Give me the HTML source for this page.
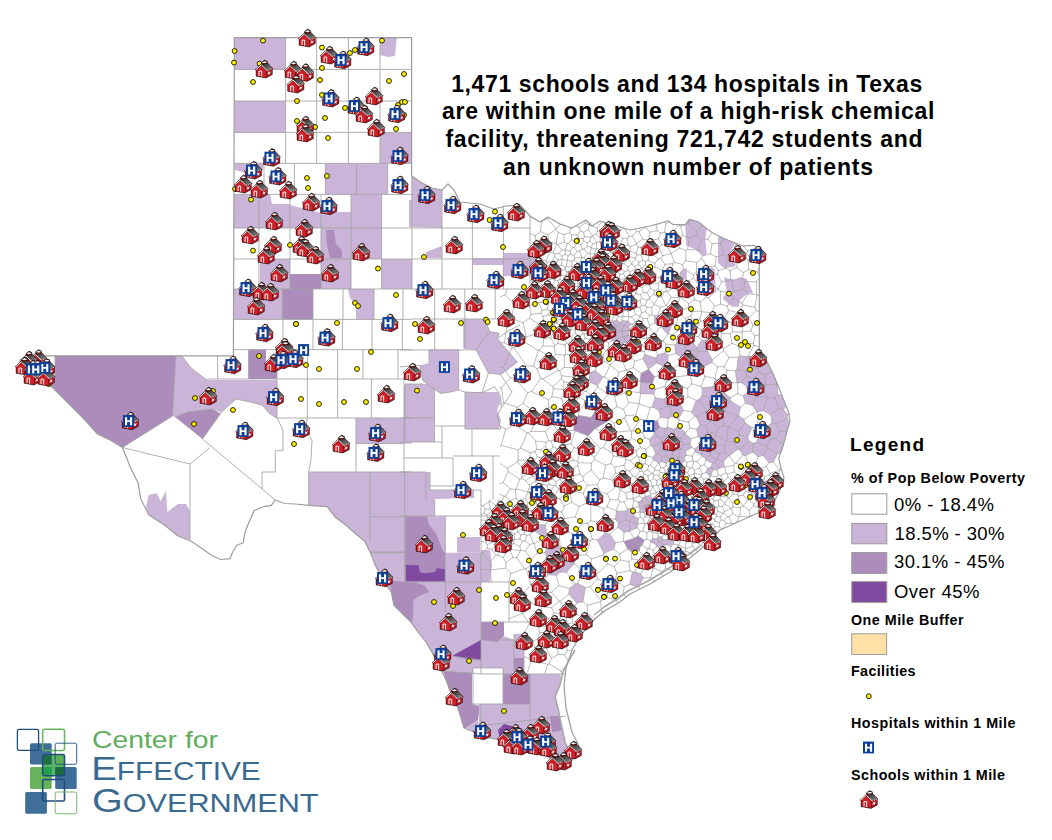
<!DOCTYPE html>
<html><head><meta charset="utf-8"><title>Texas map</title>
<style>html,body{margin:0;padding:0;background:#fff}svg{display:block}</style></head>
<body><svg width="1052" height="840" viewBox="0 0 1052 840">
<defs>
<clipPath id="txclip"><path d="M234.4,37.6 233.4,355.8 40.0,355.8 28.0,358.0 23.0,366.0 30.0,375.0 42.0,380.0 50.0,385.0 57.5,392.5 65.0,400.0 75.0,410.0 85.0,420.0 97.5,434.0 110.0,440.0 122.5,447.5 127.5,460.0 130.0,466.7 138.0,482.7 140.7,498.7 148.7,514.7 164.7,525.3 178.0,536.0 191.3,541.3 199.3,546.7 212.7,556.0 220.7,559.5 230.0,558.7 232.7,552.0 236.7,545.3 243.3,542.7 244.7,533.3 248.7,522.7 254.0,510.7 263.3,506.7 271.3,505.3 275.3,500.0 284.7,503.5 295.3,504.0 308.7,505.3 327.3,506.7 335.3,517.3 346.0,525.3 356.7,534.7 364.7,541.3 371.3,554.7 375.3,565.3 383.3,581.3 391.3,592.0 394.0,605.3 404.7,616.0 410.0,621.0 418.0,632.0 426.0,642.0 434.0,656.0 440.0,668.0 446.0,680.0 452.0,696.0 458.0,708.0 464.0,728.0 474.0,732.0 480.0,738.0 490.0,738.0 500.0,740.0 504.0,748.0 520.0,752.0 540.0,752.0 550.0,758.0 556.0,768.0 564.0,768.0 572.0,760.0 580.0,750.0 578.0,744.0 572.0,732.0 566.0,708.0 564.0,686.0 566.0,668.0 572.0,650.0 580.0,636.0 592.0,622.0 596.0,618.0 606.0,610.0 620.0,602.0 630.0,594.0 650.0,584.0 670.0,572.0 690.0,558.0 702.0,548.0 720.0,530.0 738.0,522.0 760.0,512.0 772.0,510.0 775.0,500.0 780.0,490.0 784.0,478.0 781.0,468.0 778.7,458.0 783.2,445.8 786.3,433.6 790.0,421.4 788.6,412.3 783.2,398.6 777.1,383.3 772.6,372.7 766.5,360.5 759.3,356.0 759.3,248.0 753.3,245.3 742.7,246.0 734.7,242.7 722.7,238.0 713.3,233.3 706.7,228.7 698.7,222.0 689.3,219.3 685.3,224.7 673.3,224.7 668.0,220.7 660.0,223.3 650.0,226.0 630.0,230.0 610.0,224.0 600.0,221.0 592.0,226.0 586.0,220.0 572.0,228.0 560.0,224.0 548.0,217.0 540.0,222.0 530.0,216.0 520.0,205.0 506.0,206.0 494.0,209.0 480.0,204.0 470.0,203.0 460.0,202.0 454.0,190.0 448.0,184.0 442.0,190.0 432.0,188.0 422.0,183.0 411.6,176.0 411.6,37.6Z"/></clipPath>
<linearGradient id="rg" x1="0" y1="0" x2="1" y2="1"><stop offset="0" stop-color="#2a2a2a"/><stop offset="1" stop-color="#8e8e8e"/></linearGradient>
<symbol id="s" width="18" height="18" viewBox="0 0 18 18" overflow="visible">
<path d="M0.1,9.8 L6.2,4.1 L7.2,2.2 L9.4,0.3 L12,1.2 L12.9,3.4 L17.9,8.5 L17.3,9.3 L17.3,14.6 L11,18 L1.1,16.2 L1.1,10.3 Z" fill="#2e0306" stroke="#2a0205" stroke-width="0.5" stroke-linejoin="round"/>
<path d="M6.6,4.7 L12.8,3.7 L17.6,8.6 L12.3,10.5 Z" fill="url(#rg)"/>
<path d="M11.6,10.7 L17,8.9 L17,14.2 L11.1,17.5 Z" fill="#ae1820"/>
<path d="M6.3,5.6 L11.7,10.7 L11.2,11 L10.9,17.5 L1.6,15.7 L1.6,10.1 L1,10.1 Z" fill="#cc2028"/>
<path d="M0.7,9.9 L6.3,4.9 L12.2,10.6" fill="none" stroke="#fff" stroke-width="0.95"/>
<path d="M12.2,10.6 L17.4,8.8" fill="none" stroke="#fff" stroke-width="0.7" stroke-dasharray="1.1 0.8"/>
<path d="M4.05,16.2 V11.1 H6.65 V16.7" fill="none" stroke="#fff" stroke-width="0.95"/>
<path d="M12.7,13.4 L15.4,12.3 M13.5,11.6 L14.6,14.4 M12.9,14.4 L15.2,11.8" stroke="#fff" stroke-width="0.8"/>
<path d="M7.9,3.9 Q9.3,4.6 10.8,3.5 L10.6,2.4 L8,2.6 Z" fill="#8a2a1c"/>
<ellipse cx="9.4" cy="2.1" rx="2.8" ry="1" fill="#fff"/>
<path d="M6.3,2.6 Q9.2,-0.7 12.5,1.8" fill="none" stroke="#111" stroke-width="0.8"/>
</symbol>
<symbol id="h" width="11" height="12" viewBox="0 0 11 12" overflow="visible">
<rect x="0" y="0" width="11" height="11.8" fill="#0c3f98"/>
<path d="M2,2.1 h2.1 v3.1 h2.9 v-3.1 h2.1 v8 h-2.1 v-3.1 h-2.9 v3.1 h-2.1 z" fill="#fff"/>
</symbol>
<symbol id="d" width="1" height="1" viewBox="0 0 1 1" overflow="visible">
<circle cx="0" cy="0" r="2.45" fill="#fff200" stroke="#1c1c00" stroke-width="0.95"/>
</symbol>
</defs>
<rect width="1052" height="840" fill="#fff"/>
<path d="M234.4,37.6 233.4,355.8 40.0,355.8 28.0,358.0 23.0,366.0 30.0,375.0 42.0,380.0 50.0,385.0 57.5,392.5 65.0,400.0 75.0,410.0 85.0,420.0 97.5,434.0 110.0,440.0 122.5,447.5 127.5,460.0 130.0,466.7 138.0,482.7 140.7,498.7 148.7,514.7 164.7,525.3 178.0,536.0 191.3,541.3 199.3,546.7 212.7,556.0 220.7,559.5 230.0,558.7 232.7,552.0 236.7,545.3 243.3,542.7 244.7,533.3 248.7,522.7 254.0,510.7 263.3,506.7 271.3,505.3 275.3,500.0 284.7,503.5 295.3,504.0 308.7,505.3 327.3,506.7 335.3,517.3 346.0,525.3 356.7,534.7 364.7,541.3 371.3,554.7 375.3,565.3 383.3,581.3 391.3,592.0 394.0,605.3 404.7,616.0 410.0,621.0 418.0,632.0 426.0,642.0 434.0,656.0 440.0,668.0 446.0,680.0 452.0,696.0 458.0,708.0 464.0,728.0 474.0,732.0 480.0,738.0 490.0,738.0 500.0,740.0 504.0,748.0 520.0,752.0 540.0,752.0 550.0,758.0 556.0,768.0 564.0,768.0 572.0,760.0 580.0,750.0 578.0,744.0 572.0,732.0 566.0,708.0 564.0,686.0 566.0,668.0 572.0,650.0 580.0,636.0 592.0,622.0 596.0,618.0 606.0,610.0 620.0,602.0 630.0,594.0 650.0,584.0 670.0,572.0 690.0,558.0 702.0,548.0 720.0,530.0 738.0,522.0 760.0,512.0 772.0,510.0 775.0,500.0 780.0,490.0 784.0,478.0 781.0,468.0 778.7,458.0 783.2,445.8 786.3,433.6 790.0,421.4 788.6,412.3 783.2,398.6 777.1,383.3 772.6,372.7 766.5,360.5 759.3,356.0 759.3,248.0 753.3,245.3 742.7,246.0 734.7,242.7 722.7,238.0 713.3,233.3 706.7,228.7 698.7,222.0 689.3,219.3 685.3,224.7 673.3,224.7 668.0,220.7 660.0,223.3 650.0,226.0 630.0,230.0 610.0,224.0 600.0,221.0 592.0,226.0 586.0,220.0 572.0,228.0 560.0,224.0 548.0,217.0 540.0,222.0 530.0,216.0 520.0,205.0 506.0,206.0 494.0,209.0 480.0,204.0 470.0,203.0 460.0,202.0 454.0,190.0 448.0,184.0 442.0,190.0 432.0,188.0 422.0,183.0 411.6,176.0 411.6,37.6Z" fill="#fff" stroke="none"/>
<path d="M234.4,69.4 285.6,69.4 285.6,37.6 234.4,37.6Z" fill="#cab5d9"/>
<path d="M234.4,132.4 285.6,132.4 285.6,101.0 234.4,101.0Z" fill="#cab5d9"/>
<path d="M380.0,163.4 411.6,163.4 411.6,132.4 380.0,132.4Z" fill="#cab5d9"/>
<path d="M380.0,55.0 388.0,57.0 395.0,56.0 396.0,45.0 397.0,37.6 380.0,37.6Z" fill="#cab5d9"/>
<path d="M325.4,194.4 387.6,194.4 387.6,163.4 325.4,163.4Z" fill="#cab5d9"/>
<path d="M234.4,170.0 248.0,173.0 262.0,172.0 264.0,163.4 234.4,163.4Z" fill="#cab5d9"/>
<path d="M259.0,228.0 259.0,194.4 233.9,194.4 233.8,228.0Z" fill="#cab5d9"/>
<path d="M259.0,228.0 290.0,228.0 290.0,204.0 272.0,204.0 270.0,194.4 259.0,194.4Z" fill="#cab5d9"/>
<path d="M290.0,228.0 321.0,228.0 321.0,213.0 290.0,205.0Z" fill="#cab5d9"/>
<path d="M321.0,228.0 351.0,228.0 351.0,212.0 321.0,212.0Z" fill="#cab5d9"/>
<path d="M351.0,228.0 381.6,228.0 381.6,194.4 351.0,194.4Z" fill="#cab5d9"/>
<path d="M321.0,259.0 381.6,259.0 381.6,228.0 321.0,228.0Z" fill="#cab5d9"/>
<path d="M327.0,245.0 330.0,258.0 342.0,258.0 342.0,250.0 336.0,244.0 334.0,230.0 326.0,230.0Z" fill="#ab8cbb"/>
<path d="M260.0,289.0 290.0,289.0 290.0,259.0 260.0,259.0Z" fill="#cab5d9"/>
<path d="M290.0,289.0 321.0,289.0 321.0,274.0 290.0,274.0Z" fill="#ab8cbb"/>
<path d="M321.0,289.0 351.0,289.0 351.0,259.0 321.0,259.0Z" fill="#cab5d9"/>
<path d="M381.6,289.0 412.0,289.0 412.0,259.0 381.6,259.0Z" fill="#cab5d9"/>
<path d="M233.6,319.4 282.4,319.4 282.4,289.0 233.6,289.0 233.6,292.2Z" fill="#cab5d9"/>
<path d="M282.4,319.4 313.0,319.4 313.0,289.0 282.4,289.0Z" fill="#ab8cbb"/>
<path d="M350.0,298.0 356.0,305.0 356.0,319.4 374.0,319.4 374.0,289.0 348.0,289.0Z" fill="#cab5d9"/>
<path d="M686.0,245.3 694.7,249.3 704.0,256.0 706.7,253.3 705.3,240.0 706.7,228.7 698.7,222.0 689.3,219.3 685.3,224.7Z" fill="#cab5d9"/>
<path d="M718.0,262.7 724.0,268.0 734.7,266.7 736.0,264.0 729.3,260.0 729.3,253.3 732.7,248.0 734.7,242.7 722.7,238.0 718.0,235.7Z" fill="#cab5d9"/>
<path d="M726.7,290.7 722.7,298.7 732.0,306.7 738.7,306.7 740.0,300.0 748.0,293.3 753.3,293.3 746.7,278.7 740.0,277.3 734.7,280.0 724.0,277.3Z" fill="#cab5d9"/>
<path d="M681.3,278.7 686.7,280.0 686.7,268.0 680.0,272.0Z" fill="#cab5d9"/>
<path d="M710.7,290.7 716.0,292.0 714.7,269.3 710.7,266.7Z" fill="#cab5d9"/>
<path d="M411.6,200.0 409.0,200.0 409.0,227.0 442.0,228.0 442.0,190.0 432.0,188.0 422.0,183.0 411.6,176.0Z" fill="#cab5d9"/>
<path d="M472.4,265.0 503.4,265.0 503.4,258.0 472.4,258.0Z" fill="#cab5d9"/>
<path d="M503.4,276.0 530.0,276.0 530.0,253.0 503.4,253.0Z" fill="#cab5d9"/>
<path d="M426.0,258.0 442.0,258.0 442.0,246.0 426.0,252.0Z" fill="#cab5d9"/>
<path d="M55.0,377.0 50.0,385.0 57.5,392.5 65.0,400.0 75.0,410.0 85.0,420.0 97.5,434.0 110.0,440.0 122.5,447.5 172.5,416.0 176.0,355.8 55.0,355.8Z" fill="#ab8cbb"/>
<path d="M172.5,416.0 175.0,417.0 187.5,412.0 212.5,409.0 221.0,412.5 236.0,399.0 250.0,402.0 262.0,405.0 270.0,414.0 277.0,418.0 277.0,380.0 207.0,380.0 200.0,375.0 190.0,367.0 182.0,356.0 176.0,355.8Z" fill="#cab5d9"/>
<path d="M202.5,439.0 220.5,414.0 212.5,409.0 187.5,412.0 175.0,417.0Z" fill="#ab8cbb"/>
<path d="M248.6,379.0 266.0,379.0 266.0,349.6 248.6,349.6Z" fill="#ab8cbb"/>
<path d="M266.0,379.0 277.0,379.0 277.0,372.0 266.0,365.0Z" fill="#ab8cbb"/>
<path d="M356.0,443.6 404.0,443.6 404.0,418.0 356.0,418.0Z" fill="#cab5d9"/>
<path d="M404.0,443.6 412.0,443.6 412.0,386.0 404.0,386.0Z" fill="#cab5d9"/>
<path d="M146.0,506.7 148.7,514.7 164.7,525.3 178.0,536.0 190.0,540.0 190.0,510.7 186.0,504.0 178.0,504.0 167.3,512.0 166.0,490.7 160.7,501.3 156.7,493.3 148.7,494.7Z" fill="#cab5d9"/>
<path d="M308.7,505.3 327.3,506.7 335.3,517.3 346.0,525.3 356.7,534.7 364.7,541.3 371.3,554.7 375.3,565.3 383.3,581.3 391.3,592.0 394.0,605.3 404.7,616.0 412.0,621.0 412.0,472.0 308.7,472.0Z" fill="#cab5d9"/>
<path d="M429.0,363.0 419.8,365.3 422.9,380.6 430.5,386.7 441.1,393.5 450.3,392.0 458.7,389.7 458.7,349.3 429.0,349.3Z" fill="#cab5d9"/>
<path d="M405.0,442.0 434.0,442.0 434.0,384.0 405.0,384.0Z" fill="#cab5d9"/>
<path d="M400.0,442.0 405.0,442.0 405.0,418.0 400.0,418.0Z" fill="#cab5d9"/>
<path d="M465.0,429.0 499.0,429.0 501.0,420.0 497.0,410.0 501.0,400.0 498.0,392.0 465.0,392.0Z" fill="#cab5d9"/>
<path d="M463.2,348.6 476.2,350.1 488.4,373.0 500.6,374.5 517.3,362.3 497.5,338.7 499.0,333.3 489.9,331.8 484.6,318.9 463.2,318.9Z" fill="#cab5d9"/>
<path d="M400.0,516.3 434.7,516.3 434.7,499.0 474.0,498.0 474.0,490.0 430.0,490.0 430.0,472.0 400.0,472.0Z" fill="#cab5d9"/>
<path d="M400.0,611.3 404.7,616.0 410.0,621.0 418.0,632.0 426.0,642.0 434.0,656.0 440.0,668.0 443.0,671.0 481.0,674.0 481.0,622.0 481.0,582.0 405.0,582.0 405.0,516.0 400.0,516.0Z" fill="#cab5d9"/>
<path d="M405.3,582.0 445.3,582.0 445.3,516.3 405.3,516.3Z" fill="#cab5d9"/>
<path d="M405.3,564.7 418.7,565.3 420.0,572.0 424.0,573.3 434.7,572.0 437.3,568.0 445.3,569.3 445.3,553.3 442.7,550.7 436.0,533.3 429.3,525.3 426.7,516.3 405.3,516.3Z" fill="#ab8cbb"/>
<path d="M405.3,581.6 445.3,581.6 445.3,569.3 437.3,568.0 434.7,572.0 424.0,573.3 420.0,572.0 418.7,565.3 405.3,564.7Z" fill="#7f4a9f"/>
<path d="M445.3,582.0 481.3,582.0 481.3,552.7 445.3,552.7Z" fill="#cab5d9"/>
<path d="M457.0,552.7 480.0,552.7 480.0,537.0 457.0,537.0Z" fill="#cab5d9"/>
<path d="M391.3,592.0 394.0,605.3 404.7,616.0 410.0,621.0 410.2,621.3 412.0,623.0 413.3,612.0 413.3,600.0 418.7,596.0 429.3,592.0 424.0,585.3 413.3,582.0 405.3,582.0 389.3,580.0Z" fill="#ab8cbb"/>
<path d="M481.0,582.0 490.0,582.0 492.0,566.0 490.0,550.0 481.0,550.0Z" fill="#cab5d9"/>
<path d="M481.0,642.0 498.0,642.0 504.0,636.0 504.0,622.0 481.0,622.0Z" fill="#ab8cbb"/>
<path d="M468.0,659.0 481.0,660.0 481.0,640.0 452.0,656.0Z" fill="#7f4a9f"/>
<path d="M481.0,674.0 514.0,674.0 514.0,640.0 504.0,636.0 498.0,642.0 481.0,640.0Z" fill="#cab5d9"/>
<path d="M514.0,658.0 524.0,658.0 524.0,634.0 514.0,634.0Z" fill="#cab5d9"/>
<path d="M514.0,672.0 524.0,672.0 524.0,658.0 514.0,658.0Z" fill="#ab8cbb"/>
<path d="M446.0,680.0 452.0,696.0 458.0,708.0 464.0,728.0 466.0,728.0 478.0,720.0 480.0,706.0 472.0,704.0 472.0,673.0 443.0,671.0Z" fill="#ab8cbb"/>
<path d="M503.0,704.0 530.0,704.0 530.0,674.0 503.0,674.0Z" fill="#ab8cbb"/>
<path d="M530.0,724.0 568.0,722.0 566.0,708.0 564.0,686.0 560.0,674.0 530.0,674.0Z" fill="#cab5d9"/>
<path d="M479.0,726.0 530.0,726.0 530.0,704.0 479.0,704.0Z" fill="#cab5d9"/>
<path d="M474.0,732.0 480.0,738.0 490.0,738.0 500.0,740.0 504.0,748.0 520.0,752.0 540.0,752.0 550.0,758.0 556.0,768.0 564.0,768.0 572.0,760.0 580.0,750.0 578.0,744.0 572.0,732.0 566.0,716.0 479.0,726.0 478.0,720.0 466.0,728.0Z" fill="#cab5d9"/>
<path d="M473.0,704.0 503.0,704.0 503.0,668.0 473.0,668.0Z" fill="#ffffff"/>
<path d="M500.0,740.0 512.0,740.0 512.0,726.0 504.0,724.0 498.0,730.0Z" fill="#7f4a9f"/>
<path d="M552.0,732.0 566.0,730.0 562.0,716.0 550.0,716.0Z" fill="#ab8cbb"/>
<path d="M575.0,650.0 568.0,662.0 563.0,672.0 560.0,685.0 555.0,697.0 558.0,708.0 561.0,723.0 565.0,742.0 570.0,752.0 580.0,750.0 578.0,744.0 572.0,732.0 566.0,708.0 564.0,686.0 566.0,668.0 572.0,650.0Z" fill="#fff"/>
<path d="M698.5,399.9 696.2,400.4 691.7,411.9 694.4,415.9 696.3,416.5 706.7,411.7 706.7,410.9ZM629.1,520.8 626.2,520.0 618.4,523.2 617.7,527.4 624.0,532.2 629.5,531.2 629.8,530.7 629.4,521.2ZM660.6,326.0 660.6,326.3 667.6,334.0 668.2,333.7 671.8,324.8 666.2,319.3 665.5,319.5ZM644.7,505.3 641.6,500.5 638.1,502.1 639.3,506.9 639.8,507.2 644.4,505.7ZM726.8,441.2 728.2,427.1 723.8,425.4 718.7,427.8 715.7,433.5 716.0,435.1ZM576.9,603.1 582.8,601.7 585.4,587.7 577.9,583.6 574.7,583.9 569.5,588.6 568.8,594.1ZM724.9,451.7 728.8,455.7 729.1,455.8 738.3,449.1 733.6,442.1 726.9,441.4 724.6,445.1ZM775.6,423.8 787.0,418.6 787.5,414.6 783.4,409.5 778.8,408.4 770.7,414.6 772.1,422.5ZM669.5,446.1 669.4,448.7 672.5,451.7 679.7,448.8 674.9,443.4 671.5,443.7ZM661.3,541.9 658.8,541.9 656.5,544.9 656.8,546.6 662.0,549.4 663.8,545.7ZM669.3,458.2 665.4,455.8 662.0,457.2 661.4,461.4 666.2,463.4 669.6,460.8ZM615.6,333.0 622.1,331.2 622.1,331.1 621.9,330.0 617.5,326.4 615.7,326.7 614.3,328.7 614.9,332.5ZM745.3,455.7 752.9,452.1 753.4,443.3 749.2,441.3 739.4,449.4 742.9,454.8ZM710.3,416.0 710.0,421.4 718.7,427.8 723.8,425.4 722.0,414.5ZM574.2,562.6 561.7,555.1 557.6,559.6 560.3,572.1 566.5,572.3 574.2,563.6ZM692.2,341.6 684.4,344.1 684.2,344.4 685.9,350.9 696.7,349.7 696.6,347.7ZM724.2,392.7 718.5,393.5 714.7,398.7 714.9,402.3 724.2,410.5 730.4,400.7 730.2,397.7ZM775.4,438.5 780.1,431.1 775.6,423.8 772.1,422.5 764.7,428.9 771.1,439.1ZM544.9,552.7 548.8,559.8 557.6,559.6 561.7,555.1 562.0,548.5 560.1,546.2 547.5,547.2ZM656.5,362.8 664.3,366.4 667.4,365.8 668.1,355.3 665.3,352.7 657.7,355.0 655.8,358.2ZM533.7,267.5 537.8,259.1 537.1,255.8 530.8,249.9 530.0,250.0 530.0,268.4ZM676.9,343.2 674.8,345.1 675.9,353.6 682.1,357.5 685.9,350.9 684.2,344.4ZM671.2,416.6 678.5,418.9 683.3,410.2 679.5,402.2 670.0,407.1ZM680.8,438.1 685.4,434.2 685.4,432.6 678.1,426.1 673.8,429.4 673.8,434.0 679.4,438.1ZM702.4,437.8 700.6,438.1 699.8,444.4 705.1,448.6 707.7,448.4 709.9,441.7ZM767.2,447.7 777.7,453.5 780.7,452.6 783.2,445.8 783.4,445.0 775.4,438.5 771.1,439.1 766.8,446.2ZM615.5,542.7 609.7,534.0 605.1,533.6 597.4,539.9 603.9,553.3 613.7,548.9ZM753.9,378.7 758.8,372.5 757.4,368.5 749.1,366.8 745.9,371.2 746.9,375.9ZM752.1,405.0 756.1,396.9 752.0,389.1 750.8,389.2 743.4,396.1 745.4,403.5ZM738.5,415.6 737.8,415.8 729.0,426.9 738.3,431.8 745.0,422.9 743.9,419.4ZM769.0,462.6 773.1,462.1 777.7,453.5 767.2,447.7 763.1,455.4ZM771.1,439.1 764.7,428.9 761.7,428.9 756.5,442.4 766.8,446.2ZM730.4,400.7 724.2,410.5 724.2,410.7 737.8,415.8 738.5,415.6 740.4,407.3ZM707.6,468.3 706.1,472.6 710.2,476.2 710.7,475.9 713.1,469.6 710.9,467.6ZM748.2,355.8 746.3,356.8 749.1,366.8 757.4,368.5 762.4,360.0 762.3,359.9ZM632.4,337.8 628.9,335.3 624.0,336.9 625.9,342.0 628.2,342.7ZM746.3,356.8 740.2,355.8 738.3,357.2 736.9,369.5 745.9,371.2 749.1,366.8ZM654.5,434.2 649.2,439.3 650.7,445.4 652.3,446.0 659.7,443.9 661.1,441.8 661.3,438.6ZM667.2,406.0 664.2,399.3 655.2,397.7 652.2,406.8 658.9,410.5ZM778.8,408.4 775.0,397.7 767.3,397.9 763.2,410.5 770.7,414.6ZM640.6,393.7 653.7,394.0 655.4,389.2 652.3,383.4 640.8,382.5 639.8,392.4ZM690.6,374.6 701.5,369.8 702.4,367.2 696.4,359.7 684.8,361.7ZM719.0,453.8 724.9,451.7 724.6,445.1 716.7,445.6 714.7,450.3ZM623.0,336.4 622.1,331.2 615.6,333.0 617.5,339.3ZM702.4,367.2 712.1,362.3 712.2,359.8 707.5,351.3 698.1,351.5 696.4,359.7ZM752.9,452.1 758.1,456.8 763.1,455.4 767.2,447.7 766.8,446.2 756.5,442.4 753.4,443.3ZM728.0,383.5 725.5,380.2 715.2,379.2 713.8,386.6 718.5,393.5 724.2,392.7ZM714.7,398.7 718.5,393.5 713.8,386.6 702.2,388.0 702.1,395.7ZM642.4,498.2 641.6,500.5 644.7,505.3 648.1,504.0 649.0,502.7 644.7,497.3ZM615.4,519.2 618.4,523.2 626.2,520.0 625.7,511.2 616.5,511.3ZM696.3,416.5 700.1,425.0 705.5,425.6 710.0,421.4 710.3,416.0 706.7,411.7ZM716.0,435.1 715.7,433.5 707.6,431.6 702.4,437.8 709.9,441.7 712.9,440.7ZM724.2,410.5 714.9,402.3 706.7,410.9 706.7,411.7 710.3,416.0 722.0,414.5 724.2,410.7ZM658.4,536.6 657.1,538.5 658.8,541.9 661.3,541.9 662.9,539.5 662.0,537.1ZM741.1,382.4 746.9,375.9 745.9,371.2 736.9,369.5 735.4,370.8 737.0,382.5 737.7,382.9ZM659.7,443.9 652.3,446.0 655.8,453.8 658.1,453.6 661.4,449.7ZM626.2,520.0 629.1,520.8 633.9,516.1 634.3,513.1 630.9,508.7 627.6,508.8 625.7,511.2ZM707.6,431.6 705.5,425.6 700.1,425.0 696.7,429.3 698.3,436.6 700.6,438.1 702.4,437.8ZM673.8,544.0 673.3,541.9 668.6,538.2 667.1,539.8 667.0,544.5 670.8,546.3ZM597.4,385.5 603.0,377.0 595.2,370.7 590.2,372.6 589.3,379.4 590.6,382.6ZM787.0,418.6 775.6,423.8 780.1,431.1 786.9,431.7 789.6,422.8ZM716.0,459.7 715.1,461.8 719.1,468.1 724.0,466.8 723.6,461.5 717.3,459.0ZM758.8,372.5 753.9,378.7 755.4,385.3 764.3,385.6 765.2,384.8 765.2,375.0ZM628.0,320.9 627.1,321.4 625.3,325.4 628.6,327.7 631.6,324.2ZM712.4,463.3 715.1,461.8 716.0,459.7 710.1,455.1 705.8,458.4 706.1,460.0ZM678.6,463.6 681.6,464.0 684.8,460.8 683.8,458.0 679.2,457.1 678.1,457.6 677.8,458.4ZM765.2,375.0 765.2,384.8 776.6,384.4 776.7,382.3 772.6,372.7 771.9,371.2ZM707.7,448.4 705.1,448.6 701.2,454.7 702.0,456.2 705.8,458.4 710.1,455.1 710.9,451.4ZM612.2,340.3 616.0,341.0 617.0,340.3 617.5,339.3 615.6,333.0 614.9,332.5 609.4,334.8ZM659.7,443.9 661.4,449.7 666.2,450.7 669.4,448.7 669.5,446.1 661.1,441.8ZM681.1,448.8 685.3,451.3 691.9,447.6 689.9,444.1 683.5,444.5ZM635.0,571.9 632.3,572.2 629.8,584.5 638.8,586.9 643.2,577.9 640.4,573.7ZM780.1,431.1 775.4,438.5 783.4,445.0 786.3,433.6 786.9,431.7ZM682.1,357.5 682.8,360.6 684.8,361.7 696.4,359.7 698.1,351.5 696.7,349.7 685.9,350.9ZM750.8,389.2 752.0,389.1 755.4,385.3 753.9,378.7 746.9,375.9 741.1,382.4ZM757.6,411.6 763.2,410.5 767.3,397.9 766.2,396.9 756.1,396.9 752.1,405.0 756.5,411.1ZM724.6,445.1 726.9,441.4 726.8,441.2 716.0,435.1 712.9,440.7 716.7,445.6ZM747.5,438.0 752.0,427.5 745.0,422.9 738.3,431.8 739.2,434.8ZM678.1,457.6 672.8,454.2 669.3,458.2 669.6,460.8 671.6,461.9 677.8,458.4ZM699.8,444.4 694.4,449.2 695.0,451.8 701.2,454.7 705.1,448.6ZM658.9,463.0 661.4,461.4 662.0,457.2 658.1,453.6 655.8,453.8 652.6,457.4 653.3,459.7 658.7,463.0ZM661.1,441.8 669.5,446.1 671.5,443.7 669.6,437.2 664.7,436.2 661.3,438.6ZM672.5,451.7 669.4,448.7 666.2,450.7 665.4,455.8 669.3,458.2 672.8,454.2ZM738.3,431.8 729.0,426.9 728.2,427.1 726.8,441.2 726.9,441.4 733.6,442.1 739.2,434.8ZM629.8,530.7 637.2,527.8 637.2,524.4 629.4,521.2ZM765.2,384.8 764.3,385.6 766.2,396.9 767.3,397.9 775.0,397.7 777.8,394.7 777.1,385.0 776.6,384.4ZM621.9,330.0 623.8,325.9 620.5,322.6 617.5,326.4ZM639.8,507.2 639.8,512.0 640.2,512.3 643.9,512.6 645.7,511.1 644.4,505.7ZM719.0,453.8 714.7,450.3 710.9,451.4 710.1,455.1 716.0,459.7 717.3,459.0ZM543.3,537.2 546.4,534.2 545.3,525.1 537.4,524.6 534.9,531.2ZM710.9,467.6 713.1,469.6 717.5,470.1 719.1,468.1 715.1,461.8 712.4,463.3ZM777.8,394.7 775.0,397.7 778.8,408.4 783.4,409.5 786.1,405.8 783.2,398.6 781.8,395.1ZM716.7,445.6 712.9,440.7 709.9,441.7 707.7,448.4 710.9,451.4 714.7,450.3ZM686.3,455.4 685.3,451.3 681.1,448.8 680.4,449.0 679.2,457.1 683.8,458.0ZM747.5,438.0 739.2,434.8 733.6,442.1 738.3,449.1 739.4,449.4 749.2,441.3ZM664.7,436.2 664.9,428.6 659.7,427.1 654.4,432.9 654.5,434.2 661.3,438.6ZM620.5,322.6 620.5,322.5 616.6,320.2 613.0,321.3 615.7,326.7 617.5,326.4ZM644.7,497.3 649.0,502.7 649.5,502.4 651.8,498.2 650.4,495.5 645.2,496.4ZM669.6,437.2 673.8,434.0 673.8,429.4 667.5,427.1 664.9,428.6 664.7,436.2ZM657.1,538.5 652.6,538.8 650.5,540.7 650.8,541.7 656.5,544.9 658.8,541.9ZM674.9,443.4 679.7,448.8 680.4,449.0 681.1,448.8 683.5,444.5 680.8,438.1 679.4,438.1ZM668.1,418.5 671.2,416.6 670.0,407.1 667.2,406.0 658.9,410.5 660.6,417.2ZM696.6,347.7 696.7,349.7 698.1,351.5 707.5,351.3 710.5,345.0 708.2,339.9 701.9,340.2ZM622.1,331.1 628.6,330.6 628.9,330.3 628.6,327.7 625.3,325.4 623.8,325.9 621.9,330.0ZM660.6,326.0 665.5,319.5 658.0,315.0 654.5,315.9 654.5,323.1ZM683.5,444.5 689.9,444.1 691.0,438.6 685.4,434.2 680.8,438.1ZM543.9,567.6 547.8,574.7 556.4,575.2 560.3,572.1 557.6,559.6 548.8,559.8ZM722.0,414.5 723.8,425.4 728.2,427.1 729.0,426.9 737.8,415.8 724.2,410.7ZM637.2,524.4 637.8,523.9 638.3,518.6 633.9,516.1 629.1,520.8 629.4,521.2ZM614.3,328.7 615.7,326.7 613.0,321.3 612.3,321.0 611.1,321.2 608.9,327.8ZM656.5,362.8 655.8,358.2 645.0,354.4 642.9,358.7 648.6,369.2ZM715.7,433.5 718.7,427.8 710.0,421.4 705.5,425.6 707.6,431.6ZM714.7,398.7 702.1,395.7 698.5,399.9 706.7,410.9 714.9,402.3ZM628.9,335.3 628.6,330.6 622.1,331.1 622.1,331.2 623.0,336.4 624.0,336.9ZM679.5,402.2 679.6,401.9 673.1,392.7 670.0,392.1 664.2,399.3 667.2,406.0 670.0,407.1ZM679.2,457.1 680.4,449.0 679.7,448.8 672.5,451.7 672.8,454.2 678.1,457.6ZM764.3,385.6 755.4,385.3 752.0,389.1 756.1,396.9 766.2,396.9ZM765.4,360.4 762.4,360.0 757.4,368.5 758.8,372.5 765.2,375.0 771.9,371.2 768.4,364.2ZM667.1,539.8 662.9,539.5 661.3,541.9 663.8,545.7 667.0,544.5ZM723.6,461.5 728.8,455.7 724.9,451.7 719.0,453.8 717.3,459.0ZM658.1,453.6 662.0,457.2 665.4,455.8 666.2,450.7 661.4,449.7ZM574.2,562.6 579.7,555.3 573.8,545.9 562.0,548.5 561.7,555.1ZM625.9,342.0 624.0,336.9 623.0,336.4 617.5,339.3 617.0,340.3 622.4,344.0ZM623.8,325.9 625.3,325.4 627.1,321.4 622.3,320.3 620.5,322.5 620.5,322.6ZM671.5,443.7 674.9,443.4 679.4,438.1 673.8,434.0 669.6,437.2ZM644.7,505.3 644.4,505.7 645.7,511.1 648.3,511.4 650.7,509.2 648.1,504.0Z" fill="#cab5d9"/>
<path d="M641.2,373.3 640.0,381.1 640.8,382.5 652.3,383.4 654.5,376.6 648.5,369.3ZM574.0,429.8 574.9,430.8 587.7,435.6 588.5,435.4 595.2,428.2 591.1,417.5 578.5,415.5 573.7,418.9ZM644.3,540.2 638.1,536.0 634.2,538.1 634.1,538.3 635.2,542.8 640.5,545.8 641.9,545.2ZM595.7,428.2 609.6,419.9 608.0,412.9 598.3,406.5 591.1,417.5 595.2,428.2ZM623.9,541.5 627.7,549.1 629.7,549.8 635.2,542.8 634.1,538.3ZM635.2,542.8 629.7,549.8 631.2,551.7 639.1,550.6 640.5,545.8ZM659.7,427.1 657.4,420.9 647.4,420.9 647.8,426.6 654.4,432.9Z" fill="#ab8cbb"/>
<path d="M530.0,217.1 535.4,219.2M540.9,221.4 541.5,221.7M535.1,235.8 530.0,233.5M535.1,235.8 540.5,231.7M541.5,221.7 540.5,231.7M541.5,221.7 547.6,218.8M548.3,217.2 547.6,218.8M527.5,672.2 531.4,659.8M524.0,656.5 530.9,658.9M531.4,659.8 530.9,658.9M570.6,228.6 571.6,227.9M570.6,228.6 568.6,226.9M556.0,228.6 547.6,218.8M556.0,228.6 561.0,224.3M500.0,342.8 504.4,342.7M504.4,342.7 511.9,347.7M511.9,347.7 503.3,367.6M503.3,367.6 500.0,367.4M732.1,343.3 738.2,345.8M738.2,345.8 742.4,341.5M742.4,341.5 741.9,332.2M741.9,332.2 732.7,331.7M732.1,343.3 730.2,333.8M730.2,333.8 732.7,331.7M531.4,659.8 547.8,664.4M545.1,673.0 547.8,664.4M546.4,648.4 535.1,648.8M546.4,648.4 551.3,658.3M551.3,658.3 549.0,663.8M535.1,648.8 530.9,658.9M547.8,664.4 549.0,663.8M522.2,613.4 509.0,618.8M522.2,613.4 529.4,623.6M529.4,623.6 523.7,634.0M535.1,648.8 533.0,641.8M533.0,641.8 524.0,637.0M501.2,445.4 500.0,446.3M501.2,445.4 505.7,429.2M505.7,429.2 500.0,425.9M584.6,220.8 585.3,222.7M575.7,225.9 578.9,227.2M578.9,227.2 585.3,222.7M602.0,221.6 597.0,227.9M589.9,223.9 589.2,224.8M597.0,227.9 589.3,225.2M589.2,224.8 589.3,225.2M585.3,222.7 589.2,224.8M757.1,295.1 756.6,294.6M754.8,307.4 757.1,295.1M754.8,307.4 742.7,304.8M742.0,303.2 742.7,304.8M742.0,303.2 747.8,293.9M747.8,293.9 756.6,294.6M756.2,281.7 756.6,294.6M759.3,295.1 757.1,295.1M756.2,281.7 759.3,278.1M666.0,223.3 664.5,232.3M666.0,223.3 664.2,222.0M664.5,232.3 660.8,233.1M660.8,233.1 657.3,230.6M656.1,224.3 657.3,230.6M658.5,238.6 651.0,240.8M648.4,239.5 651.0,240.8M648.4,239.5 649.9,232.1M660.8,233.1 658.5,238.6M649.9,232.1 657.3,230.6M723.3,348.6 723.5,350.6M723.5,350.6 729.1,357.4M732.1,343.3 723.3,348.6M738.2,345.8 740.2,355.8M740.2,355.8 738.3,357.2M729.1,357.4 738.3,357.2M738.3,357.2 736.9,369.5M745.9,371.2 736.9,369.5M740.2,355.8 746.3,356.8M745.9,371.2 749.1,366.8M746.3,356.8 749.1,366.8M754.8,307.4 756.3,310.5M756.3,310.5 759.3,311.7M746.3,356.8 748.2,355.8M757.4,368.5 749.1,366.8M762.4,360.0 762.3,359.9M762.4,360.0 757.4,368.5M748.2,355.8 762.3,359.9M756.3,310.5 748.7,317.9M759.3,323.8 753.0,325.2M753.0,325.2 748.7,317.9M730.2,333.8 721.5,333.3M723.3,348.6 720.3,345.4M720.3,345.4 721.5,333.3M710.5,345.0 707.5,351.3M720.3,345.4 710.5,345.0M723.5,350.6 712.2,359.8M712.2,359.8 707.5,351.3M729.1,357.4 724.0,366.8M717.7,366.8 724.0,366.8M717.7,366.8 712.1,362.3M712.2,359.8 712.1,362.3M717.7,366.8 714.8,378.5M714.8,378.5 704.9,376.2M712.1,362.3 702.4,367.2M702.4,367.2 701.5,369.8M701.5,369.8 704.9,376.2M582.0,523.2 575.4,534.7M582.0,523.2 575.2,516.9M575.2,516.9 564.5,518.6M575.4,534.7 562.4,530.1M564.5,518.6 562.0,523.4M562.4,530.1 562.0,523.4M613.9,422.9 624.8,417.8M624.8,417.8 630.4,430.7M613.9,422.9 615.6,432.4M615.6,432.4 630.4,430.7M599.7,479.9 603.1,478.1M591.1,470.2 599.7,479.9M594.6,459.6 605.6,465.2M591.4,463.2 594.6,459.6M591.4,463.2 591.1,470.2M605.6,465.2 603.1,478.1M561.1,671.0 549.0,663.8M561.1,671.0 561.7,673.8M540.7,605.5 541.2,606.2M540.7,605.5 525.4,602.7M529.4,623.6 535.3,623.5M535.3,623.5 541.5,615.6M525.4,602.7 522.2,613.4M541.2,606.2 541.5,615.6M535.3,623.5 537.9,626.1M537.9,626.1 539.7,632.5M533.0,641.8 538.6,637.5M538.6,637.5 539.7,632.5M546.4,648.4 548.0,644.9M548.0,644.9 545.0,639.8M538.6,637.5 545.0,639.8M551.6,607.8 541.2,606.2M540.7,605.5 547.0,592.2M547.0,592.2 551.5,592.4M551.6,607.8 559.4,601.2M551.5,592.4 559.4,601.2M535.6,441.1 546.2,442.2M535.6,441.1 536.6,449.2M536.6,449.2 540.9,449.9M540.9,449.9 545.5,446.2M545.5,446.2 546.2,442.2M538.1,350.5 533.7,366.2M524.2,341.7 538.1,350.5M514.0,347.8 524.2,341.7M514.0,347.8 526.2,365.9M526.2,365.9 533.7,366.2M552.2,424.6 545.3,431.5M545.3,431.5 530.8,431.4M544.1,414.0 552.2,424.6M544.1,414.0 539.0,414.9M539.0,414.9 530.8,431.4M545.3,431.5 548.6,440.6M546.2,442.2 548.6,440.6M535.6,441.1 528.6,433.0M530.8,431.4 528.6,433.0M530.2,452.7 520.5,448.0M530.2,452.7 529.9,460.1M529.9,460.1 518.2,460.1M518.2,460.1 518.1,449.8M520.5,448.0 518.1,449.8M527.3,433.1 528.6,433.0M534.9,451.6 536.6,449.2M534.9,451.6 530.2,452.7M527.3,433.1 520.5,448.0M507.5,468.3 517.4,462.1M517.4,462.1 518.2,460.1M501.2,445.4 518.1,449.8M507.5,468.3 500.0,463.5M505.7,429.2 515.2,424.9M515.2,424.9 527.3,433.1M541.1,585.0 530.9,584.6M547.0,592.2 541.1,585.0M525.4,602.7 521.9,595.7M530.9,584.6 521.9,595.7M521.9,595.7 509.0,592.2M481.0,569.5 490.0,569.7M491.4,582.0 490.1,569.9M490.1,569.9 490.0,569.7M569.7,232.7 571.5,234.6M569.7,232.7 570.6,228.6M571.5,234.6 577.2,235.0M578.9,227.2 580.5,231.1M577.2,235.0 580.5,231.1M588.3,229.8 589.3,225.2M588.3,229.8 583.6,232.3M580.5,231.1 583.6,232.3M639.2,403.8 635.7,415.0M639.2,403.8 650.2,407.7M650.2,407.7 646.6,420.1M635.7,415.0 640.1,419.5M640.1,419.5 646.6,420.1M623.5,409.3 625.9,415.5M625.9,415.5 635.7,415.0M628.7,402.7 639.1,403.5M639.1,403.5 639.2,403.8M623.5,409.3 628.7,402.7M653.7,394.0 640.6,393.7M655.2,397.7 653.7,394.0M655.2,397.7 652.2,406.8M639.1,403.5 640.6,393.7M652.2,406.8 650.2,407.7M632.9,430.8 640.1,419.5M631.6,431.4 632.9,430.8M624.8,417.8 625.9,415.5M630.4,430.7 631.6,431.4M640.0,381.1 629.5,381.3M640.0,381.1 640.8,382.5M640.8,382.5 639.8,392.4M639.8,392.4 626.1,391.5M629.5,381.3 625.5,385.7M625.5,385.7 626.1,391.5M652.3,383.4 655.4,389.2M653.7,394.0 655.4,389.2M640.6,393.7 639.8,392.4M652.3,383.4 640.8,382.5M628.7,402.7 625.2,392.9M625.2,392.9 626.1,391.5M608.0,412.9 617.0,406.7M608.0,412.9 598.3,406.5M598.3,406.5 598.3,406.4M598.3,406.4 607.9,394.3M617.0,406.7 614.6,396.4M614.6,396.4 609.7,393.9M609.7,393.9 607.9,394.3M613.9,422.9 609.6,419.9M609.6,419.9 608.0,412.9M623.5,409.3 617.0,406.7M625.2,392.9 614.6,396.4M616.3,380.4 612.8,381.9M616.3,380.4 625.5,385.7M612.8,381.9 609.7,393.9M607.9,394.3 597.8,386.9M591.5,401.2 598.3,406.4M591.5,401.2 591.2,395.9M591.2,395.9 597.8,386.9M538.1,350.5 539.1,350.2M524.2,341.7 526.3,336.9M543.0,345.9 539.1,350.2M526.3,336.9 539.6,332.7M543.0,345.9 543.8,338.6M543.8,338.6 539.6,332.7M554.8,345.2 550.6,337.6M554.1,346.3 554.8,345.2M554.1,346.3 543.0,345.9M543.8,338.6 550.6,337.6M539.1,350.2 551.8,358.1M554.1,346.3 555.4,354.4M555.4,354.4 551.8,358.1M536.9,368.8 533.7,366.2M536.9,368.8 551.3,361.0M551.3,361.0 551.8,358.1M741.9,332.2 742.6,331.6M742.6,331.6 741.4,317.7M732.7,331.7 731.7,322.9M731.7,322.9 741.4,317.7M742.7,304.8 739.6,313.2M748.7,317.9 741.4,317.7M739.6,313.2 741.4,317.7M742.6,331.6 750.8,331.0M750.8,331.0 753.0,325.2M741.4,317.7 741.4,317.7M756.2,281.7 744.9,281.8M747.8,293.9 743.6,289.2M744.9,281.8 743.6,289.2M757.6,272.1 759.3,267.5M757.6,272.1 748.7,269.2M748.1,259.8 758.8,259.1M748.1,259.8 748.7,269.2M758.8,259.1 759.3,259.9M759.3,275.3 757.6,272.1M743.5,272.7 742.4,278.3M743.5,272.7 748.7,269.2M744.9,281.8 742.4,278.3M674.9,284.3 681.6,280.6M680.3,273.8 681.6,280.6M680.3,273.8 671.9,274.5M674.9,284.3 670.9,280.4M670.9,280.4 671.9,274.5M733.3,298.8 742.0,303.2M733.3,298.8 727.1,306.1M739.6,313.2 728.5,310.3M727.1,306.1 728.5,310.3M694.7,299.7 700.1,301.9M700.1,301.9 701.3,311.0M694.7,299.7 688.6,303.7M701.3,311.0 692.2,311.7M692.2,311.7 688.1,307.6M688.6,303.7 688.1,307.6M692.2,311.7 690.7,316.1M685.3,318.5 690.7,316.1M681.1,314.6 681.9,310.8M685.3,318.5 681.1,314.6M688.1,307.6 681.9,310.8M686.0,283.0 686.3,290.5M686.3,290.5 681.0,294.4M681.6,280.6 686.0,283.0M674.9,284.3 674.7,287.5M681.0,294.4 674.7,287.5M686.3,290.5 693.0,292.5M693.0,292.5 694.7,299.7M688.6,303.7 680.2,297.1M681.0,294.4 680.2,297.1M681.9,310.8 676.9,306.0M676.9,306.0 679.9,297.3M679.9,297.3 680.2,297.1M679.9,297.3 671.3,297.5M674.7,287.5 667.1,291.5M671.3,297.5 667.1,291.5M722.8,240.3 720.8,243.0M722.8,240.3 720.8,237.0M712.1,243.8 720.8,243.0M712.1,243.8 707.8,239.4M711.9,232.3 707.8,239.4M722.8,240.3 726.3,239.4M731.4,241.4 736.0,244.3M736.0,244.3 737.3,243.8M743.5,272.7 736.8,267.5M746.2,257.9 737.5,259.3M748.1,259.8 746.2,257.9M736.8,267.5 737.5,259.3M737.5,259.3 731.5,254.8M731.5,254.8 727.0,255.9M736.8,267.5 729.9,270.6M729.9,270.6 725.9,268.2M725.9,268.2 727.0,255.9M736.0,244.3 731.5,254.8M720.8,243.0 723.5,254.6M723.5,254.6 727.0,255.9M712.1,243.8 710.5,253.8M723.5,254.6 716.3,256.9M710.5,253.8 716.3,256.9M759.3,256.8 758.8,259.1M724.0,366.8 727.2,370.2M736.9,369.5 735.4,370.8M735.4,370.8 727.2,370.2M759.3,334.7 754.9,335.8M759.3,346.9 753.9,345.3M754.9,335.8 753.3,343.9M753.3,343.9 753.9,345.3M750.8,331.0 754.9,335.8M762.3,359.9 762.1,357.8M748.2,355.8 753.9,345.3M742.4,341.5 753.3,343.9M765.4,360.4 762.4,360.0M765.4,360.4 765.9,360.1M765.4,360.4 768.4,364.2M664.2,399.3 670.0,392.1M655.2,397.7 664.2,399.3M655.4,389.2 665.2,386.2M670.0,392.1 665.2,386.2M654.5,376.6 652.3,383.4M654.5,376.6 660.3,375.8M660.3,375.8 666.3,381.7M665.2,386.2 666.3,381.7M673.6,368.5 675.3,376.1M667.4,365.8 673.6,368.5M664.3,366.4 667.4,365.8M664.3,366.4 660.3,375.8M666.3,381.7 675.3,376.1M693.8,320.2 690.7,316.1M685.3,318.5 685.3,323.1M685.3,323.1 687.7,324.6M693.8,320.2 693.1,322.3M693.1,322.3 687.7,324.6M702.4,367.2 696.4,359.7M707.5,351.3 698.1,351.5M698.1,351.5 696.4,359.7M701.5,369.8 690.6,374.6M690.6,374.6 684.8,361.7M696.4,359.7 684.8,361.7M668.1,355.3 667.4,365.8M668.1,355.3 675.9,353.6M675.9,353.6 682.1,357.5M673.6,368.5 682.8,360.6M682.1,357.5 682.8,360.6M535.0,495.6 538.7,490.3M535.0,495.6 536.4,498.1M542.3,490.6 542.9,496.0M542.3,490.6 541.4,490.0M536.4,498.1 542.9,496.0M541.4,490.0 538.7,490.3M579.1,506.6 575.2,516.9M586.9,503.0 590.8,504.2M590.8,504.2 590.8,520.9M579.1,506.6 586.9,503.0M582.0,523.2 587.7,523.2M587.7,523.2 590.8,520.9M559.8,498.8 564.2,506.1M559.8,498.8 565.3,494.0M564.2,506.1 571.7,502.2M571.7,502.2 570.5,494.7M565.3,494.0 568.1,493.6M570.5,494.7 568.1,493.6M561.9,512.2 564.2,506.1M561.9,512.2 551.0,508.1M551.0,508.1 555.8,498.1M555.8,498.1 559.8,498.8M561.9,512.2 564.5,518.6M579.1,506.6 571.7,502.2M590.8,504.2 592.1,503.8M592.1,503.8 603.7,508.6M601.1,522.1 590.8,520.9M601.1,522.1 604.2,518.2M603.7,508.6 604.2,518.2M582.5,448.7 587.7,435.6M582.5,448.7 594.6,457.2M594.6,457.2 600.3,448.6M587.7,435.6 588.5,435.4M600.3,448.6 588.5,435.4M591.1,417.5 598.3,406.5M591.1,417.5 595.2,428.2M609.6,419.9 595.7,428.2M595.7,428.2 595.2,428.2M597.5,484.8 599.9,491.5M599.9,491.5 607.3,493.8M603.1,478.1 610.6,479.4M607.3,493.8 616.0,486.4M599.7,479.9 597.5,484.8M610.6,479.4 616.0,486.4M554.0,624.5 548.3,626.6M554.0,624.5 553.8,619.5M548.2,618.6 551.7,617.7M548.2,618.6 548.1,626.3M548.1,626.3 548.3,626.6M551.7,617.7 553.8,619.5M541.5,615.6 548.2,618.6M553.8,612.7 551.6,607.8M553.8,612.7 551.7,617.7M537.9,626.1 548.1,626.3M558.3,654.5 551.3,658.3M558.3,654.5 557.0,645.3M548.0,644.9 551.0,643.6M557.0,645.3 551.0,643.6M562.1,443.0 557.4,449.0M557.4,449.0 557.3,449.0M562.1,443.0 558.5,437.4M558.5,437.4 551.1,441.0M551.1,441.0 553.0,446.8M553.0,446.8 557.3,449.0M545.5,446.2 547.7,449.8M548.6,440.6 551.1,441.0M547.7,449.8 550.6,450.0M553.0,446.8 550.6,450.0M559.9,432.8 553.6,424.9M559.9,432.8 574.0,429.8M553.6,424.9 565.8,414.9M574.0,429.8 573.7,418.9M565.8,414.9 573.7,418.9M552.2,424.6 553.6,424.9M558.5,437.4 559.9,432.8M562.1,443.0 565.8,444.7M570.9,443.9 565.8,444.7M574.9,430.8 574.0,429.8M574.9,430.8 570.9,443.9M548.7,407.5 544.1,414.0M563.6,410.5 548.7,407.5M563.6,410.5 565.8,414.9M574.9,430.8 587.7,435.6M588.5,435.4 595.2,428.2M578.5,415.5 591.1,417.5M578.5,415.5 573.7,418.9M510.4,378.0 501.3,387.6M510.4,378.0 514.6,378.4M514.6,378.4 527.6,392.9M501.3,387.6 503.6,402.6M503.6,402.6 516.9,407.3M527.6,392.9 523.0,403.5M516.9,407.3 523.0,403.5M503.3,367.6 510.4,378.0M500.0,387.3 501.3,387.6M511.9,347.7 514.0,347.8M526.2,365.9 514.6,378.4M531.5,391.4 540.9,378.5M536.9,368.8 540.9,378.5M531.5,391.4 527.6,392.9M500.0,404.4 503.6,402.6M515.2,424.9 516.9,407.3M548.4,399.9 531.5,391.4M548.7,407.5 548.4,399.9M539.0,414.9 523.0,403.5M522.6,467.3 528.9,468.0M517.4,462.1 522.6,467.3M529.9,460.1 531.2,461.4M528.9,468.0 531.2,461.4M534.9,451.6 537.4,456.8M537.4,456.8 533.5,461.4M531.2,461.4 533.5,461.4M481.0,532.2 483.6,532.5M483.6,532.5 483.7,526.8M483.7,526.8 481.0,525.6M525.0,568.8 510.9,573.2M525.0,568.8 516.8,557.9M516.8,557.9 513.0,557.4M513.0,557.4 506.1,562.6M510.9,573.2 505.6,568.2M505.6,568.2 506.1,562.6M530.9,584.6 526.2,568.9M526.2,568.9 525.0,568.8M509.0,582.3 510.9,573.2M510.2,550.5 510.8,549.6M520.4,550.6 510.8,549.6M520.4,550.6 516.8,557.9M510.2,550.5 513.0,557.4M490.1,569.9 505.6,568.2M490.3,561.4 490.0,569.7M490.3,561.4 496.0,555.6M496.0,555.6 498.0,555.1M506.1,562.6 503.0,557.5M498.0,555.1 503.0,557.5M510.2,550.5 507.5,551.0M503.0,557.5 507.5,551.0M583.9,241.1 583.3,238.8M583.9,241.1 580.8,244.9M583.3,238.8 578.9,238.2M578.9,238.2 576.7,242.1M580.8,244.9 577.0,243.3M577.0,243.3 576.7,242.1M584.5,236.9 583.3,238.8M583.6,232.3 584.5,236.9M577.2,235.0 578.9,238.2M571.6,239.7 576.7,242.1M571.5,234.6 571.6,239.7M604.1,236.6 605.7,232.3M604.1,236.6 600.3,238.3M605.7,232.3 597.7,231.5M600.3,238.3 596.2,234.0M596.2,234.0 597.7,231.5M606.0,232.1 605.7,232.3M604.4,222.3 606.0,232.1M597.0,227.9 597.7,231.5M613.2,225.0 613.8,227.1M606.0,232.1 609.7,232.7M613.8,227.1 609.7,232.7M601.3,249.9 596.7,248.7M601.3,249.9 598.7,254.5M596.0,249.0 596.7,248.7M596.0,249.0 594.4,254.0M598.7,254.5 595.2,254.9M594.4,254.0 595.2,254.9M574.0,255.8 577.4,251.3M574.0,255.8 574.6,258.0M574.6,258.0 581.9,257.4M577.4,251.3 579.7,251.2M579.7,251.2 581.9,257.4M573.9,247.6 577.0,243.3M573.9,247.6 577.4,251.3M580.8,244.9 582.4,249.0M579.7,251.2 582.4,249.0M587.0,242.8 587.3,246.4M587.3,246.4 584.1,249.1M587.0,242.8 583.9,241.1M582.4,249.0 584.1,249.1M540.5,231.7 548.1,234.5M556.0,228.6 555.9,229.5M548.1,234.5 555.9,229.5M563.8,234.5 569.7,232.7M563.8,234.5 558.2,232.3M555.9,229.5 558.2,232.3M558.2,232.3 556.1,243.5M548.1,234.5 548.7,241.8M556.1,243.5 548.7,241.8M536.0,241.5 545.3,244.9M535.1,235.8 536.0,241.5M545.3,244.9 548.7,241.8M597.4,385.5 597.8,386.9M612.8,381.9 604.3,376.8M597.4,385.5 603.0,377.0M603.0,377.0 604.3,376.8M619.1,372.3 610.3,365.1M616.3,380.4 619.1,372.3M604.3,376.8 610.3,365.1M675.9,353.6 674.8,345.1M674.8,345.1 665.6,344.1M668.1,355.3 665.3,352.7M665.3,352.7 665.6,344.1M582.5,448.7 580.9,449.3M570.9,443.9 574.1,447.6M580.9,449.3 574.1,447.6M587.2,402.0 579.4,409.8M587.2,402.0 578.9,396.9M578.9,396.9 578.6,396.9M578.6,396.9 575.3,403.1M575.3,403.1 579.4,409.8M578.5,415.5 579.4,409.8M591.5,401.2 587.2,402.0M591.2,395.9 586.6,391.6M584.2,391.5 586.6,391.6M584.2,391.5 578.9,396.9M563.6,410.5 564.6,407.1M564.6,407.1 570.6,402.6M570.6,402.6 575.3,403.1M540.9,378.5 542.8,378.8M551.3,361.0 558.4,370.5M542.8,378.8 558.4,370.5M526.3,336.9 523.1,322.8M523.1,322.8 529.4,318.3M529.4,318.3 538.7,323.9M539.6,332.7 540.2,331.3M538.7,323.9 540.2,331.3M572.5,291.1 573.5,294.4M573.5,294.4 567.6,294.9M568.1,289.0 572.5,291.1M568.1,289.0 566.0,292.3M567.6,294.9 566.0,292.3M588.3,308.5 592.3,306.6M588.3,308.5 589.2,314.4M592.3,306.6 594.8,310.7M594.8,310.7 590.5,314.6M589.2,314.4 590.5,314.6M582.2,320.9 586.4,319.4M582.2,320.9 580.3,315.5M580.3,315.5 584.6,314.4M586.4,319.4 586.8,315.4M584.6,314.4 586.8,315.4M588.4,321.8 592.2,321.0M593.3,318.2 592.2,321.0M590.5,314.6 593.3,318.2M589.2,314.4 586.8,315.4M588.4,321.8 586.4,319.4M580.3,315.5 579.8,315.3M581.6,322.1 574.9,320.9M574.9,320.9 577.9,315.9M581.6,322.1 582.2,320.9M577.9,315.9 579.8,315.3M524.9,291.2 522.0,302.5M524.9,291.2 534.6,292.4M534.6,292.4 535.5,293.7M535.5,293.7 535.9,301.8M535.9,301.8 529.6,306.5M529.6,306.5 522.0,302.5M523.5,289.0 524.9,291.2M537.6,282.9 530.0,280.7M537.6,282.9 534.6,292.4M514.5,304.7 505.2,294.8M514.5,304.7 511.2,318.4M508.0,319.9 511.2,318.4M508.0,319.9 500.0,317.4M500.0,297.0 505.2,294.8M507.2,289.0 505.2,294.8M522.0,302.5 514.5,304.7M530.9,314.4 529.6,306.5M529.4,318.3 530.9,314.4M523.1,322.8 511.2,318.4M504.4,342.7 508.0,319.9M731.0,279.8 731.8,280.3M731.0,279.8 721.5,281.9M731.8,280.3 733.7,291.8M721.5,281.9 718.3,288.9M732.5,293.5 720.4,291.3M732.5,293.5 733.7,291.8M720.4,291.3 718.4,289.2M718.4,289.2 718.3,288.9M729.9,270.6 731.0,279.8M742.4,278.3 731.8,280.3M743.6,289.2 733.7,291.8M733.3,298.8 732.5,293.5M727.1,306.1 720.5,304.0M720.5,304.0 720.4,291.3M720.5,304.0 714.8,306.3M708.3,297.7 714.8,306.3M708.3,297.7 718.4,289.2M669.0,234.5 679.3,225.6M664.5,232.3 669.0,234.5M666.0,223.3 669.7,222.0M679.3,225.6 678.6,224.7M613.8,276.5 614.2,277.4M614.8,273.3 613.8,276.5M617.2,272.1 614.8,273.3M617.2,272.1 620.3,274.2M620.3,274.2 619.0,278.3M614.2,277.4 619.0,278.3M645.4,227.0 649.9,232.1M646.8,240.1 642.8,238.9M648.4,239.5 646.8,240.1M645.4,227.0 638.9,231.8M638.9,231.8 642.8,238.9M638.9,231.8 636.4,231.5M634.8,229.0 636.4,231.5M645.4,227.0 645.4,226.9M658.5,238.6 661.6,244.8M651.0,240.8 653.8,248.7M661.6,244.8 659.1,248.2M659.1,248.2 653.8,248.7M652.9,275.9 660.2,278.2M662.8,271.9 660.2,278.2M662.2,270.4 654.8,266.9M662.8,271.9 662.2,270.4M652.9,275.9 652.0,269.7M652.0,269.7 654.8,266.9M721.5,333.3 718.6,330.7M709.7,335.5 708.2,339.9M710.5,345.0 708.2,339.9M709.7,335.5 718.2,330.7M718.2,330.7 718.6,330.7M731.7,322.9 725.4,319.4M718.6,330.7 725.4,319.4M728.5,310.3 725.0,318.1M725.4,319.4 725.0,318.1M685.3,323.1 679.1,326.4M679.1,326.4 676.6,324.6M681.1,314.6 677.8,316.3M677.8,316.3 676.6,324.6M652.9,275.9 651.0,277.5M651.0,277.5 646.6,277.0M652.0,269.7 650.1,269.5M650.1,269.5 644.8,272.7M646.6,277.0 644.8,272.7M641.8,267.9 643.9,272.4M641.8,267.9 645.3,265.2M645.3,265.2 650.1,269.5M643.9,272.4 644.8,272.7M633.1,276.4 636.5,279.0M633.1,276.4 637.0,272.7M636.5,279.0 640.0,276.5M637.0,272.7 639.9,274.8M639.9,274.8 640.0,276.5M631.4,280.9 631.4,276.5M631.4,276.5 633.1,276.4M633.9,282.5 636.6,281.5M633.9,282.5 631.4,280.9M636.6,281.5 636.5,279.0M629.6,271.4 635.2,269.6M629.6,271.4 631.0,276.3M631.0,276.3 631.4,276.5M635.2,269.6 636.6,270.7M636.6,270.7 637.0,272.7M643.9,272.4 639.9,274.8M636.6,270.7 641.7,267.9M641.7,267.9 641.8,267.9M670.9,280.4 665.1,282.0M667.1,291.5 666.1,291.3M666.1,291.3 665.1,282.0M662.8,271.9 670.5,272.7M670.5,272.7 671.9,274.5M660.2,278.2 660.8,279.9M665.1,282.0 660.8,279.9M708.3,297.7 706.1,297.3M718.3,288.9 706.5,283.1M706.1,297.3 701.5,286.2M706.5,283.1 701.5,286.2M683.4,268.7 680.3,273.8M683.4,268.7 693.7,274.8M686.0,283.0 693.4,278.4M693.7,274.8 693.4,278.4M693.0,292.5 700.4,286.1M693.4,278.4 700.4,286.1M706.1,297.3 700.1,301.9M701.5,286.2 700.4,286.1M661.6,244.8 666.4,244.7M669.0,234.5 670.8,238.7M666.4,244.7 670.8,238.7M703.0,225.6 696.6,231.4M696.6,231.4 688.5,223.6M690.2,219.6 688.5,223.6M679.3,225.6 680.8,226.2M680.8,226.2 685.3,224.7M685.3,224.7 688.5,223.6M747.4,251.2 743.2,246.0M747.4,251.2 757.2,247.6M757.2,247.6 757.0,247.0M746.2,257.9 747.4,251.2M759.3,248.9 757.2,247.6M715.0,266.2 707.4,266.7M715.0,266.2 718.4,270.6M717.5,274.1 707.9,277.6M717.5,274.1 718.4,270.6M707.4,266.7 704.6,272.6M704.6,272.6 707.9,277.6M716.3,256.9 715.0,266.2M725.9,268.2 718.4,270.6M706.5,283.1 707.9,277.6M721.5,281.9 717.5,274.1M696.6,272.0 693.7,274.8M696.6,272.0 704.6,272.6M691.7,411.9 683.3,410.2M691.7,411.9 696.2,400.4M683.3,410.2 679.5,402.2M679.5,402.2 679.6,401.9M696.2,400.4 688.0,396.7M679.6,401.9 688.0,396.7M680.7,330.7 681.1,336.0M680.7,330.7 679.6,329.6M679.6,329.6 673.2,334.9M681.1,336.0 676.6,339.4M676.6,339.4 673.2,334.9M676.6,324.6 671.8,324.8M668.2,333.7 671.8,324.8M679.1,326.4 679.6,329.6M668.2,333.7 673.2,334.9M676.9,343.2 674.8,345.1M676.9,343.2 676.6,339.4M667.6,334.0 663.0,340.9M665.6,344.1 663.0,340.9M668.2,333.7 667.6,334.0M684.8,337.9 686.6,336.4M684.8,337.9 681.1,336.0M680.7,330.7 686.5,331.8M686.5,331.8 686.6,336.4M687.7,324.6 689.4,329.7M686.5,331.8 689.4,329.7M689.4,329.7 692.9,330.8M693.1,322.3 696.7,327.5M696.7,327.5 692.9,330.8M698.1,351.5 696.7,349.7M684.8,361.7 682.8,360.6M682.1,357.5 685.9,350.9M696.7,349.7 685.9,350.9M676.9,343.2 684.2,344.4M685.9,350.9 684.2,344.4M684.8,337.9 684.4,344.1M684.2,344.4 684.4,344.1M547.7,449.8 545.2,454.3M550.6,450.0 552.5,454.9M552.5,454.9 548.7,456.2M548.7,456.2 545.2,454.3M540.3,463.9 537.1,464.5M540.3,463.9 541.6,459.5M537.4,456.8 541.2,458.0M537.1,464.5 533.5,461.4M541.6,459.5 541.2,458.0M540.9,449.9 544.3,454.3M541.2,458.0 544.3,454.3M544.3,454.3 545.2,454.3M557.3,449.0 553.8,455.2M552.5,454.9 553.8,455.3M553.8,455.2 553.8,455.3M587.4,485.3 583.1,493.4M587.4,485.3 583.4,480.6M583.4,480.6 574.9,484.3M583.1,493.4 575.7,491.5M575.7,491.5 574.9,484.3M586.9,503.0 583.1,493.4M592.1,503.8 599.9,491.5M597.5,484.8 587.4,485.3M591.1,470.2 583.0,476.3M583.0,476.3 583.4,480.6M573.7,475.7 572.7,482.7M573.7,475.7 580.0,474.2M580.0,474.2 583.0,476.3M572.7,482.7 574.9,484.3M570.5,494.7 575.7,491.5M564.2,484.5 566.8,484.7M564.2,484.5 560.0,479.1M568.9,482.9 566.0,476.1M568.9,482.9 566.8,484.7M566.0,476.1 565.0,475.6M565.0,475.6 560.1,478.6M560.0,479.1 560.1,478.6M559.3,488.5 564.2,484.5M559.3,488.5 565.3,494.0M568.1,493.6 566.8,484.7M571.8,474.3 573.7,475.7M572.7,482.7 568.9,482.9M571.8,474.3 566.0,476.1M556.2,481.7 555.4,485.4M556.2,481.7 560.0,479.1M559.3,488.5 558.8,488.5M558.8,488.5 555.4,485.4M541.5,472.5 541.3,472.5M547.2,477.1 541.5,472.5M540.7,472.8 541.3,472.5M547.2,477.1 547.2,478.4M540.7,478.2 540.7,472.8M540.7,478.2 543.3,480.5M547.2,478.4 543.3,480.5M605.1,533.6 597.4,539.9M605.1,533.6 601.1,522.1M587.7,523.2 592.4,539.5M597.4,539.9 592.4,539.5M577.3,538.8 590.4,540.6M575.4,534.7 577.3,538.8M590.4,540.6 592.4,539.5M699.1,533.4 695.7,535.8M697.2,538.9 695.7,535.8M697.2,538.9 702.7,538.9M699.1,533.4 701.2,534.1M701.2,534.1 702.7,538.9M708.1,536.0 708.3,534.1M708.1,536.0 703.9,539.9M701.2,534.1 704.7,531.6M702.7,538.9 703.9,539.9M708.3,534.1 704.7,531.6M590.4,540.6 586.3,554.7M573.8,545.9 579.7,555.3M573.8,545.9 577.3,538.8M579.7,555.3 586.3,554.7M541.1,585.0 547.8,574.7M530.3,565.3 543.9,567.6M530.3,565.3 526.2,568.9M543.9,567.6 547.8,574.7M551.5,592.4 558.7,585.5M558.7,585.5 556.4,575.2M547.8,574.7 556.4,575.2M563.8,631.7 563.6,631.1M563.9,630.3 563.6,631.1M563.8,631.7 569.2,635.7M567.2,628.1 563.9,630.3M567.2,628.1 573.2,630.8M573.2,630.8 569.2,635.7M561.1,639.7 563.8,631.7M561.1,639.7 569.7,638.9M569.2,635.7 569.7,638.9M558.3,654.5 564.5,654.8M561.1,671.0 567.0,665.1M564.5,654.8 568.3,661.0M704.7,531.6 704.4,530.1M698.2,528.8 699.1,533.4M698.2,528.8 700.8,527.7M700.8,527.7 704.4,530.1M600.3,448.6 603.4,447.6M595.7,428.2 608.7,437.5M603.4,447.6 608.7,437.5M615.6,432.4 614.0,435.6M614.0,435.6 608.7,437.5M619.9,443.3 614.0,435.6M631.6,431.4 631.4,437.7M619.9,443.3 629.7,440.2M631.4,437.7 629.7,440.2M553.0,638.0 556.9,637.2M553.0,638.0 549.3,633.3M556.9,637.2 557.0,631.7M549.8,631.7 555.7,630.7M549.8,631.7 549.2,632.8M555.7,630.7 557.0,631.7M549.2,632.8 549.3,633.3M560.7,642.2 561.0,639.8M560.7,642.2 557.0,645.3M561.0,639.8 556.9,637.2M551.0,643.6 553.0,638.0M545.0,639.8 549.3,633.3M563.6,631.1 557.0,631.7M561.1,639.7 561.0,639.8M548.3,626.6 549.8,631.7M556.3,626.0 554.0,624.5M556.3,626.0 555.7,630.7M539.7,632.5 549.2,632.8M556.3,626.0 560.3,624.4M560.3,624.4 563.9,630.3M507.5,468.3 508.1,471.5M521.4,478.5 519.8,479.1M521.7,477.8 521.4,478.5M521.7,477.8 522.6,467.3M519.8,479.1 508.1,471.5M500.0,483.6 503.2,482.7M508.1,471.5 503.2,482.7M510.2,488.8 503.2,482.7M510.2,488.8 515.4,489.4M519.8,479.1 516.2,488.9M515.4,489.4 516.2,488.9M537.7,472.4 533.5,476.6M537.7,472.4 535.3,469.2M535.3,469.2 529.4,468.6M532.5,476.3 533.5,476.6M532.5,476.3 529.3,472.3M529.3,472.3 529.4,468.6M542.1,465.8 541.3,472.5M542.1,465.8 540.3,463.9M540.7,472.8 537.7,472.4M537.1,464.5 535.3,469.2M528.9,468.0 529.4,468.6M525.7,480.5 532.5,476.3M521.4,478.5 525.7,480.5M521.7,477.8 529.3,472.3M490.3,561.4 482.7,552.9M482.7,552.9 481.0,552.9M483.6,532.5 484.8,533.8M484.8,533.8 481.0,537.9M493.6,533.2 490.0,531.3M484.9,533.8 490.0,531.3M484.9,533.8 487.2,537.9M493.6,533.2 492.1,537.6M492.1,537.6 487.2,537.9M484.8,533.8 484.9,533.8M481.0,541.4 485.9,542.6M487.2,537.9 485.9,542.6M574.2,562.6 579.7,555.3M574.2,562.6 561.7,555.1M573.8,545.9 562.0,548.5M562.0,548.5 561.7,555.1M562.4,530.1 559.4,534.1M559.4,534.1 560.1,546.2M562.0,548.5 560.1,546.2M543.9,567.6 548.8,559.8M556.4,575.2 560.3,572.1M560.3,572.1 557.6,559.6M557.6,559.6 548.8,559.8M503.1,547.9 500.2,548.3M503.1,547.9 505.8,542.9M505.8,542.9 505.4,540.4M498.1,545.7 502.6,540.1M498.1,545.7 500.2,548.3M502.6,540.1 505.4,540.4M498.0,555.1 500.2,548.3M507.5,551.0 503.1,547.9M510.8,549.6 511.1,546.8M511.1,546.8 505.8,542.9M499.4,536.8 503.7,531.8M499.5,537.5 499.4,536.8M499.5,537.5 502.6,540.1M503.7,531.8 507.2,535.1M507.2,535.1 507.4,538.4M507.4,538.4 505.4,540.4M499.4,536.8 494.9,532.8M503.7,531.8 503.6,531.2M494.9,532.8 497.1,529.3M497.1,529.3 503.6,531.2M691.9,447.6 689.9,444.1M691.9,447.6 685.3,451.3M689.9,444.1 683.5,444.5M685.3,451.3 681.1,448.8M681.1,448.8 683.5,444.5M691.0,438.6 685.4,434.2M685.4,434.2 680.8,438.1M689.9,444.1 691.0,438.6M683.5,444.5 680.8,438.1M678.5,418.9 683.3,410.2M679.1,420.2 688.6,422.1M679.1,420.2 678.5,418.9M691.7,411.9 694.4,415.9M694.4,415.9 688.6,422.1M678.1,426.1 679.1,420.2M678.1,426.1 685.4,432.6M685.4,432.6 689.8,428.0M688.6,422.1 689.8,428.0M727.2,370.2 725.5,380.2M714.8,378.5 715.2,379.2M725.5,380.2 715.2,379.2M704.9,376.2 701.2,386.5M701.2,386.5 702.2,388.0M702.2,388.0 713.8,386.6M715.2,379.2 713.8,386.6M745.9,371.2 746.9,375.9M757.4,368.5 758.8,372.5M758.8,372.5 753.9,378.7M753.9,378.7 746.9,375.9M755.4,385.3 753.9,378.7M755.4,385.3 752.0,389.1M752.0,389.1 750.8,389.2M746.9,375.9 741.1,382.4M750.8,389.2 741.1,382.4M752.0,389.1 756.1,396.9M764.3,385.6 755.4,385.3M764.3,385.6 766.2,396.9M756.1,396.9 766.2,396.9M589.9,241.0 592.6,243.8M589.9,241.0 591.0,237.0M591.0,237.0 592.5,235.7M592.6,243.8 596.6,242.8M592.7,235.7 596.7,242.7M592.7,235.7 592.5,235.7M596.7,242.7 596.6,242.8M587.0,242.8 589.9,241.0M587.3,246.4 591.2,247.3M591.2,247.3 592.6,243.8M584.5,236.9 591.0,237.0M588.3,229.8 592.5,235.7M596.7,248.7 596.6,242.8M596.0,249.0 591.5,247.9M591.5,247.9 591.2,247.3M596.2,234.0 592.7,235.7M599.7,241.9 600.3,238.3M599.7,241.9 596.7,242.7M609.7,232.7 612.9,236.9M604.1,236.6 606.8,241.5M606.8,241.5 612.9,236.9M613.8,227.1 620.5,230.2M623.8,228.1 620.5,230.2M598.7,254.5 600.4,256.9M595.5,259.8 595.2,254.9M595.5,259.8 597.9,260.7M600.4,256.9 597.9,260.7M596.5,266.3 598.9,263.8M598.9,263.8 599.0,262.4M596.5,266.3 591.4,264.7M595.5,259.8 592.1,261.0M591.4,264.7 592.1,261.0M599.0,262.4 597.9,260.7M587.5,253.3 583.9,257.8M587.5,253.3 589.8,253.4M589.8,253.4 590.4,253.9M590.4,253.9 590.5,259.7M590.5,259.7 585.5,259.8M585.5,259.8 583.9,257.8M584.1,249.1 587.5,253.3M582.1,257.6 581.9,257.4M582.1,257.6 583.9,257.8M591.5,247.9 589.8,253.4M594.4,254.0 590.4,253.9M592.1,261.0 590.5,259.7M591.4,264.7 590.8,265.3M585.2,264.0 590.8,265.3M585.2,264.0 585.5,259.8M592.1,278.0 591.4,274.3M592.1,278.0 595.4,279.4M597.9,277.7 595.4,279.4M597.9,277.7 598.1,274.1M591.4,274.3 598.1,274.1M596.5,266.3 596.7,269.6M602.9,267.8 598.4,271.3M598.9,263.8 602.9,267.8M596.7,269.6 598.4,271.3M538.8,302.7 535.9,301.8M540.9,302.2 538.8,302.7M540.9,302.2 544.8,297.6M535.5,293.7 542.8,293.1M542.8,293.1 544.8,297.6M560.4,299.1 557.4,301.5M552.6,300.4 557.4,301.5M552.6,300.4 554.7,295.1M560.4,299.1 555.8,294.5M555.8,294.5 554.7,295.1M548.0,298.1 549.6,293.1M550.8,301.6 548.0,298.1M550.8,301.6 552.6,300.4M554.7,295.1 549.6,293.1M571.6,239.7 568.3,243.5M573.9,247.6 572.7,247.6M572.7,247.6 568.3,243.5M574.0,255.8 570.9,254.3M570.9,254.3 570.2,251.0M572.7,247.6 570.2,251.0M553.1,252.7 556.9,244.4M553.1,252.7 549.5,252.5M556.9,244.4 556.1,243.5M545.3,244.9 545.7,249.6M549.5,252.5 545.7,249.6M554.5,256.6 551.4,262.0M551.4,262.0 551.0,262.2M554.2,253.9 554.5,256.6M554.2,253.9 553.1,252.7M549.5,252.5 546.1,261.0M546.1,261.0 547.0,261.9M551.0,262.2 547.0,261.9M530.0,268.4 533.7,267.5M533.7,267.5 537.8,259.1M530.0,250.0 530.8,249.9M530.8,249.9 537.1,255.8M537.1,255.8 537.8,259.1M546.3,266.6 547.0,261.9M541.5,269.8 546.3,266.6M546.1,261.0 537.8,259.1M541.5,269.8 534.9,268.5M534.9,268.5 533.7,267.5M536.0,241.5 530.8,249.9M545.7,249.6 537.1,255.8M622.9,316.3 623.3,310.2M622.9,316.3 622.0,317.0M622.0,317.0 618.3,316.0M619.8,310.3 622.9,309.9M619.8,310.3 617.7,315.2M617.7,315.2 618.3,316.0M623.3,310.2 622.9,309.9M629.0,316.8 628.2,311.0M628.2,311.0 623.3,310.2M629.0,316.8 622.9,316.3M616.6,320.2 618.3,316.0M620.5,322.5 616.6,320.2M620.5,322.5 622.3,320.3M622.3,320.3 622.0,317.0M622.3,320.3 627.1,321.4M627.1,321.4 628.0,320.9M629.0,316.8 629.1,316.9M628.0,320.9 629.1,316.9M630.9,308.6 634.2,309.7M635.6,314.3 634.2,309.7M635.6,314.3 631.7,316.9M628.2,311.0 630.9,308.6M629.1,316.9 631.7,316.9M628.9,330.3 633.6,330.4M628.9,330.3 628.6,327.7M628.6,327.7 631.6,324.2M635.1,328.3 633.6,330.4M635.1,328.3 632.4,324.2M632.4,324.2 631.6,324.2M628.0,320.9 631.6,324.2M627.1,321.4 625.3,325.4M625.3,325.4 628.6,327.7M631.7,316.9 635.1,321.6M635.1,321.6 632.4,324.2M647.4,420.9 646.6,420.1M632.9,430.8 642.5,432.8M647.4,420.9 647.8,426.6M647.8,426.6 642.5,432.8M631.4,437.7 639.5,442.4M639.5,442.4 644.8,437.7M642.5,432.8 644.8,437.7M645.7,449.2 650.7,445.4M645.7,449.2 640.3,447.6M650.7,445.4 649.2,439.3M639.5,442.4 640.3,447.6M644.8,437.7 649.2,439.3M578.6,396.9 576.8,395.0M570.6,402.6 569.7,396.6M576.8,395.0 570.1,396.1M569.7,396.6 570.1,396.1M576.0,389.8 576.8,395.0M576.0,389.8 569.3,390.2M570.1,396.1 569.3,390.2M530.9,314.4 540.8,313.3M538.8,302.7 542.2,310.5M540.8,313.3 542.2,310.5M595.2,370.7 590.2,372.6M590.2,372.6 589.3,379.4M597.4,385.5 590.6,382.6M603.0,377.0 595.2,370.7M589.3,379.4 590.6,382.6M586.6,391.6 588.2,384.9M590.6,382.6 588.2,384.9M550.7,301.9 547.9,304.3M550.7,301.9 554.6,306.9M547.9,304.3 547.4,308.9M554.6,306.9 553.0,310.2M553.0,310.2 549.2,310.5M549.2,310.5 547.4,308.9M550.8,301.6 550.7,301.9M544.8,297.6 548.0,298.1M540.9,302.2 547.9,304.3M557.4,301.5 558.3,306.3M558.3,306.3 554.6,306.9M542.2,310.5 547.4,308.9M588.4,331.8 590.9,333.8M588.4,331.8 588.4,328.1M590.9,333.8 597.2,330.5M597.2,330.5 591.9,327.0M588.4,328.1 591.9,327.0M592.2,321.0 593.6,323.3M586.8,326.3 588.4,321.8M586.8,326.3 588.4,328.1M593.6,323.3 591.9,327.0M564.6,355.1 555.4,354.4M564.6,355.1 565.7,354.5M554.8,345.2 557.7,343.6M565.7,354.5 565.0,344.8M565.0,344.8 557.7,343.6M550.6,337.6 553.6,332.7M546.7,329.1 553.4,331.9M540.2,331.3 546.7,329.1M553.6,332.7 553.4,331.9M557.7,343.6 559.3,336.3M553.6,332.7 559.3,336.3M589.1,281.8 593.5,284.7M589.1,281.8 586.5,285.8M586.5,285.8 588.9,288.3M588.9,288.3 591.7,287.8M593.5,284.7 591.7,287.8M592.1,278.0 589.0,281.2M589.0,281.2 589.1,281.8M595.0,284.4 595.4,279.4M595.0,284.4 593.5,284.7M585.8,279.1 589.0,281.2M585.8,279.1 583.2,280.3M583.2,280.3 582.8,286.1M582.8,286.1 586.5,285.8M584.0,292.6 582.3,286.6M584.0,292.6 587.7,291.3M582.8,286.1 582.3,286.6M587.7,291.3 588.9,288.3M587.7,291.3 591.3,293.9M591.3,293.9 594.0,292.2M594.0,292.2 591.7,287.8M595.6,292.3 598.1,287.7M595.6,292.3 597.1,294.0M597.1,294.0 602.3,292.9M602.3,292.9 601.7,289.5M601.7,289.5 598.1,287.7M595.6,292.3 594.0,292.2M595.0,284.4 597.5,285.5M598.1,287.7 597.5,285.5M559.4,311.3 558.3,313.0M559.4,311.3 564.1,310.8M558.3,313.0 562.1,316.1M564.1,310.8 565.3,315.0M562.1,316.1 565.3,315.0M556.1,313.9 553.0,310.2M558.3,306.3 558.6,306.4M558.6,306.4 559.4,311.3M556.1,313.9 558.3,313.0M582.3,286.6 578.2,286.5M584.0,292.6 583.8,292.9M578.2,286.5 578.1,286.5M578.1,286.5 577.6,293.8M583.8,292.9 577.6,293.8M579.8,315.3 579.4,310.0M574.2,310.1 572.6,312.3M574.2,310.1 578.5,309.2M572.6,312.3 577.9,315.9M578.5,309.2 579.4,310.0M584.6,314.4 583.9,308.9M579.4,310.0 583.9,308.9M588.3,308.5 585.1,307.4M583.9,308.9 585.1,307.4M565.9,315.4 565.3,315.0M565.9,315.4 571.6,312.8M571.6,312.8 571.7,312.6M571.7,312.6 568.5,309.2M564.1,310.8 565.1,309.0M565.1,309.0 568.5,309.2M571.7,312.6 572.6,312.3M573.1,304.8 574.2,310.1M573.1,304.8 570.2,305.3M568.5,309.2 570.2,305.3M606.3,265.8 605.0,267.9M606.3,265.8 610.1,264.9M605.0,267.9 606.1,270.6M610.1,264.9 612.3,267.6M608.2,271.9 606.1,270.6M608.2,271.9 611.6,270.5M611.6,270.5 612.3,267.6M604.3,261.2 599.0,262.4M602.9,267.8 605.0,267.9M604.3,261.2 606.3,265.8M598.4,271.3 598.6,273.4M602.8,274.2 598.6,273.4M602.8,274.2 606.1,270.6M613.8,276.5 608.8,275.8M608.8,275.8 608.2,271.9M614.8,273.3 611.6,270.5M640.0,276.5 643.0,280.0M636.6,281.5 638.2,282.7M638.2,282.7 643.0,280.0M646.6,277.0 643.6,280.1M643.6,280.1 643.0,280.0M615.9,290.6 618.7,289.5M612.5,289.2 615.9,290.6M611.7,286.1 615.5,283.7M615.5,283.7 617.2,284.2M612.5,289.2 611.7,286.1M617.2,284.2 618.7,289.5M629.6,271.4 628.0,270.3M625.5,278.3 623.5,273.5M623.5,273.5 624.4,271.9M631.0,276.3 625.5,278.3M624.4,271.9 628.0,270.3M646.8,240.1 644.4,248.6M644.4,248.6 638.1,246.9M638.1,246.9 636.2,244.3M642.8,238.9 636.5,243.3M636.2,244.3 636.5,243.3M636.4,231.5 632.3,236.1M636.5,243.3 632.3,236.1M624.3,228.3 629.2,236.5M632.3,236.1 629.2,236.5M662.2,270.4 664.9,264.4M654.8,266.9 654.7,263.6M658.3,259.1 654.7,263.6M658.3,259.1 660.8,258.4M664.9,264.4 660.8,258.4M670.5,272.7 672.8,263.7M664.9,264.4 672.8,263.7M650.8,252.2 658.3,259.1M653.8,248.7 650.8,252.2M659.1,248.2 662.7,255.7M662.7,255.7 660.8,258.4M648.1,260.3 645.6,261.7M648.1,260.3 649.4,252.6M641.1,255.0 642.9,260.5M641.1,255.0 645.8,251.3M642.9,260.5 645.6,261.7M645.8,251.3 649.4,252.6M645.3,265.2 645.6,261.7M654.7,263.6 648.1,260.3M650.8,252.2 649.4,252.6M644.4,248.6 645.8,251.3M637.1,254.7 636.3,253.3M638.1,246.9 636.3,253.3M637.1,254.7 641.1,255.0M706.4,324.5 700.6,320.6M706.4,324.5 711.4,322.0M711.4,322.0 712.5,314.6M702.1,311.7 699.9,318.7M702.1,311.7 711.6,312.9M711.6,312.9 712.5,314.6M700.6,320.6 699.9,318.7M702.3,330.0 697.4,327.4M697.4,327.4 700.6,320.6M704.1,329.8 702.3,330.0M704.1,329.8 706.4,324.5M709.7,335.5 704.1,329.8M718.2,330.7 711.4,322.0M725.0,318.1 712.5,314.6M693.8,320.2 699.9,318.7M701.3,311.0 702.1,311.7M714.8,306.3 711.6,312.9M697.4,327.4 696.7,327.5M677.8,316.3 669.6,314.0M671.8,324.8 666.2,319.3M669.6,314.0 666.2,319.3M676.9,306.0 669.2,308.3M669.6,314.0 669.2,308.3M671.3,297.5 666.4,305.5M669.2,308.3 666.4,305.5M660.6,326.3 667.6,334.0M660.6,326.3 654.9,333.5M663.0,340.9 659.8,340.8M654.9,333.5 655.1,335.7M659.8,340.8 655.1,335.7M657.7,355.0 654.4,346.4M665.3,352.7 657.7,355.0M659.8,340.8 654.4,346.4M660.8,279.9 658.4,283.2M666.1,291.3 663.9,292.2M663.9,292.2 658.4,288.8M658.4,288.8 658.4,283.2M651.0,277.5 650.6,284.1M658.4,283.2 650.6,284.1M645.8,284.6 643.6,280.1M645.8,284.6 649.7,285.2M650.6,284.1 649.7,285.2M680.8,226.2 682.6,235.2M670.8,238.7 677.1,241.3M682.6,235.2 677.1,241.3M765.2,384.8 765.2,375.0M765.2,384.8 776.6,384.4M776.6,384.4 776.7,382.3M765.2,375.0 771.9,371.2M764.3,385.6 765.2,384.8M758.8,372.5 765.2,375.0M766.2,396.9 767.3,397.9M767.3,397.9 775.0,397.7M777.8,394.7 775.0,397.7M777.1,385.0 776.6,384.4M777.1,385.0 777.8,394.7M777.8,384.9 777.1,385.0M691.9,383.9 687.6,388.4M691.9,383.9 690.3,375.2M687.6,388.4 679.4,386.0M690.3,375.2 676.4,376.8M676.4,376.8 679.4,386.0M690.6,374.6 690.3,375.2M701.2,386.5 691.9,383.9M679.6,401.9 673.1,392.7M673.1,392.7 679.4,386.0M688.0,396.7 687.6,388.4M675.3,376.1 676.4,376.8M670.0,392.1 673.1,392.7M692.2,341.6 696.6,347.7M692.2,341.6 692.7,338.1M696.6,347.7 701.9,340.2M692.7,338.1 694.3,336.2M694.3,336.2 698.4,336.6M701.9,340.2 698.4,336.6M684.4,344.1 692.2,341.6M696.7,349.7 696.6,347.7M686.6,336.4 692.7,338.1M708.2,339.9 701.9,340.2M692.9,330.8 694.3,336.2M702.3,330.0 698.4,336.6M554.8,460.0 553.8,455.3M548.7,456.2 548.0,460.9M554.8,460.0 552.8,462.4M552.8,462.4 548.0,460.9M541.6,459.5 547.4,461.4M542.1,465.8 546.3,465.4M546.3,465.4 547.4,461.4M547.4,461.4 548.0,460.9M535.5,481.1 535.5,481.1M535.5,481.1 537.5,483.6M535.5,481.1 529.3,485.1M537.5,483.6 536.5,487.7M536.5,487.7 529.3,488.4M529.3,488.4 529.3,485.1M533.5,476.6 535.5,481.1M540.7,478.2 535.5,481.1M543.3,480.5 542.7,484.4M542.7,484.4 537.5,483.6M525.7,480.5 529.3,485.1M542.8,484.5 542.7,484.4M538.7,490.3 536.5,487.7M541.4,490.0 542.8,484.5M527.8,492.0 527.8,492.0M527.8,492.0 529.3,488.4M535.0,495.6 527.8,492.0M527.8,492.0 516.2,488.9M556.2,481.7 553.1,479.1M553.1,479.1 548.9,480.0M548.9,480.0 549.0,484.3M555.4,485.4 553.9,485.8M553.9,485.8 549.0,484.3M547.2,478.4 548.9,480.0M542.8,484.5 547.3,485.4M547.3,485.4 549.0,484.3M542.3,490.6 547.6,490.6M547.3,485.4 547.6,490.6M546.6,497.3 555.4,497.4M546.6,497.3 548.2,491.1M548.2,491.1 550.9,491.1M550.9,491.1 555.1,495.5M555.4,497.4 555.1,495.5M550.7,508.2 545.4,504.2M550.7,508.2 551.0,508.1M545.4,504.2 546.2,497.6M546.2,497.6 546.6,497.3M555.8,498.1 555.4,497.4M542.9,496.0 546.2,497.6M547.6,490.6 548.2,491.1M553.9,485.8 550.9,491.1M558.8,488.5 555.1,495.5M607.3,493.8 610.0,499.6M616.5,486.5 616.0,486.4M616.5,486.5 619.9,489.3M619.9,489.3 620.2,489.8M620.2,489.8 618.1,499.9M618.1,499.9 610.0,499.6M603.7,508.6 607.1,506.7M610.0,499.6 607.1,506.7M703.9,540.0 707.5,542.5M703.9,539.9 703.9,540.0M708.1,536.0 711.4,538.6M696.7,511.8 698.7,512.8M696.7,511.8 691.9,514.5M698.7,512.8 696.5,519.5M691.9,514.5 694.0,518.6M694.0,518.6 696.5,519.5M704.4,530.1 706.9,527.1M706.9,527.1 708.9,527.2M708.3,534.1 711.4,531.7M708.9,527.2 711.4,531.7M716.1,533.9 712.3,531.6M712.3,531.6 711.4,531.7M708.9,521.7 710.3,517.6M708.9,521.7 711.3,524.2M711.3,524.2 712.5,524.2M712.5,524.2 715.0,521.1M710.3,517.6 714.5,519.3M714.5,519.3 715.0,521.1M714.5,526.8 712.5,524.2M714.5,526.8 712.3,531.6M708.9,527.2 711.3,524.2M705.8,509.1 708.0,508.8M705.8,509.1 705.0,513.1M711.4,513.4 711.1,511.1M708.0,508.8 711.1,511.1M709.7,516.1 707.9,516.0M709.7,516.1 711.4,513.4M705.0,513.1 707.9,516.0M704.6,508.4 702.0,508.6M704.6,508.4 705.8,509.1M702.0,508.6 699.2,512.7M699.2,512.7 701.9,514.5M705.0,513.1 701.9,514.5M697.0,521.2 701.9,524.4M697.0,521.2 696.8,519.9M696.8,519.9 702.4,518.2M701.9,524.4 704.5,523.0M702.4,518.2 703.7,519.0M703.7,519.0 704.9,522.3M704.9,522.3 704.5,523.0M695.2,525.2 696.1,528.1M698.2,528.8 696.1,528.1M695.2,525.2 697.0,521.2M700.8,527.7 701.9,524.4M688.6,522.1 694.0,518.6M688.6,522.1 689.7,524.2M695.2,525.2 689.7,524.2M696.5,519.5 696.8,519.9M701.9,514.5 702.4,518.2M699.2,512.7 698.7,512.8M706.9,527.1 704.5,523.0M707.9,516.0 703.7,519.0M709.7,516.1 710.3,517.6M708.9,521.7 704.9,522.3M561.7,555.1 557.6,559.6M560.3,572.1 566.5,572.3M574.2,562.6 574.2,563.6M566.5,572.3 574.2,563.6M559.5,619.7 560.7,622.9M559.5,619.7 560.9,616.4M560.7,622.9 566.3,622.1M560.9,616.4 566.6,616.3M566.6,616.3 566.3,622.1M553.8,619.5 559.5,619.7M560.3,624.4 560.7,622.9M559.4,613.5 553.8,612.7M559.4,613.5 560.9,616.4M568.3,624.0 566.3,622.1M567.2,628.1 568.3,624.0M571.9,650.2 567.3,650.4M566.8,647.4 571.2,640.4M566.8,647.4 567.3,650.4M575.9,643.2 573.0,640.6M571.2,640.4 573.0,640.6M560.7,642.2 566.8,647.4M569.7,638.9 571.2,640.4M564.5,654.8 567.3,650.4M574.0,630.7 576.6,635.8M576.6,635.8 573.0,640.6M573.2,630.8 574.0,630.7M609.7,534.0 615.5,542.7M609.7,534.0 617.7,527.4M615.5,542.7 623.5,541.3M623.5,541.3 624.0,532.2M624.0,532.2 617.7,527.4M604.2,518.2 615.4,519.2M615.4,519.2 618.4,523.2M609.7,534.0 605.1,533.6M617.7,527.4 618.4,523.2M691.1,536.3 693.0,535.0M691.1,536.3 686.8,534.9M693.0,535.0 692.7,530.8M686.8,534.9 686.6,534.5M686.6,534.5 687.2,529.6M692.7,530.8 688.8,528.9M687.2,529.6 688.8,528.9M696.1,528.1 692.7,530.8M695.7,535.8 693.0,535.0M684.3,540.2 681.1,539.9M680.5,538.9 681.1,539.9M682.2,534.0 686.6,534.5M682.2,534.0 680.5,538.9M684.3,540.2 686.8,534.9M681.1,532.2 682.2,534.0M684.0,528.5 681.1,532.2M684.0,528.5 687.2,529.6M689.7,524.2 688.8,528.9M603.4,447.6 612.5,453.3M619.9,443.3 619.7,445.5M619.7,445.5 612.5,453.3M594.6,459.6 594.6,457.2M605.6,465.2 610.7,463.7M610.7,463.7 613.3,455.9M612.5,453.3 613.3,455.9M610.6,479.4 615.6,473.1M610.7,463.7 614.7,467.1M615.6,473.1 614.7,467.1M665.4,455.8 666.2,450.7M665.4,455.8 662.0,457.2M662.0,457.2 658.1,453.6M658.1,453.6 661.4,449.7M666.2,450.7 661.4,449.7M655.8,453.8 658.1,453.6M655.8,453.8 652.3,446.0M659.7,443.9 652.3,446.0M659.7,443.9 661.4,449.7M483.0,505.7 481.0,505.2M483.0,505.7 485.1,509.1M485.1,509.1 484.1,513.5M481.0,514.3 484.1,513.5M494.5,541.6 496.7,545.2M494.5,541.6 493.8,541.3M493.8,541.3 487.3,544.7M496.7,545.2 491.7,549.3M491.7,549.3 487.3,548.1M487.3,548.1 487.3,544.7M499.5,537.5 494.5,541.6M498.1,545.7 496.7,545.2M493.6,533.2 494.9,532.8M492.1,537.6 493.8,541.3M485.9,542.6 487.3,544.7M496.0,555.6 491.7,549.3M482.7,552.9 487.3,548.1M562.0,523.4 548.0,520.7M559.4,534.1 546.4,534.2M546.4,534.2 545.3,525.1M548.0,520.7 545.3,525.1M550.7,508.2 546.2,516.0M548.0,520.7 546.2,516.0M545.3,525.1 537.4,524.6M546.2,516.0 538.9,514.5M538.9,514.5 536.2,522.8M536.2,522.8 537.4,524.6M560.1,546.2 547.5,547.2M548.8,559.8 544.9,552.7M544.9,552.7 547.5,547.2M503.6,531.2 504.9,528.5M497.1,529.3 497.0,527.9M498.3,525.4 497.0,527.9M498.3,525.4 504.3,525.1M504.3,525.1 504.9,528.5M511.0,532.3 510.7,528.7M511.0,532.3 507.2,535.1M504.9,528.5 510.7,528.7M490.0,531.3 489.6,528.1M497.0,527.9 492.9,526.0M492.9,526.0 489.6,528.1M483.7,526.8 486.6,525.4M486.6,525.4 489.6,528.1M582.2,570.6 574.2,563.6M586.3,554.7 591.4,559.0M582.2,570.6 590.8,568.6M590.8,568.6 591.4,559.0M681.1,448.8 680.4,449.0M679.7,448.8 674.9,443.4M679.7,448.8 680.4,449.0M680.8,438.1 679.4,438.1M674.9,443.4 679.4,438.1M685.4,434.2 685.4,432.6M673.8,429.4 673.8,434.0M678.1,426.1 673.8,429.4M673.8,434.0 679.4,438.1M689.8,428.0 696.7,429.3M696.3,416.5 700.1,425.0M694.4,415.9 696.3,416.5M696.7,429.3 700.1,425.0M691.0,438.6 698.3,436.6M696.7,429.3 698.3,436.6M718.5,393.5 713.8,386.6M718.5,393.5 714.7,398.7M702.2,388.0 702.1,395.7M714.7,398.7 702.1,395.7M696.2,400.4 698.5,399.9M698.5,399.9 702.1,395.7M718.5,393.5 724.2,392.7M725.5,380.2 728.0,383.5M728.0,383.5 724.2,392.7M735.4,370.8 737.0,382.5M728.0,383.5 737.0,382.5M741.1,382.4 737.7,382.9M737.0,382.5 737.7,382.9M778.8,408.4 770.7,414.6M775.0,397.7 778.8,408.4M767.3,397.9 763.2,410.5M763.2,410.5 770.7,414.6M775.6,423.8 772.1,422.5M775.6,423.8 787.0,418.6M787.0,418.6 787.5,414.6M783.4,409.5 787.5,414.6M778.8,408.4 783.4,409.5M770.7,414.6 772.1,422.5M608.6,245.3 606.5,242.7M608.6,245.3 608.0,247.9M608.0,247.9 602.5,250.4M606.5,242.7 602.5,243.7M602.5,243.7 601.4,249.8M601.4,249.8 602.5,250.4M610.5,252.1 612.8,252.5M610.5,252.1 608.0,247.9M612.8,252.5 614.8,249.5M612.5,245.0 614.8,249.5M612.5,245.0 608.6,245.3M599.7,241.9 602.5,243.7M606.8,241.5 606.5,242.7M601.3,249.9 601.4,249.8M622.8,238.4 619.1,234.7M622.8,238.4 620.7,243.4M619.1,234.7 614.0,237.3M620.7,243.4 619.1,243.7M619.1,243.7 615.1,241.6M614.0,237.3 615.1,241.6M620.5,230.2 619.1,234.7M627.6,238.2 629.2,236.5M627.6,238.2 622.8,238.4M612.9,236.9 614.0,237.3M617.3,248.9 619.1,243.7M614.8,249.5 617.3,248.9M612.5,245.0 615.1,241.6M603.0,256.8 604.7,260.2M603.0,256.8 604.7,253.6M604.7,253.6 607.3,254.1M607.3,254.1 608.4,258.8M608.4,258.8 604.7,260.2M600.4,256.9 603.0,256.8M604.3,261.2 604.7,260.2M602.5,250.4 604.7,253.6M610.5,252.1 607.3,254.1M582.1,257.6 579.0,263.6M585.2,264.0 584.3,264.7M584.3,264.7 579.0,263.6M574.6,258.0 574.1,259.9M574.1,259.9 578.5,263.8M579.0,263.6 578.5,263.8M591.4,274.3 591.1,274.0M585.8,279.1 586.2,274.7M586.2,274.7 591.1,274.0M596.7,269.6 591.5,270.3M598.1,274.1 598.6,273.4M591.1,274.0 591.5,270.3M590.8,265.3 590.4,268.4M590.4,268.4 591.5,270.3M565.2,250.1 567.0,243.7M565.2,250.1 565.2,250.1M565.2,250.1 561.6,249.8M561.6,249.8 557.5,244.5M557.5,244.5 564.4,242.2M564.4,242.2 567.0,243.7M570.2,251.0 565.2,250.1M568.3,243.5 567.0,243.7M559.5,253.6 561.6,249.8M554.2,253.9 559.5,253.6M556.9,244.4 557.5,244.5M563.8,234.5 564.4,242.2M554.5,256.6 558.3,259.8M551.4,262.0 556.5,263.1M556.5,263.1 558.3,259.8M553.5,271.5 552.6,268.3M553.5,271.5 557.6,272.8M557.5,266.8 552.9,267.7M557.5,266.8 559.0,272.2M552.9,267.7 552.6,268.3M557.6,272.8 559.0,272.3M559.0,272.2 559.0,272.3M551.0,262.2 552.9,267.7M557.9,266.0 556.5,263.1M557.9,266.0 557.5,266.8M546.3,266.6 548.7,269.2M548.7,269.2 552.6,268.3M576.0,363.6 584.5,366.0M584.5,366.0 587.7,360.8M575.7,360.5 576.0,363.6M575.7,360.5 583.1,353.8M587.7,360.8 583.1,353.8M575.7,360.5 569.7,354.7M569.7,354.7 575.6,348.2M576.5,348.1 575.6,348.2M576.5,348.1 583.2,353.3M583.2,353.3 583.1,353.8M645.9,347.8 644.5,351.7M644.5,351.7 645.0,354.4M654.4,346.4 646.9,346.9M646.9,346.9 645.9,347.8M657.7,355.0 655.8,358.2M645.0,354.4 655.8,358.2M664.3,366.4 656.5,362.8M656.5,362.8 655.8,358.2M616.6,320.2 613.0,321.3M613.7,314.3 612.3,321.0M613.7,314.3 617.7,315.2M613.0,321.3 612.3,321.0M615.9,290.6 614.6,294.0M619.7,295.5 620.2,290.1M619.7,295.5 616.3,296.9M618.7,289.5 620.2,290.1M614.6,294.0 616.3,296.9M613.7,314.3 613.0,313.4M619.8,310.3 616.5,308.2M616.5,308.2 613.0,313.4M643.0,318.6 640.1,316.5M643.0,318.6 642.4,324.7M640.1,316.5 636.5,321.4M636.5,321.4 639.8,325.6M639.8,325.6 642.4,324.7M635.1,321.6 636.5,321.4M639.9,316.0 635.6,314.3M639.9,316.0 640.1,316.5M638.4,327.8 635.1,328.3M638.4,327.8 639.8,325.6M634.2,309.7 638.0,307.3M638.0,307.3 639.8,307.4M639.9,316.0 641.6,312.7M641.6,312.7 639.8,307.4M640.1,300.3 641.6,305.7M641.4,298.3 640.1,300.3M641.4,298.3 647.0,300.1M647.0,300.1 645.1,305.6M641.6,305.7 645.1,305.6M623.8,325.9 620.5,322.6M623.8,325.9 621.9,330.0M621.9,330.0 617.5,326.4M620.5,322.6 617.5,326.4M625.3,325.4 623.8,325.9M620.5,322.5 620.5,322.6M628.6,330.6 622.1,331.1M622.1,331.1 621.9,330.0M628.6,330.6 628.9,330.3M613.0,321.3 615.7,326.7M615.7,326.7 617.5,326.4M635.9,337.5 633.6,330.4M635.9,337.5 632.4,337.8M628.6,330.6 628.9,335.3M632.4,337.8 628.9,335.3M622.1,331.1 622.1,331.2M622.1,331.2 623.0,336.4M623.0,336.4 624.0,336.9M628.9,335.3 624.0,336.9M636.8,337.6 640.4,331.9M636.8,337.6 646.5,338.6M640.4,331.9 645.2,331.6M645.2,331.6 646.8,338.2M646.5,338.6 646.8,338.2M638.4,327.8 640.4,331.9M636.5,337.7 635.9,337.5M636.5,337.7 636.8,337.6M645.9,347.8 637.2,342.6M636.5,337.7 637.2,342.6M646.9,346.9 646.5,338.6M648.0,327.5 642.4,324.7M648.0,327.5 645.2,331.6M648.7,327.3 654.9,333.5M655.1,335.7 646.8,338.2M648.7,327.3 648.0,327.5M647.4,420.9 657.4,420.9M657.4,420.9 659.7,427.1M647.8,426.6 654.4,432.9M659.7,427.1 654.4,432.9M649.2,439.3 654.5,434.2M654.4,432.9 654.5,434.2M671.2,416.6 670.0,407.1M671.2,416.6 668.1,418.5M668.1,418.5 660.6,417.2M667.2,406.0 670.0,407.1M667.2,406.0 658.9,410.5M658.9,410.5 660.6,417.2M678.5,418.9 671.2,416.6M679.5,402.2 670.0,407.1M673.8,429.4 667.5,427.1M667.5,427.1 668.1,418.5M659.7,427.1 664.9,428.6M667.5,427.1 664.9,428.6M657.4,420.9 660.6,417.2M664.2,399.3 667.2,406.0M652.2,406.8 658.9,410.5M564.6,407.1 561.4,398.3M569.7,396.6 563.2,396.4M561.4,398.3 563.2,396.4M548.4,399.9 551.9,396.6M561.4,398.3 551.9,396.6M542.8,378.8 552.8,386.7M552.8,386.7 553.4,388.7M551.9,396.6 553.4,388.7M568.4,389.5 563.7,389.6M568.4,389.5 570.5,383.4M570.5,383.4 563.7,381.6M563.7,381.6 563.7,389.5M563.7,389.5 563.7,389.6M569.3,390.2 568.4,389.5M563.2,396.4 563.7,389.6M553.4,388.7 563.7,389.5M552.8,386.7 561.4,378.7M561.4,378.7 563.7,381.6M546.7,329.1 548.5,322.6M538.7,323.9 543.2,320.2M548.5,322.6 543.2,320.2M549.2,310.5 548.7,315.0M540.8,313.3 543.2,316.5M548.7,315.0 543.2,316.5M543.2,320.2 543.2,316.5M586.3,370.3 580.0,374.3M590.2,372.6 586.3,370.3M589.3,379.4 581.7,379.5M581.7,379.5 580.0,374.3M573.0,367.5 575.0,373.3M573.0,367.5 564.1,367.5M564.1,367.5 559.7,370.8M572.9,377.1 575.0,373.3M572.9,377.1 561.6,375.8M559.7,370.8 561.6,375.8M576.0,363.6 573.0,367.5M580.0,374.3 575.0,373.3M584.5,366.0 586.3,370.3M565.7,354.5 569.7,354.7M564.6,355.1 564.1,367.5M558.4,370.5 559.7,370.8M561.4,378.7 561.6,375.8M576.9,327.2 582.1,324.5M576.9,327.2 576.3,329.5M576.3,329.5 581.4,330.9M581.4,330.9 584.0,326.0M584.0,326.0 582.1,324.5M583.1,333.7 581.4,330.9M584.2,334.0 583.1,333.7M584.2,334.0 588.4,331.8M586.8,326.3 584.0,326.0M581.6,322.1 582.1,324.5M589.6,339.5 589.7,342.7M589.6,339.5 585.2,338.1M589.7,342.7 585.7,345.0M585.2,338.1 581.7,342.1M585.7,345.0 581.7,342.1M597.2,339.4 596.4,338.4M591.6,337.0 596.4,338.4M591.6,337.0 589.6,339.5M594.4,345.8 589.7,342.7M594.4,345.8 597.2,339.4M584.2,334.0 585.2,338.1M591.6,337.0 590.9,333.8M585.7,351.3 583.2,353.3M580.0,342.1 576.5,348.1M580.0,342.1 581.7,342.1M585.7,351.3 585.7,345.0M605.7,328.1 603.1,323.3M605.7,328.1 601.2,331.9M601.2,331.9 598.3,331.3M598.6,324.3 597.4,330.5M598.6,324.3 600.3,322.9M598.3,331.3 597.4,330.5M603.1,323.3 601.3,322.7M600.3,322.9 601.3,322.7M597.2,330.5 597.4,330.5M593.6,323.3 598.6,324.3M596.0,317.6 593.3,318.2M596.0,317.6 600.3,322.9M596.4,338.4 598.3,331.3M606.1,286.0 608.3,284.8M606.1,286.0 605.9,286.0M605.9,286.0 601.8,282.6M608.3,284.8 609.1,281.5M609.1,281.5 607.0,278.0M604.8,278.0 607.0,278.0M604.8,278.0 601.8,280.7M601.8,280.7 601.8,282.6M601.7,289.5 605.9,286.0M597.5,285.5 601.8,282.6M611.7,286.1 608.3,284.8M613.4,280.2 615.5,283.7M613.4,280.2 609.1,281.5M614.2,277.4 613.4,280.2M608.8,275.8 607.0,278.0M602.8,274.2 604.8,278.0M597.9,277.7 601.8,280.7M584.7,295.8 583.3,298.9M584.7,295.8 590.1,297.2M583.3,298.9 587.2,302.1M590.1,297.2 588.6,301.8M588.6,301.8 587.2,302.1M590.3,297.1 590.1,297.2M591.3,293.9 590.3,297.1M583.8,292.9 584.7,295.8M592.8,304.8 592.3,306.6M592.8,304.8 588.6,301.8M585.1,307.4 584.7,306.1M584.7,306.1 587.2,302.1M584.7,306.1 581.0,303.9M583.3,298.9 580.9,300.0M580.9,300.0 581.0,303.9M578.5,309.2 578.6,305.4M578.6,305.4 581.0,303.9M573.1,304.8 574.1,303.5M578.6,305.4 574.1,303.5M566.8,302.9 563.5,305.2M566.8,302.9 567.4,300.0M563.4,305.1 560.6,299.1M563.4,305.1 563.5,305.2M560.6,299.1 562.1,298.0M562.1,298.0 566.4,298.3M566.4,298.3 567.4,300.0M565.1,309.0 563.5,305.2M570.2,305.3 566.8,302.9M558.6,306.4 563.4,305.1M560.4,299.1 560.6,299.1M562.1,292.0 566.0,292.3M562.1,292.0 562.1,298.0M567.6,294.9 566.4,298.3M624.5,301.4 626.4,304.3M624.5,301.4 620.8,301.5M620.8,301.5 619.6,302.3M619.6,302.3 623.2,307.3M623.2,307.3 626.4,304.3M624.1,296.3 621.6,297.0M621.6,297.0 620.8,301.5M626.4,298.7 624.5,301.4M624.1,296.3 626.4,298.7M622.9,309.9 623.2,307.3M630.9,308.6 630.2,304.9M630.2,304.9 626.4,304.3M630.8,303.8 629.1,298.4M630.8,303.8 635.0,302.2M635.6,301.2 635.0,302.2M635.6,301.2 633.6,296.1M629.1,298.4 630.6,296.5M630.6,296.5 633.6,296.1M626.4,298.7 629.1,298.4M630.2,304.9 630.8,303.8M638.0,307.3 635.0,302.2M640.1,300.3 635.6,301.2M639.8,307.4 641.6,305.7M643.3,292.4 640.7,295.0M643.3,292.4 642.4,287.5M642.4,287.5 639.0,286.6M640.7,295.0 636.0,293.7M637.2,287.7 635.9,293.3M637.2,287.7 639.0,286.6M636.0,293.7 635.9,293.3M638.2,282.7 639.0,286.6M645.8,284.6 642.4,287.5M633.6,296.1 636.0,293.7M641.4,298.3 640.7,295.0M632.9,286.3 637.2,287.7M633.9,282.5 632.9,286.3M646.8,292.9 649.7,297.1M646.8,292.9 650.7,288.2M649.7,297.1 654.1,294.4M654.1,294.4 654.3,290.8M654.3,290.8 650.7,288.2M649.2,299.0 649.7,297.1M647.0,300.1 649.2,299.0M643.3,292.4 646.8,292.9M649.7,285.2 650.7,288.2M658.4,288.8 654.3,290.8M619.8,279.5 619.3,282.4M619.8,279.5 625.4,278.6M619.3,282.4 623.5,284.0M623.5,284.0 625.7,280.1M625.4,278.6 625.7,280.1M619.0,278.3 619.8,279.5M617.2,284.2 619.3,282.4M625.5,278.3 625.4,278.6M620.3,274.2 623.5,273.5M631.4,280.9 628.9,282.6M628.9,282.6 625.7,280.1M620.6,267.7 622.1,264.1M620.6,267.7 617.9,268.9M622.1,264.1 616.3,262.9M616.3,262.9 615.6,267.2M617.9,268.9 615.6,267.2M617.2,272.1 617.9,268.9M624.4,271.9 620.6,267.7M612.3,267.6 615.6,267.2M666.4,244.7 671.3,253.6M677.1,241.3 679.5,248.1M671.3,253.6 679.5,248.1M662.7,255.7 671.2,253.7M671.3,253.6 671.2,253.7M672.8,263.7 674.3,262.4M671.2,253.7 674.3,262.4M683.4,268.7 682.7,264.5M674.3,262.4 682.7,264.5M663.9,292.2 661.5,296.9M666.4,305.5 666.0,305.4M666.0,305.4 661.5,296.9M654.1,294.4 658.2,297.4M661.5,296.9 658.2,297.4M649.2,299.0 654.3,304.0M658.2,297.4 654.3,304.0M660.6,326.3 660.6,326.0M666.2,319.3 665.5,319.5M660.6,326.0 665.5,319.5M641.6,312.7 645.5,311.7M645.1,305.6 646.7,307.1M646.7,307.1 645.5,311.7M682.6,235.2 689.5,238.2M696.6,231.4 696.7,234.7M689.5,238.2 696.7,234.7M707.8,239.4 701.6,239.9M701.6,239.9 696.7,234.7M547.2,477.1 550.7,472.9M553.1,479.1 553.2,474.8M550.7,472.9 553.2,474.8M560.1,478.6 557.2,474.3M553.2,474.8 557.2,474.3M564.0,471.2 558.5,470.4M564.0,471.2 565.0,475.6M557.2,474.3 558.5,470.4M623.9,502.2 619.8,501.6M623.9,502.2 627.6,508.8M619.8,501.6 616.2,510.8M627.6,508.8 625.7,511.2M625.7,511.2 616.5,511.3M616.5,511.3 616.2,510.8M627.2,498.9 625.7,493.2M620.2,489.8 625.7,493.2M618.1,499.9 619.8,501.6M627.2,498.9 623.9,502.2M607.1,506.7 616.2,510.8M633.9,516.1 629.1,520.8M626.2,520.0 629.1,520.8M626.2,520.0 625.7,511.2M630.9,508.7 634.3,513.1M634.3,513.1 633.9,516.1M630.9,508.7 627.6,508.8M626.2,520.0 618.4,523.2M615.4,519.2 616.5,511.3M702.9,547.1 701.1,545.4M701.0,545.4 701.1,545.4M701.0,545.4 695.7,549.7M695.7,549.7 697.5,551.8M703.9,540.0 701.1,545.4M696.0,542.0 697.2,538.9M696.0,542.0 701.0,545.4M678.9,553.6 685.6,550.8M685.6,550.8 686.1,551.4M678.9,553.6 679.7,560.2M679.7,560.2 686.0,560.8M686.1,551.4 686.3,560.6M685.7,549.0 685.4,548.4M685.7,549.0 692.6,546.0M685.4,548.4 686.3,541.9M686.3,541.9 690.5,541.1M690.5,541.1 692.9,543.3M692.9,543.3 692.6,546.0M685.6,550.8 685.7,549.0M677.1,552.4 678.1,545.1M678.1,545.1 678.5,544.9M678.9,553.6 677.1,552.4M678.5,544.9 685.4,548.4M691.8,553.0 686.1,551.4M695.4,549.7 691.8,553.0M695.4,549.7 692.6,546.0M678.5,544.9 681.1,539.9M684.3,540.2 686.3,541.9M691.1,536.3 690.5,541.1M696.0,542.0 692.9,543.3M695.4,549.7 695.7,549.7M627.7,549.1 623.9,541.5M623.9,541.5 634.1,538.3M629.7,549.8 635.2,542.8M627.7,549.1 629.7,549.8M635.2,542.8 634.1,538.3M623.5,541.3 623.9,541.5M629.5,531.2 624.0,532.2M629.5,531.2 634.2,538.1M634.1,538.3 634.2,538.1M642.5,531.1 646.7,532.6M640.1,531.5 642.5,531.1M640.1,531.5 638.1,536.0M646.7,532.6 646.9,539.2M638.1,536.0 644.3,540.2M646.9,539.2 644.3,540.2M626.6,596.7 622.9,594.8M629.8,584.5 624.2,586.7M629.8,584.5 638.8,586.9M640.1,589.0 638.8,586.9M622.9,594.8 624.2,586.7M632.3,572.2 630.0,570.6M616.8,573.2 630.0,570.6M632.3,572.2 629.8,584.5M615.7,579.2 616.8,573.2M615.7,579.2 624.2,586.7M652.3,531.8 648.8,531.4M646.7,532.6 648.8,531.4M650.5,540.7 646.9,539.2M652.3,531.8 653.1,532.7M650.5,540.7 652.6,538.8M653.1,532.7 652.6,538.8M715.0,521.1 719.3,522.5M714.5,526.8 719.7,526.9M719.7,526.9 719.3,522.5M719.7,526.9 721.4,528.8M721.0,529.6 721.4,528.8M709.6,504.9 708.6,503.1M708.0,508.8 709.6,504.9M704.6,508.4 704.2,503.0M704.2,503.0 708.6,503.1M701.6,487.7 700.1,493.2M701.6,487.7 706.4,489.0M706.4,489.0 706.9,493.1M706.9,493.1 703.3,495.1M703.3,495.1 700.4,493.8M700.4,493.8 700.1,493.2M709.7,483.9 703.6,482.3M700.6,486.1 703.6,482.3M700.6,486.1 701.6,487.7M708.8,487.4 706.4,489.0M708.8,487.4 709.7,483.9M702.5,501.4 704.1,498.9M704.1,498.9 703.3,495.1M698.7,497.2 700.6,501.6M700.6,501.6 702.5,501.4M698.7,497.2 700.4,493.8M703.6,482.3 703.6,479.4M709.7,483.9 710.7,482.9M703.6,479.4 709.5,477.9M710.7,482.9 709.5,477.9M706.9,493.1 708.2,494.1M704.1,498.9 709.0,498.4M708.2,494.1 709.0,498.4M704.2,503.0 702.5,501.4M708.6,503.1 709.8,499.1M709.0,498.4 709.8,499.1M711.1,511.1 716.4,507.4M709.6,504.9 713.7,504.8M713.7,504.8 716.4,507.4M566.5,572.3 574.7,583.9M558.7,585.5 569.5,588.6M569.5,588.6 574.7,583.9M590.8,568.6 596.7,574.2M597.6,579.1 596.7,574.2M590.1,586.8 597.6,579.1M590.1,586.8 585.4,587.7M582.2,570.6 577.9,583.6M585.4,587.7 577.9,583.6M577.9,583.6 574.7,583.9M583.4,632.0 584.6,629.5M586.6,628.3 586.4,628.3M584.6,629.5 586.4,628.3M575.7,628.5 574.0,630.7M575.7,628.5 584.6,629.5M576.6,635.8 580.1,635.9M637.2,527.8 629.8,530.7M637.2,527.8 637.2,524.4M637.2,524.4 629.4,521.2M629.8,530.7 629.4,521.2M640.1,531.5 637.2,527.8M638.1,536.0 634.2,538.1M629.5,531.2 629.8,530.7M633.9,516.1 638.3,518.6M638.3,518.6 637.8,523.9M629.1,520.8 629.4,521.2M637.8,523.9 637.2,524.4M619.9,489.3 628.6,485.0M625.7,493.2 631.6,490.8M631.6,490.8 628.6,485.0M702.0,508.6 698.1,505.0M696.7,511.8 695.4,508.0M695.4,508.0 698.1,505.0M700.6,501.6 698.3,503.5M698.1,505.0 698.3,503.5M616.5,486.5 623.1,478.3M628.6,485.0 628.9,484.3M628.9,484.3 627.3,480.2M627.3,480.2 623.1,478.3M615.6,473.1 622.5,475.6M623.1,478.3 622.5,475.6M619.7,445.5 626.5,452.5M613.3,455.9 625.2,457.9M625.2,457.9 626.5,452.5M629.7,440.2 631.6,449.3M626.5,452.5 631.6,449.3M640.3,447.6 636.2,450.6M631.6,449.3 636.2,450.6M614.7,467.1 623.9,465.3M622.5,475.6 626.3,470.4M623.9,465.3 626.3,470.4M625.2,457.9 626.1,459.8M623.9,465.3 626.1,459.8M637.0,455.8 630.5,460.5M636.2,450.6 637.0,455.8M626.1,459.8 630.5,460.5M632.5,475.8 627.3,480.2M632.5,475.8 629.7,471.2M629.7,471.2 626.3,470.4M483.0,505.7 488.9,502.0M489.7,500.0 489.7,500.8M488.9,502.0 489.7,500.8M485.1,509.1 490.3,509.1M488.9,502.0 490.3,509.1M484.1,513.5 486.7,515.0M486.7,515.0 492.3,510.7M490.3,509.1 492.3,510.7M505.7,495.9 504.2,496.4M505.7,495.9 510.2,488.8M500.0,494.2 504.2,496.4M500.5,508.9 496.1,507.6M500.5,508.9 503.3,503.9M498.7,501.2 501.8,501.4M498.7,501.2 495.7,505.2M496.1,507.6 495.7,505.2M503.3,503.9 501.8,501.4M497.8,500.0 498.7,501.2M504.2,496.4 501.8,501.4M489.7,500.8 495.7,505.2M492.4,510.7 492.3,510.7M492.4,510.7 496.1,507.6M536.4,498.1 536.1,503.2M545.4,504.2 537.3,504.8M537.3,504.8 536.1,503.2M504.3,525.1 504.6,524.4M511.7,527.3 510.2,523.2M510.7,528.7 511.7,527.3M504.6,524.4 510.2,523.2M546.4,534.2 543.3,537.2M537.4,524.6 534.9,531.2M543.3,537.2 534.9,531.2M547.5,547.2 542.9,538.6M543.3,537.2 542.9,538.6M500.3,514.2 504.9,517.3M500.3,514.2 497.7,515.6M497.7,515.6 497.7,520.8M497.7,520.8 503.5,520.3M503.5,520.3 504.9,517.3M506.3,510.6 506.5,515.8M505.6,517.1 506.5,515.8M501.0,509.9 500.3,514.2M501.0,509.9 506.3,510.6M505.6,517.1 504.9,517.3M494.2,514.3 492.4,510.7M494.2,514.3 497.7,515.6M501.0,509.9 500.5,508.9M498.3,525.4 497.3,521.3M504.6,524.4 503.5,520.3M497.3,521.3 497.7,520.8M511.2,521.0 510.2,523.2M505.6,517.1 511.2,521.0M493.4,521.2 492.2,517.5M493.4,521.2 492.3,522.2M492.3,522.2 487.4,522.4M492.2,517.5 487.5,517.3M487.5,517.3 486.5,520.4M486.5,520.4 487.4,522.4M494.2,514.3 492.2,517.5M497.3,521.3 493.4,521.2M492.9,526.0 492.3,522.2M486.6,525.4 487.4,522.4M486.7,515.0 487.5,517.3M481.0,520.0 486.5,520.4M616.7,600.2 617.4,603.5M616.7,600.2 607.4,597.5M603.3,612.1 602.1,611.7M602.1,611.7 600.3,601.8M607.4,597.5 601.0,600.7M600.3,601.8 601.0,600.7M622.9,594.8 616.7,600.2M607.3,582.9 615.7,579.2M607.3,582.9 607.4,597.5M599.2,615.5 602.1,611.7M587.3,613.2 595.0,619.0M587.3,605.2 587.3,613.2M587.3,605.2 600.3,601.8M607.3,582.9 597.6,579.1M590.1,586.8 601.0,600.7M582.8,601.7 585.4,587.7M587.3,605.2 582.8,601.7M603.9,553.3 603.4,554.9M603.9,553.3 613.7,548.9M603.4,554.9 607.8,563.9M613.7,548.9 619.6,554.1M619.6,554.1 620.4,560.0M620.4,560.0 614.3,566.6M607.8,563.9 614.3,566.6M597.4,539.9 603.9,553.3M591.4,559.0 603.4,554.9M615.5,542.7 613.7,548.9M596.7,574.2 607.8,563.9M627.7,549.1 619.6,554.1M629.7,549.8 631.2,551.7M631.2,551.7 631.9,558.8M631.9,558.8 628.7,561.6M628.7,561.6 620.4,560.0M628.7,561.6 630.0,570.6M616.8,573.2 614.3,566.6M774.2,502.7 773.2,497.7M776.0,498.1 773.2,497.7M745.5,491.5 744.6,487.4M744.6,487.4 749.4,483.3M751.9,493.0 752.7,491.7M752.7,491.7 751.3,484.3M745.5,491.5 751.9,493.0M749.4,483.3 751.3,484.3M778.8,478.4 779.5,470.2M778.8,478.4 771.6,478.9M779.5,470.2 770.2,473.3M771.6,478.9 769.5,475.0M769.5,475.0 770.2,473.3M727.6,474.2 734.3,471.9M727.6,474.2 726.1,473.1M724.6,467.2 733.6,465.4M726.1,473.1 724.6,467.2M734.3,471.9 733.6,465.4M739.2,485.6 744.6,487.4M743.0,495.1 738.7,496.0M738.7,496.0 737.5,494.7M739.2,485.6 738.3,486.0M743.0,495.1 745.5,491.5M738.3,486.0 737.5,494.7M669.5,446.1 671.5,443.7M669.5,446.1 661.1,441.8M671.5,443.7 669.6,437.2M669.6,437.2 664.7,436.2M664.7,436.2 661.3,438.6M661.1,441.8 661.3,438.6M672.5,451.7 669.4,448.7M669.4,448.7 669.5,446.1M672.5,451.7 679.7,448.8M674.9,443.4 671.5,443.7M669.4,448.7 666.2,450.7M659.7,443.9 661.1,441.8M673.8,434.0 669.6,437.2M664.9,428.6 664.7,436.2M654.5,434.2 661.3,438.6M650.7,445.4 652.3,446.0M710.3,416.0 722.0,414.5M710.3,416.0 706.7,411.7M706.7,411.7 706.7,410.9M706.7,410.9 714.9,402.3M714.9,402.3 724.2,410.5M722.0,414.5 724.2,410.7M724.2,410.5 724.2,410.7M718.7,427.8 723.8,425.4M718.7,427.8 710.0,421.4M723.8,425.4 722.0,414.5M710.0,421.4 710.3,416.0M705.5,425.6 700.1,425.0M705.5,425.6 710.0,421.4M696.3,416.5 706.7,411.7M698.5,399.9 706.7,410.9M714.7,398.7 714.9,402.3M729.0,426.9 728.2,427.1M728.2,427.1 723.8,425.4M729.0,426.9 737.8,415.8M737.8,415.8 724.2,410.7M737.8,393.6 730.2,397.7M737.8,393.6 743.4,396.1M743.4,396.1 745.4,403.5M730.4,400.7 740.4,407.3M730.4,400.7 730.2,397.7M745.4,403.5 740.4,407.3M737.7,382.9 737.8,393.6M724.2,392.7 730.2,397.7M750.8,389.2 743.4,396.1M756.1,396.9 752.1,405.0M752.1,405.0 745.4,403.5M738.5,415.6 740.4,407.3M737.8,415.8 738.5,415.6M724.2,410.5 730.4,400.7M636.3,253.3 630.2,251.1M636.2,244.3 630.3,246.5M630.2,251.1 630.3,246.5M627.6,238.2 628.1,245.0M620.7,243.4 624.0,246.0M624.0,246.0 628.1,245.0M628.1,245.0 630.3,246.5M583.2,280.3 581.0,279.3M578.2,286.5 577.6,280.8M581.0,279.3 577.6,280.8M557.6,272.8 554.1,278.1M553.5,271.5 550.8,274.2M554.1,278.1 550.8,274.2M548.7,269.2 548.1,273.8M550.8,274.2 548.1,273.8M541.5,269.8 545.8,275.2M548.1,273.8 545.8,275.2M542.8,293.1 544.9,291.0M549.6,293.1 548.5,291.1M544.9,291.0 548.5,291.1M562.0,256.3 565.2,254.1M562.0,256.3 562.0,259.4M562.0,259.4 562.0,259.4M562.0,259.4 567.3,260.4M567.3,260.4 568.1,255.8M568.1,255.8 565.2,254.1M559.5,253.6 562.0,256.3M565.2,250.1 565.2,254.1M558.3,259.8 562.0,259.4M557.9,266.0 561.6,265.0M561.6,265.0 562.0,259.4M574.1,259.9 572.1,261.2M567.3,260.5 567.3,260.4M572.1,261.2 567.3,260.5M570.9,254.3 568.1,255.8M602.4,334.0 601.0,339.7M602.4,334.0 607.2,335.6M607.2,335.6 604.8,340.9M601.0,339.7 602.8,341.3M602.8,341.3 604.8,340.9M601.2,331.9 602.4,334.0M597.2,339.4 601.0,339.7M623.0,336.4 617.5,339.3M622.1,331.2 615.6,333.0M615.6,333.0 617.5,339.3M608.9,349.8 608.6,342.7M608.9,349.8 613.8,350.6M613.8,350.6 615.0,349.7M615.0,349.7 616.0,341.0M608.6,342.7 612.2,340.3M612.2,340.3 616.0,341.0M594.4,345.8 594.8,346.7M585.7,351.3 593.8,351.2M594.8,346.7 593.8,351.2M602.8,341.3 601.7,345.8M594.8,346.7 601.7,345.8M608.6,342.7 604.8,340.9M608.9,349.8 605.7,351.1M601.7,345.8 605.7,351.1M597.0,365.0 592.0,360.3M597.0,365.0 604.4,361.4M592.0,360.3 594.7,352.7M594.7,352.7 603.1,355.1M604.4,361.4 603.1,355.1M595.2,370.7 597.0,365.0M587.7,360.8 592.0,360.3M610.3,365.1 610.3,364.9M610.3,364.9 604.4,361.4M593.8,351.2 594.7,352.7M605.7,351.1 603.1,355.1M615.4,359.7 613.8,350.6M610.3,364.9 615.4,359.7M644.5,351.7 635.9,350.9M637.2,342.6 633.8,347.0M635.9,350.9 633.8,347.0M645.0,354.4 642.9,358.7M656.5,362.8 648.6,369.2M642.9,358.7 648.6,369.2M654.5,376.6 648.5,369.3M640.0,381.1 641.2,373.3M641.2,373.3 648.5,369.3M648.5,369.3 648.6,369.2M606.4,307.2 604.4,311.0M610.3,306.0 606.4,307.2M610.3,306.0 610.6,312.7M610.6,312.7 607.2,314.2M607.2,314.2 604.4,311.0M611.1,321.2 612.3,321.0M611.1,321.2 608.5,320.0M613.0,313.4 610.6,312.7M608.5,320.0 606.8,315.4M607.2,314.2 606.8,315.4M608.5,320.0 603.1,323.3M601.3,322.7 602.1,317.2M606.8,315.4 602.1,317.2M617.5,302.5 615.4,305.5M617.5,302.5 615.7,299.1M615.7,299.1 611.9,298.9M615.4,305.5 610.6,305.5M611.9,298.9 609.3,302.1M609.3,302.1 610.6,305.5M616.5,308.2 615.4,305.5M619.6,302.3 617.5,302.5M621.6,297.0 619.7,295.5M616.3,296.9 615.7,299.1M610.3,306.0 610.6,305.5M592.8,304.8 594.3,303.8M590.3,297.1 595.1,299.3M594.3,303.8 595.1,299.3M597.1,294.0 597.2,297.8M595.1,299.3 597.2,297.8M560.7,463.5 563.6,465.2M560.7,463.5 557.1,468.0M564.0,471.2 564.1,471.2M558.5,470.4 557.1,468.0M564.1,471.2 563.6,465.2M560.7,460.8 564.5,458.9M560.7,460.8 559.6,455.4M564.5,458.9 565.6,453.9M559.6,455.4 561.8,452.9M561.8,452.9 564.2,452.7M564.2,452.7 565.6,453.9M560.3,461.4 560.7,460.8M554.8,460.0 560.3,461.4M553.8,455.2 559.6,455.4M557.4,449.0 561.8,452.9M565.8,444.7 564.2,452.7M574.1,447.6 570.2,454.3M570.2,454.3 565.6,453.9M551.0,321.5 551.7,317.9M551.0,321.5 554.0,323.6M558.5,319.5 557.0,323.0M558.5,319.5 555.4,315.6M555.4,315.6 551.7,317.9M554.0,323.6 557.0,323.0M548.5,322.6 551.0,321.5M548.7,315.0 551.7,317.9M553.7,331.5 553.4,331.9M553.7,331.5 554.0,323.6M561.0,319.0 558.5,319.5M562.1,316.1 561.0,319.0M556.1,313.9 555.4,315.6M557.0,323.0 562.0,326.7M561.0,319.0 563.5,321.5M562.0,326.7 563.5,321.5M565.9,315.4 567.3,319.8M563.5,321.5 567.3,319.8M579.6,382.8 573.0,378.1M579.6,382.8 579.6,385.3M577.2,387.4 579.2,386.2M577.2,387.4 570.8,383.3M570.8,383.3 573.0,378.1M579.2,386.2 579.6,385.3M581.7,379.5 579.6,382.8M572.9,377.1 573.0,378.1M588.2,384.9 579.6,385.3M584.2,391.5 579.2,386.2M576.0,389.8 577.2,387.4M570.5,383.4 570.8,383.3M575.2,330.4 576.3,329.5M575.2,330.4 575.3,332.8M583.1,333.7 578.4,336.8M575.3,332.8 578.4,336.8M580.0,342.1 578.1,339.4M578.1,339.4 578.4,336.8M605.2,293.2 607.5,296.1M605.2,293.2 607.4,290.5M609.9,291.2 607.4,290.5M609.9,291.2 611.0,294.5M607.5,296.1 610.3,295.7M611.0,294.5 610.3,295.7M606.1,286.0 607.4,290.5M602.3,292.9 602.9,293.3M602.9,293.3 605.2,293.2M612.5,289.2 609.9,291.2M614.6,294.0 611.0,294.5M605.6,300.2 609.3,302.1M611.9,298.9 610.3,295.7M605.6,300.2 607.5,296.1M579.0,299.0 574.1,302.7M579.0,299.0 576.8,294.6M573.8,294.6 576.8,294.6M573.8,294.6 572.2,299.7M572.2,299.7 574.1,302.7M580.9,300.0 579.0,299.0M574.1,303.5 574.1,302.7M577.6,293.8 576.8,294.6M573.5,294.4 573.8,294.6M574.7,286.6 578.1,286.5M572.5,291.1 574.7,286.6M567.4,300.0 572.2,299.7M621.0,290.0 624.3,286.0M621.0,290.0 625.1,292.6M624.3,286.0 628.8,286.7M625.1,292.6 627.8,292.1M627.8,292.1 629.8,288.7M628.8,286.7 629.8,287.7M629.8,287.7 629.8,288.7M620.2,290.1 621.0,290.0M623.5,284.0 624.3,286.0M624.1,296.3 625.1,292.6M628.9,282.6 628.8,286.7M630.6,296.5 627.8,292.1M635.9,293.3 629.8,288.7M632.9,286.3 629.8,287.7M622.7,263.7 622.1,264.1M622.7,263.7 623.8,263.7M628.0,270.3 628.0,266.7M623.8,263.7 628.0,266.7M634.8,266.2 638.5,264.2M634.8,266.2 631.7,263.9M631.7,263.9 631.7,263.5M631.7,263.5 635.4,258.9M635.4,258.9 638.9,262.2M638.5,264.2 638.9,262.2M635.2,269.6 634.8,266.2M641.7,267.9 638.5,264.2M628.0,266.7 631.7,263.9M623.8,263.7 627.9,259.0M627.9,259.0 631.7,263.5M642.9,260.5 638.9,262.2M637.1,254.7 635.3,258.0M635.3,258.0 635.4,258.9M616.2,259.3 614.3,255.7M616.2,259.3 615.6,261.8M614.3,255.7 609.5,259.3M615.6,261.8 611.0,262.8M611.0,262.8 609.5,259.3M616.3,262.9 615.6,261.8M622.7,263.7 621.1,258.7M621.1,258.7 616.2,259.3M612.8,252.5 614.3,255.4M614.3,255.4 614.3,255.7M608.4,258.8 609.5,259.3M610.1,264.9 611.0,262.8M666.0,305.4 660.4,307.3M654.3,304.0 654.4,304.6M660.4,307.3 654.4,304.6M665.5,319.5 658.0,315.0M660.4,307.3 658.0,315.0M646.7,307.1 651.7,307.4M654.4,304.6 651.7,307.4M649.9,315.4 652.2,314.8M649.9,315.4 647.1,318.4M647.1,318.4 649.6,325.7M654.5,315.9 652.2,314.8M654.5,315.9 654.5,323.1M649.6,325.7 654.5,323.1M645.5,311.7 649.9,315.4M651.7,307.4 652.2,314.8M643.0,318.6 647.1,318.4M648.7,327.3 649.6,325.7M658.0,315.0 654.5,315.9M660.6,326.0 654.5,323.1M698.3,250.0 687.6,249.4M698.3,250.0 702.4,255.9M696.6,262.4 685.8,260.9M696.6,262.4 701.6,258.3M685.8,260.9 685.9,250.4M702.4,255.9 701.6,258.3M685.9,250.4 687.6,249.4M689.5,238.2 687.6,249.4M701.6,239.9 698.3,250.0M710.5,253.8 702.4,255.9M696.6,272.0 696.6,262.4M682.7,264.5 685.8,260.9M707.4,266.7 701.6,258.3M679.5,248.1 685.9,250.4M553.0,464.7 548.4,467.8M553.0,464.7 556.5,467.9M556.5,467.9 550.6,472.1M550.6,472.1 548.5,470.0M548.5,470.0 548.4,467.8M552.8,462.4 553.0,464.7M546.3,465.4 548.4,467.8M560.7,463.5 560.3,461.4M557.1,468.0 556.5,467.9M550.7,472.9 550.6,472.1M541.5,472.5 548.5,470.0M633.4,499.0 639.2,495.9M633.4,499.0 633.1,498.8M633.1,498.8 632.9,491.3M639.3,492.6 639.2,495.9M639.3,492.6 635.4,490.3M635.4,490.3 632.9,491.3M630.9,508.7 632.2,507.4M632.2,507.4 633.9,500.2M633.9,500.2 633.4,499.0M627.2,498.9 633.1,498.8M631.6,490.8 632.9,491.3M691.8,553.0 692.5,555.9M644.3,540.2 641.9,545.2M648.9,548.5 650.8,541.7M650.5,540.7 650.8,541.7M648.9,548.5 648.0,548.8M648.0,548.8 641.9,545.2M631.2,551.7 639.1,550.6M635.2,542.8 640.5,545.8M639.1,550.6 640.5,545.8M640.5,545.8 641.9,545.2M678.1,545.1 673.8,544.0M680.5,538.9 676.1,536.7M676.1,536.7 673.3,541.9M673.8,544.0 673.3,541.9M675.8,536.0 676.1,536.7M675.8,536.0 669.8,535.8M669.8,535.8 668.8,536.9M668.8,536.9 668.6,538.2M673.3,541.9 668.6,538.2M739.7,516.4 749.3,516.8M739.7,516.4 740.6,507.7M740.6,507.7 743.1,505.9M749.0,510.1 749.8,516.0M749.0,510.1 743.4,505.8M743.4,505.8 743.1,505.9M749.4,516.8 749.8,516.0M737.7,521.0 738.7,517.0M738.7,517.0 739.7,516.4M737.7,521.0 738.4,521.8M738.2,498.9 743.1,505.9M738.2,498.9 733.1,502.6M732.9,507.0 733.1,502.6M732.9,507.0 740.6,507.7M738.7,496.0 738.2,498.9M743.0,495.1 747.6,500.0M747.6,500.0 743.4,505.8M719.3,522.5 721.3,520.0M724.0,520.3 721.3,520.0M721.4,528.8 722.6,528.6M724.0,520.3 726.2,523.5M726.2,523.5 722.6,528.6M708.8,487.4 713.2,490.4M708.2,494.1 712.4,492.9M712.4,492.9 713.2,490.4M716.0,486.8 711.6,483.0M710.7,482.9 711.6,483.0M716.0,486.8 715.1,489.7M713.2,490.4 715.1,489.7M733.4,494.1 737.5,494.7M733.4,494.1 728.5,498.0M733.1,502.6 728.6,498.4M728.5,498.0 728.6,498.4M722.8,513.3 720.4,517.3M722.8,513.3 718.0,511.3M720.4,517.3 716.8,516.2M718.0,511.3 716.2,514.5M716.2,514.5 716.8,516.2M721.3,520.0 720.4,517.3M714.5,519.3 716.8,516.2M711.4,513.4 716.2,514.5M716.8,507.4 716.4,507.4M716.8,507.4 718.0,511.3M572.2,618.0 576.7,614.2M572.2,618.0 572.6,622.8M574.7,624.1 572.6,622.8M574.7,624.1 581.1,620.0M576.7,614.2 581.3,616.7M581.1,620.0 581.3,616.7M568.3,624.0 572.6,622.8M566.6,616.3 567.0,616.0M567.0,616.0 572.2,618.0M575.7,628.5 574.7,624.1M586.4,628.3 581.1,620.0M587.3,613.2 581.3,616.7M573.9,607.5 568.4,608.8M573.9,607.5 576.9,603.1M576.9,603.1 568.8,594.1M568.4,608.8 563.3,606.3M568.8,594.1 560.0,601.3M563.3,606.3 560.0,601.3M576.7,614.2 573.9,607.5M567.0,616.0 568.4,608.8M582.8,601.7 576.9,603.1M569.5,588.6 568.8,594.1M559.4,613.5 563.3,606.3M559.4,601.2 560.0,601.3M645.7,449.2 646.8,455.9M655.8,453.8 652.6,457.4M652.6,457.4 646.8,455.9M638.9,457.2 637.0,455.8M638.9,457.2 646.2,456.5M646.8,455.9 646.2,456.5M628.9,484.3 634.5,483.0M635.7,476.9 636.7,478.9M635.7,476.9 632.5,475.8M636.7,478.9 634.5,483.0M635.4,490.3 636.6,487.2M634.5,483.0 636.6,487.2M642.4,498.2 639.2,495.9M642.4,498.2 641.6,500.5M633.9,500.2 638.1,502.1M641.6,500.5 638.1,502.1M632.2,507.4 639.3,506.9M638.1,502.1 639.3,506.9M634.3,513.1 639.8,512.0M639.3,506.9 639.8,507.2M639.8,507.2 639.8,512.0M638.3,518.6 640.2,517.5M640.2,517.5 640.2,512.3M639.8,512.0 640.2,512.3M694.0,473.7 695.6,480.0M694.4,473.1 694.0,473.7M701.4,475.0 701.3,476.8M701.4,475.0 694.4,473.1M701.3,476.8 696.5,480.3M696.5,480.3 695.6,480.0M700.6,486.1 698.7,485.5M703.6,479.4 701.3,476.8M696.5,480.3 698.7,485.5M698.3,503.5 692.2,500.1M698.7,497.2 692.9,497.3M692.9,497.3 692.2,500.1M676.3,562.9 676.4,566.6M679.7,560.2 676.3,562.9M676.4,566.6 677.0,567.1M514.5,533.9 517.8,531.7M517.8,531.7 517.9,531.6M511.0,532.3 514.5,533.9M511.7,527.3 516.2,527.3M517.9,531.6 516.2,527.3M512.7,520.2 517.4,524.6M517.4,524.6 517.4,525.2M512.7,520.2 511.2,521.0M517.4,525.2 516.2,527.3M517.4,525.2 522.6,526.1M517.9,531.6 522.9,528.8M522.9,528.8 522.6,526.1M511.1,546.8 513.9,543.4M507.4,538.4 513.8,540.0M513.8,540.0 513.9,543.4M514.5,533.9 514.2,539.6M513.8,540.0 514.2,539.6M779.6,490.7 777.9,484.7M782.8,481.6 780.1,481.2M777.9,484.7 780.1,481.2M779.9,469.6 779.5,470.2M779.9,469.6 781.2,469.3M781.2,469.3 781.4,469.5M778.8,478.4 780.1,481.2M770.7,481.5 771.6,478.9M773.0,485.2 770.7,481.5M773.0,485.2 777.9,484.7M758.8,489.7 752.7,491.7M758.8,489.7 759.2,486.0M751.3,484.3 757.4,483.6M759.2,486.0 757.4,483.6M770.7,481.5 766.0,482.6M766.0,486.7 771.2,487.9M773.0,485.2 771.2,487.9M766.0,486.7 765.0,485.3M765.0,485.3 766.0,482.6M779.9,469.6 773.1,462.1M766.2,466.6 770.2,473.3M766.2,466.6 769.0,462.6M773.1,462.1 769.0,462.6M781.3,469.1 781.2,469.3M780.7,452.6 777.7,453.5M773.1,462.1 777.7,453.5M787.0,418.6 789.6,422.8M775.6,423.8 780.1,431.1M780.1,431.1 786.9,431.7M740.8,476.4 740.3,475.7M740.8,476.4 748.5,479.8M740.3,475.7 745.2,468.0M752.4,475.0 748.5,479.8M752.4,475.0 748.4,466.9M748.4,466.9 745.2,468.0M749.4,483.3 748.5,479.8M739.2,485.6 740.8,476.4M734.3,471.9 737.9,475.1M737.9,475.1 740.3,475.7M736.3,462.9 734.9,463.2M733.6,465.4 734.9,463.2M736.3,462.9 745.2,468.0M738.3,486.0 732.9,485.4M733.4,494.1 731.1,490.0M732.9,485.4 731.1,490.0M672.5,451.7 672.8,454.2M665.4,455.8 669.3,458.2M669.3,458.2 672.8,454.2M694.3,470.1 692.1,468.0M694.3,470.1 699.7,468.0M692.1,468.0 693.6,461.5M699.7,468.0 700.6,465.8M700.6,465.8 697.0,461.9M697.0,461.9 693.6,461.5M702.3,473.6 699.7,468.0M701.4,475.0 702.3,473.6M694.4,473.1 694.3,470.1M693.0,460.8 686.9,462.3M693.0,460.8 693.6,461.5M686.7,466.2 686.9,462.3M690.1,468.3 692.1,468.0M690.1,468.3 686.7,466.2M701.2,454.7 705.1,448.6M701.2,454.7 695.0,451.8M694.4,449.2 699.8,444.4M694.4,449.2 695.0,451.8M699.8,444.4 705.1,448.6M702.0,456.2 697.0,461.9M692.2,456.1 693.0,460.8M692.2,456.1 695.0,451.8M702.0,456.2 701.2,454.7M698.3,436.6 700.6,438.1M691.9,447.6 694.4,449.2M700.6,438.1 699.8,444.4M685.3,451.3 686.3,455.4M686.3,455.4 692.2,456.1M705.8,458.4 702.0,456.2M705.8,458.4 710.1,455.1M707.7,448.4 710.9,451.4M707.7,448.4 705.1,448.6M710.1,455.1 710.9,451.4M715.7,433.5 716.0,435.1M715.7,433.5 707.6,431.6M716.0,435.1 712.9,440.7M707.6,431.6 702.4,437.8M702.4,437.8 709.9,441.7M709.9,441.7 712.9,440.7M728.2,427.1 726.8,441.2M718.7,427.8 715.7,433.5M726.8,441.2 716.0,435.1M705.5,425.6 707.6,431.6M700.6,438.1 702.4,437.8M707.7,448.4 709.9,441.7M757.6,411.6 758.1,426.8M757.6,411.6 756.5,411.1M756.5,411.1 743.9,419.4M752.0,427.5 758.1,426.8M752.0,427.5 745.0,422.9M745.0,422.9 743.9,419.4M763.2,410.5 757.6,411.6M752.1,405.0 756.5,411.1M738.5,415.6 743.9,419.4M738.3,431.8 729.0,426.9M738.3,431.8 745.0,422.9M777.8,394.7 781.8,395.1M783.4,409.5 786.1,405.8M787.5,414.6 788.9,414.2M620.5,253.9 621.7,257.6M620.5,253.9 621.5,251.4M621.5,251.4 622.3,251.1M622.3,251.1 628.1,253.5M621.7,257.6 627.8,256.8M628.1,253.5 628.1,256.4M627.8,256.8 628.1,256.4M621.1,258.7 621.7,257.6M614.3,255.4 620.5,253.9M617.3,248.9 621.5,251.4M624.0,246.0 622.3,251.1M630.2,251.1 628.1,253.5M627.9,259.0 627.8,256.8M635.3,258.0 628.1,256.4M577.6,280.8 574.7,279.0M574.7,286.6 571.3,284.1M574.7,279.0 571.3,284.1M567.9,287.5 569.9,284.2M568.1,289.0 567.9,287.5M569.9,284.2 571.3,284.1M581.0,279.3 580.2,274.8M586.2,274.7 585.3,273.8M580.2,274.8 585.3,273.8M590.4,268.4 584.8,269.7M585.3,273.8 584.8,269.7M584.3,264.7 584.2,269.1M584.2,269.1 584.8,269.7M554.1,278.1 554.2,278.7M555.1,280.0 554.2,278.7M560.8,275.1 559.0,272.3M560.8,275.1 559.8,279.4M555.1,280.0 557.8,280.6M559.8,279.4 557.8,280.6M566.5,280.3 567.2,277.8M566.0,275.8 567.2,277.8M560.8,275.1 566.0,275.8M566.5,280.3 564.8,281.0M559.8,279.4 564.8,281.0M567.9,287.5 562.2,286.2M569.9,284.2 566.5,280.3M564.8,281.0 562.2,286.2M561.5,291.5 561.0,286.9M561.5,291.5 556.3,293.5M556.3,293.5 554.4,287.8M554.4,287.8 559.8,286.3M561.0,286.9 559.8,286.3M562.1,292.0 561.5,291.5M562.2,286.2 561.0,286.9M555.8,294.5 556.3,293.5M548.5,291.1 551.8,286.6M551.8,286.6 554.4,287.8M555.1,280.0 551.7,286.4M551.8,286.6 551.7,286.4M557.8,280.6 559.8,286.3M545.1,277.3 548.0,279.8M545.1,277.3 539.3,280.8M548.0,279.8 548.9,284.3M548.9,284.3 542.9,285.3M542.9,285.3 538.7,282.3M538.7,282.3 539.3,280.8M554.2,278.7 548.0,279.8M545.8,275.2 545.1,277.3M534.9,268.5 539.3,280.8M551.7,286.4 548.9,284.3M544.9,291.0 542.9,285.3M537.6,282.9 538.7,282.3M614.3,328.7 608.9,327.8M614.3,328.7 614.9,332.5M614.9,332.5 609.4,334.8M607.4,328.5 608.9,327.8M607.4,328.5 609.3,334.7M609.3,334.7 609.4,334.8M611.1,321.2 608.9,327.8M615.7,326.7 614.3,328.7M615.6,333.0 614.9,332.5M612.2,340.3 609.4,334.8M616.0,341.0 617.0,340.3M617.5,339.3 617.0,340.3M605.7,328.1 607.4,328.5M607.2,335.6 609.3,334.7M621.9,359.5 625.9,355.0M621.9,359.5 626.1,369.9M625.9,355.0 631.8,357.2M631.8,357.2 634.6,361.4M634.6,361.4 633.1,367.7M633.1,367.7 627.0,370.1M627.0,370.1 626.1,369.9M615.4,359.7 621.9,359.5M619.1,372.3 626.1,369.9M642.9,358.7 634.6,361.4M635.9,350.9 631.8,357.2M641.2,373.3 633.1,367.7M629.5,381.3 627.0,370.1M630.0,346.6 625.2,352.2M630.0,346.6 628.2,342.7M625.9,342.0 628.2,342.7M625.9,342.0 622.4,344.0M622.4,344.0 622.0,349.8M622.0,349.8 625.2,352.2M633.8,347.0 630.0,346.6M625.9,355.0 625.2,352.2M632.4,337.8 628.2,342.7M624.0,336.9 625.9,342.0M617.0,340.3 622.4,344.0M615.0,349.7 622.0,349.8M599.9,307.1 603.5,310.9M599.9,307.1 596.2,311.1M603.5,310.9 598.8,314.3M596.2,311.1 598.6,314.3M598.6,314.3 598.8,314.3M604.4,311.0 603.5,310.9M602.1,317.2 598.8,314.3M594.8,310.7 596.2,311.1M596.0,317.6 598.6,314.3M602.1,299.4 604.5,300.4M602.1,299.4 601.0,299.5M601.0,299.5 598.7,304.8M604.5,300.4 603.8,304.9M603.8,304.9 599.9,306.4M599.9,306.4 598.7,304.8M605.6,300.2 604.5,300.4M602.9,293.3 602.1,299.4M597.2,297.8 601.0,299.5M594.3,303.8 598.7,304.8M606.4,307.2 603.8,304.9M599.9,307.1 599.9,306.4M569.2,461.9 567.8,464.2M569.2,461.9 573.2,460.1M567.8,464.2 569.3,468.8M573.2,460.1 577.6,461.5M571.3,469.8 577.8,465.3M571.3,469.8 569.3,468.8M577.8,465.3 578.5,462.7M578.5,462.7 577.6,461.5M564.5,458.9 569.2,461.9M563.6,465.2 567.8,464.2M570.2,454.3 573.2,460.1M564.1,471.2 569.3,468.8M580.9,449.3 577.6,461.5M580.0,474.2 577.8,465.3M571.8,474.3 571.3,469.8M591.4,463.2 578.5,462.7M559.3,336.3 560.1,336.0M560.1,336.0 563.2,330.8M553.7,331.5 561.9,327.2M563.2,330.8 561.9,327.2M562.0,326.7 562.0,326.7M561.9,327.2 562.0,326.7M567.9,320.1 568.4,326.1M567.9,320.1 571.9,319.5M571.9,319.5 574.6,321.1M569.6,326.8 568.4,326.1M569.6,326.8 574.5,321.7M574.5,321.7 574.6,321.1M567.3,319.8 567.9,320.1M562.0,326.7 568.4,326.1M571.6,312.8 571.9,319.5M574.9,320.9 574.6,321.1M567.7,332.9 570.7,329.2M567.7,332.9 563.2,330.8M570.7,329.2 569.6,326.8M575.2,330.4 570.7,329.2M576.9,327.2 574.5,321.7M567.9,334.5 571.2,336.6M567.9,334.5 564.8,337.8M571.2,336.6 572.0,339.8M564.8,337.8 566.4,343.5M572.0,339.8 570.0,342.9M570.0,342.9 566.4,343.5M575.3,332.8 571.2,336.6M567.7,332.9 567.9,334.5M560.1,336.0 564.8,337.8M578.1,339.4 572.0,339.8M565.0,344.8 566.4,343.5M575.6,348.2 570.0,342.9M662.0,571.5 653.8,568.1M662.0,571.5 665.6,568.1M665.6,568.1 665.3,561.9M665.3,561.9 657.5,562.6M657.5,562.6 653.8,568.1M650.8,541.7 656.5,544.9M648.9,548.5 652.9,550.3M652.9,550.3 656.8,546.6M656.5,544.9 656.8,546.6M657.1,538.5 658.8,541.9M652.6,538.8 657.1,538.5M656.5,544.9 658.8,541.9M655.1,555.7 662.2,553.3M655.1,555.7 657.5,562.6M665.3,561.9 665.8,561.2M662.2,553.3 665.8,561.2M677.1,552.4 672.1,552.7M676.3,562.9 670.7,559.8M672.1,552.7 670.7,559.8M671.5,570.4 676.4,566.6M671.5,570.4 665.6,568.1M670.7,559.8 665.8,561.2M749.8,516.0 752.8,515.3M773.5,504.9 769.2,505.6M769.2,505.6 767.9,510.2M767.9,510.2 768.4,510.6M767.7,503.5 762.4,503.0M762.4,503.0 760.2,509.1M760.2,509.1 761.1,511.3M769.2,505.6 767.7,503.5M767.9,510.2 761.1,511.3M753.8,505.7 749.0,510.1M753.8,505.7 760.2,509.1M760.9,511.9 761.1,511.3M772.9,497.4 773.0,493.1M772.9,497.4 769.2,498.9M769.2,498.9 763.4,495.5M773.0,493.1 772.0,492.2M772.0,492.2 764.7,493.0M764.7,493.0 763.1,494.5M763.1,494.5 763.4,495.5M779.6,490.9 773.0,493.1M773.2,497.7 772.9,497.4M767.7,503.5 769.2,498.9M761.8,501.7 763.4,495.5M762.4,503.0 761.8,501.7M771.2,487.9 772.0,492.2M766.0,486.7 764.7,493.0M761.9,494.0 763.1,494.5M758.8,489.7 761.9,494.0M759.2,486.0 765.0,485.3M722.6,528.6 722.8,528.8M726.2,523.5 731.6,523.5M732.5,524.2 731.6,523.5M732.5,524.2 732.6,524.4M737.7,521.0 732.5,524.2M716.0,486.8 719.9,484.5M711.6,483.0 716.5,480.5M719.9,484.5 720.2,483.8M720.2,483.8 716.5,480.5M709.8,499.1 713.0,498.8M712.4,492.9 714.1,496.2M714.1,496.2 713.0,498.8M713.7,504.8 714.0,500.1M713.0,498.8 714.0,500.1M729.0,516.8 732.6,513.6M729.0,516.8 727.5,516.7M727.5,516.7 723.7,512.9M732.6,513.6 731.6,508.4M723.7,512.9 724.4,511.3M724.4,511.3 731.1,508.4M731.6,508.4 731.1,508.4M731.6,523.5 729.0,516.8M738.7,517.0 732.6,513.6M724.0,520.3 727.5,516.7M722.8,513.3 723.7,512.9M732.9,507.0 731.6,508.4M724.7,503.9 721.9,506.3M724.7,503.9 724.8,502.8M724.8,502.8 720.1,499.1M718.6,506.4 718.6,500.5M718.6,506.4 721.9,506.3M718.6,500.5 720.1,499.1M731.1,508.4 724.7,503.9M724.4,511.3 721.9,506.3M728.6,498.4 724.8,502.8M716.8,507.4 718.6,506.4M714.0,500.1 718.6,500.5M727.5,497.0 720.6,496.3M727.5,497.0 726.3,491.0M726.3,491.0 725.5,490.5M725.5,490.5 721.6,491.2M721.6,491.2 719.9,493.0M719.9,493.0 719.7,494.6M719.7,494.6 720.6,496.3M728.5,498.0 727.5,497.0M720.1,499.1 720.6,496.3M731.1,490.0 726.3,491.0M719.9,484.5 721.6,491.2M715.1,489.7 719.9,493.0M714.1,496.2 719.7,494.6M629.7,471.2 635.0,466.5M635.7,476.9 639.7,471.2M639.7,471.2 635.0,466.5M638.9,457.2 639.4,462.5M630.5,460.5 635.0,465.7M639.4,462.5 635.0,465.7M635.0,466.5 635.0,465.7M645.3,516.7 643.4,518.5M645.3,516.7 650.1,517.2M650.1,517.2 650.2,517.5M650.2,517.5 646.5,523.9M643.4,518.5 644.0,523.1M644.0,523.1 645.2,523.9M645.2,523.9 646.5,523.9M640.2,517.5 643.4,518.5M643.9,512.6 640.2,512.3M643.9,512.6 645.3,516.7M637.8,523.9 644.0,523.1M642.5,531.1 645.2,523.9M648.8,531.4 648.4,525.1M648.4,525.1 646.5,523.9M650.2,517.0 650.1,517.2M650.2,517.0 648.3,511.4M643.9,512.6 645.7,511.1M648.3,511.4 645.7,511.1M639.8,507.2 644.4,505.7M645.7,511.1 644.4,505.7M641.6,500.5 644.7,505.3M644.7,505.3 644.4,505.7M658.4,536.6 662.0,537.1M658.4,536.6 657.6,533.1M657.6,533.1 659.5,531.2M659.5,531.2 663.2,531.4M662.0,537.1 663.9,534.3M663.9,534.3 663.2,531.4M657.1,538.5 658.4,536.6M662.9,539.5 661.3,541.9M662.9,539.5 662.0,537.1M658.8,541.9 661.3,541.9M653.1,532.7 657.6,533.1M662.9,539.5 667.1,539.8M668.8,536.9 663.9,534.3M668.6,538.2 667.1,539.8M692.9,497.3 692.8,497.1M700.1,493.2 694.9,492.4M692.8,497.1 694.9,492.4M698.7,485.5 694.9,487.6M694.9,487.6 694.1,490.3M694.9,492.4 694.1,490.3M661.4,461.4 662.0,457.2M669.3,458.2 669.6,460.8M661.4,461.4 666.2,463.4M666.2,463.4 669.6,460.8M668.7,467.7 672.1,467.3M668.7,467.7 666.2,465.1M669.6,460.8 671.6,461.9M671.6,461.9 673.1,464.9M666.2,465.1 666.2,463.4M673.1,464.9 672.1,467.3M661.4,461.4 658.9,463.0M652.6,457.4 653.3,459.7M653.3,459.7 658.7,463.0M658.9,463.0 658.7,463.0M694.1,490.3 688.4,490.7M692.8,497.1 688.1,493.8M688.4,490.7 688.1,493.8M691.2,500.9 686.1,499.6M692.2,500.1 691.2,500.9M684.5,497.2 686.1,499.6M684.5,497.2 684.7,495.9M684.7,495.9 688.1,493.8M648.3,511.4 650.7,509.2M644.7,505.3 648.1,504.0M650.7,509.2 648.1,504.0M671.5,570.4 671.6,570.9M505.0,504.1 503.3,503.9M505.0,504.1 508.1,508.0M506.3,510.6 507.8,509.4M508.1,508.0 507.8,509.4M527.8,492.0 525.5,498.7M536.1,503.2 528.2,503.0M525.5,498.7 528.2,503.0M528.7,524.2 523.7,524.8M528.7,524.2 529.4,528.4M523.7,524.8 522.6,526.1M522.9,528.8 524.4,530.0M524.4,530.0 529.4,528.4M534.9,531.2 532.4,531.6M536.2,522.8 530.0,521.8M530.0,521.8 528.7,524.2M532.4,531.6 529.4,528.4M542.9,538.6 534.1,543.6M544.9,552.7 537.2,553.3M534.1,543.6 537.2,553.3M530.3,565.3 531.2,559.4M531.2,559.4 537.2,553.3M753.7,504.2 749.4,499.7M753.7,504.2 757.0,500.9M757.0,500.9 756.0,496.8M749.4,499.7 752.4,495.3M752.4,495.3 756.0,496.8M753.8,505.7 753.7,504.2M747.6,500.0 749.4,499.7M761.8,501.7 757.0,500.9M761.9,494.0 756.0,496.8M751.9,493.0 752.4,495.3M756.0,475.5 758.2,480.8M756.0,475.5 760.3,471.9M758.2,480.8 764.1,478.9M760.3,471.9 764.7,476.6M764.7,476.6 764.1,478.9M757.4,483.6 758.2,480.8M752.4,475.0 756.0,475.5M749.3,465.6 755.5,463.8M761.0,468.4 755.5,463.8M749.3,465.6 748.4,466.9M761.0,468.4 760.3,471.9M766.0,482.6 764.1,478.9M761.0,468.4 766.2,466.6M769.5,475.0 764.7,476.6M769.0,462.6 763.1,455.4M777.7,453.5 767.2,447.7M767.2,447.7 763.1,455.4M755.5,463.8 758.1,456.8M758.1,456.8 763.1,455.4M783.4,445.0 775.4,438.5M775.4,438.5 780.1,431.1M716.5,480.5 716.5,476.5M716.5,476.5 710.7,475.9M709.5,477.9 710.2,476.2M710.2,476.2 710.7,475.9M702.3,473.6 706.1,472.6M710.2,476.2 706.1,472.6M716.5,476.5 718.2,475.0M717.5,470.1 718.2,475.0M717.5,470.1 713.1,469.6M710.7,475.9 713.1,469.6M738.3,431.8 739.2,434.8M752.0,427.5 747.5,438.0M747.5,438.0 739.2,434.8M726.9,441.4 726.8,441.2M726.9,441.4 733.6,442.1M733.6,442.1 739.2,434.8M731.8,480.5 731.9,484.3M731.8,480.5 727.9,477.4M731.9,484.3 725.8,484.7M727.9,477.4 723.4,481.4M725.8,484.7 723.1,482.6M723.4,481.4 723.1,482.6M737.9,475.1 731.8,480.5M732.9,485.4 731.9,484.3M727.6,474.2 727.9,477.4M725.5,490.5 725.8,484.7M720.4,475.6 723.4,481.4M726.1,473.1 720.4,475.6M720.2,483.8 723.1,482.6M720.4,475.6 718.2,475.0M719.0,453.8 714.7,450.3M719.0,453.8 724.9,451.7M724.9,451.7 724.6,445.1M724.6,445.1 716.7,445.6M716.7,445.6 714.7,450.3M728.8,455.7 724.9,451.7M728.8,455.7 729.1,455.8M729.1,455.8 738.3,449.1M738.3,449.1 733.6,442.1M726.9,441.4 724.6,445.1M712.9,440.7 716.7,445.6M710.9,451.4 714.7,450.3M724.0,466.8 723.6,461.5M724.0,466.8 719.1,468.1M719.1,468.1 715.1,461.8M723.6,461.5 717.3,459.0M715.1,461.8 716.0,459.7M716.0,459.7 717.3,459.0M729.1,455.8 734.9,463.2M724.6,467.2 724.0,466.8M728.8,455.7 723.6,461.5M717.5,470.1 719.1,468.1M719.0,453.8 717.3,459.0M710.1,455.1 716.0,459.7M580.2,274.8 577.8,273.3M584.2,269.1 578.2,269.7M577.8,273.3 578.2,269.7M574.7,279.0 573.7,276.0M577.8,273.3 573.7,276.0M567.2,277.8 573.7,276.0M573.7,276.0 573.7,276.0M578.5,263.8 577.1,267.9M577.1,267.9 578.2,269.7M638.8,586.9 643.2,577.9M632.3,572.2 635.0,571.9M643.2,577.9 640.4,573.7M635.0,571.9 640.4,573.7M662.0,549.4 663.8,545.7M662.0,549.4 662.6,552.2M662.6,552.2 670.7,551.2M663.8,545.7 667.0,544.5M667.0,544.5 670.8,546.3M670.8,546.3 670.7,551.2M656.8,546.6 662.0,549.4M661.3,541.9 663.8,545.7M652.9,550.3 654.9,555.7M654.9,555.7 655.1,555.7M662.2,553.3 662.6,552.2M672.1,552.7 670.7,551.2M667.1,539.8 667.0,544.5M673.8,544.0 670.8,546.3M648.1,504.0 649.0,502.7M642.4,498.2 644.7,497.3M649.0,502.7 644.7,497.3M636.7,478.9 639.8,480.0M636.6,487.2 640.7,486.0M639.8,480.0 641.4,484.4M640.7,486.0 641.4,484.4M650.2,517.5 653.1,520.7M648.4,525.1 651.8,524.7M653.1,520.7 651.8,524.7M659.5,531.2 657.4,526.2M652.3,531.8 654.4,526.8M657.4,526.2 654.4,526.8M654.4,526.8 651.8,524.7M681.1,532.2 679.7,532.0M675.8,536.0 676.0,534.8M676.0,534.8 679.7,532.0M695.4,508.0 691.0,507.5M691.2,500.9 689.9,505.7M691.0,507.5 689.9,505.7M691.9,514.5 689.1,513.2M691.0,507.5 689.1,513.2M669.8,535.8 670.0,530.1M676.0,534.8 673.5,529.9M673.5,529.9 670.0,530.1M664.2,530.3 668.9,529.3M664.2,530.3 663.2,531.4M670.0,530.1 668.9,529.3M688.6,522.1 687.6,521.6M689.1,513.2 688.5,513.4M687.6,521.6 688.5,513.4M686.1,499.6 683.7,504.1M684.5,497.2 678.3,500.5M678.3,500.5 683.7,504.1M689.9,505.7 684.3,505.8M683.7,504.1 684.3,505.8M688.5,513.4 687.9,513.3M687.9,513.3 682.7,508.5M684.3,505.8 682.7,508.5M683.5,515.7 687.9,513.3M679.3,513.6 683.5,515.7M679.3,513.6 679.1,511.4M679.1,511.4 680.5,509.3M682.7,508.5 680.5,509.3M662.4,483.7 662.3,479.9M662.4,483.7 663.8,485.1M663.8,485.1 669.1,483.3M669.1,483.3 668.0,479.8M668.0,479.8 662.3,479.9M666.2,465.1 663.7,467.9M658.9,463.0 660.9,467.6M663.7,467.9 660.9,467.6M665.4,473.2 660.3,472.3M661.7,479.1 665.4,473.2M660.2,478.6 661.7,479.1M660.2,478.6 658.7,475.6M658.7,475.6 660.3,472.3M665.7,473.0 665.4,473.2M663.7,467.9 665.7,473.0M660.9,467.6 659.2,470.5M659.2,470.5 660.3,472.3M694.0,473.7 689.0,475.7M695.6,480.0 692.0,480.9M692.0,480.9 689.0,475.7M689.0,475.7 689.0,475.7M690.1,468.3 687.3,472.5M689.0,475.7 687.3,472.5M683.5,468.0 683.6,467.7M686.7,466.2 683.6,467.7M683.5,468.0 685.1,472.0M687.3,472.5 685.1,472.0M662.3,479.9 661.7,479.1M665.7,473.0 666.4,473.1M668.0,479.8 668.1,479.5M668.1,479.5 666.4,473.1M668.7,467.7 667.0,472.8M667.0,472.8 666.4,473.1M656.2,498.2 656.9,498.8M656.2,498.2 651.8,498.2M651.8,498.2 649.5,502.4M649.5,502.4 655.3,504.3M655.3,504.3 656.9,498.8M654.0,581.6 654.0,581.3M654.0,581.3 655.5,580.7M643.2,577.9 650.6,577.7M650.6,577.7 654.0,581.3M662.0,571.5 662.5,576.5M650.6,577.7 653.0,568.4M653.8,568.1 653.0,568.4M517.4,524.6 520.0,520.3M523.7,524.8 522.0,520.5M520.0,520.3 522.0,520.5M538.9,514.5 536.2,511.9M537.3,504.8 536.1,511.5M536.2,511.9 536.1,511.5M536.1,511.5 527.5,510.1M528.2,503.0 526.9,505.3M526.9,505.3 527.5,510.1M508.1,508.0 511.3,506.1M505.0,504.1 509.8,500.8M511.3,506.1 509.8,500.8M505.7,495.9 509.8,500.6M509.8,500.6 509.8,500.8M515.4,489.4 516.2,498.4M509.8,500.6 516.2,498.4M525.5,498.7 518.1,500.5M516.2,498.4 518.1,500.5M532.4,531.6 530.1,534.8M534.1,543.6 533.4,543.4M530.1,534.8 533.4,543.4M756.5,442.4 766.8,446.2M756.5,442.4 761.7,428.9M764.7,428.9 761.7,428.9M764.7,428.9 771.1,439.1M771.1,439.1 766.8,446.2M772.1,422.5 764.7,428.9M758.1,426.8 761.7,428.9M775.4,438.5 771.1,439.1M767.2,447.7 766.8,446.2M707.6,468.3 710.9,467.6M707.6,468.3 704.1,464.8M710.9,467.6 712.4,463.3M712.4,463.3 706.1,460.0M706.1,460.0 704.1,464.8M706.1,472.6 707.6,468.3M713.1,469.6 710.9,467.6M700.6,465.8 704.1,464.8M715.1,461.8 712.4,463.3M705.8,458.4 706.1,460.0M752.9,452.1 753.4,443.3M752.9,452.1 745.3,455.7M739.4,449.4 749.2,441.3M739.4,449.4 742.9,454.8M753.4,443.3 749.2,441.3M745.3,455.7 742.9,454.8M758.1,456.8 752.9,452.1M756.5,442.4 753.4,443.3M749.3,465.6 745.3,455.7M738.3,449.1 739.4,449.4M747.5,438.0 749.2,441.3M736.3,462.9 742.9,454.8M571.2,271.7 572.7,267.6M571.2,271.7 566.6,271.6M566.6,271.6 565.1,269.0M571.8,266.7 566.2,266.7M571.8,266.7 572.7,267.6M565.1,269.0 565.3,267.4M565.3,267.4 566.2,266.7M573.7,276.0 571.2,271.7M577.1,267.9 572.7,267.6M566.0,275.8 566.6,271.6M559.0,272.2 565.1,269.0M572.1,261.2 571.8,266.7M567.3,260.5 566.2,266.7M561.6,265.0 565.3,267.4M648.0,565.2 646.1,565.4M648.0,565.2 649.5,558.0M646.1,565.4 639.3,561.3M649.5,558.0 645.1,554.4M645.1,554.4 642.1,554.9M642.1,554.9 638.7,560.3M638.7,560.3 639.3,561.3M653.0,568.4 648.0,565.2M640.4,573.7 646.1,565.4M654.9,555.7 649.5,558.0M635.0,571.9 639.3,561.3M648.0,548.8 645.1,554.4M639.1,550.6 642.1,554.9M631.9,558.8 638.7,560.3M639.3,492.6 641.5,491.6M640.7,486.0 642.5,488.6M641.5,491.6 642.5,488.6M639.7,471.2 641.3,471.0M639.4,462.5 643.4,464.1M641.3,471.0 643.4,464.1M646.2,456.5 645.0,463.5M645.0,463.5 643.4,464.1M662.4,483.7 658.1,485.4M660.2,478.6 656.9,480.5M658.1,485.4 656.4,484.9M656.9,480.5 656.4,484.9M658.7,475.6 653.8,474.8M653.8,474.8 653.4,478.5M656.9,480.5 653.4,478.5M639.8,480.0 642.9,478.7M641.3,471.0 643.4,472.0M643.4,472.0 644.2,473.9M642.9,478.7 644.2,473.9M650.2,517.0 653.0,515.2M656.7,520.6 653.1,520.7M656.7,520.6 658.0,516.8M658.0,516.8 653.0,515.2M679.7,532.0 677.5,528.4M673.5,529.9 675.0,528.5M677.5,528.4 675.0,528.5M678.6,463.6 681.6,464.0M678.6,463.6 677.8,458.4M681.6,464.0 684.8,460.8M679.2,457.1 683.8,458.0M679.2,457.1 678.1,457.6M683.8,458.0 684.8,460.8M678.1,457.6 677.8,458.4M678.6,469.9 677.4,465.0M678.6,469.9 683.5,468.0M683.6,467.7 681.6,464.0M677.4,465.0 678.6,463.6M673.1,464.9 677.4,465.0M671.6,461.9 677.8,458.4M686.9,462.3 684.8,460.8M680.4,449.0 679.2,457.1M686.3,455.4 683.8,458.0M672.8,454.2 678.1,457.6M674.2,479.2 672.5,477.3M674.2,479.2 678.2,478.7M672.5,477.3 672.6,473.5M678.2,478.7 678.0,472.7M677.5,472.0 674.3,472.1M677.5,472.0 678.0,472.7M674.3,472.1 672.6,473.5M669.1,483.3 670.0,483.9M673.3,482.7 670.0,483.9M673.3,482.7 674.2,479.2M668.1,479.5 672.5,477.3M667.0,472.8 672.6,473.5M678.6,469.9 677.5,472.0M672.1,467.3 674.3,472.1M682.4,474.0 685.1,472.0M682.4,474.0 678.0,472.7M682.4,474.0 684.0,478.8M689.0,475.7 684.4,479.1M684.4,479.1 684.0,478.8M678.2,478.7 678.8,479.3M684.0,478.8 678.8,479.3M673.3,482.7 676.8,484.9M676.8,484.9 678.5,483.3M678.8,479.3 678.5,483.3M686.6,487.9 685.0,487.2M686.6,487.9 691.5,485.3M685.0,487.2 684.4,484.8M684.4,484.8 685.2,481.9M685.2,481.9 691.3,481.8M691.3,481.8 691.5,485.3M688.4,490.7 686.6,487.9M694.9,487.6 691.5,485.3M678.5,483.3 684.4,484.8M684.4,479.1 685.2,481.9M692.0,480.9 691.3,481.8M658.1,485.4 660.3,491.1M663.8,485.1 664.3,489.5M664.3,489.5 660.3,491.1M656.2,498.2 656.0,492.8M656.0,492.8 656.4,492.3M656.4,492.3 660.0,491.5M657.9,498.8 656.9,498.8M657.9,498.8 661.6,495.9M661.6,495.9 660.0,491.5M652.8,486.2 656.4,484.9M652.9,487.0 656.4,492.3M652.9,487.0 652.8,486.2M660.3,491.1 660.0,491.5M678.3,500.5 678.0,500.4M676.2,503.9 680.5,509.3M676.2,503.9 677.7,500.6M678.0,500.4 677.7,500.6M518.2,518.0 519.0,514.5M518.2,518.0 513.3,519.2M519.0,514.5 514.2,512.1M513.3,519.2 512.3,514.0M514.2,512.1 512.7,513.1M512.3,514.0 512.7,513.1M512.7,520.2 513.3,519.2M520.0,520.3 518.2,518.0M506.5,515.8 512.3,514.0M507.8,509.4 512.7,513.1M523.3,515.2 523.8,519.1M523.3,515.2 526.0,513.3M526.0,513.3 529.8,517.9M523.8,519.1 529.3,520.0M529.3,520.0 529.8,517.9M519.5,514.2 523.3,515.2M519.5,514.2 519.0,514.5M522.0,520.5 523.8,519.1M521.1,509.6 526.4,511.3M526.4,511.3 526.0,513.3M519.5,514.2 521.1,509.6M527.5,510.1 526.4,511.3M536.2,511.9 529.8,517.9M530.0,521.8 529.3,520.0M518.1,502.7 512.6,506.4M518.1,502.7 520.0,506.2M519.9,507.0 520.0,506.2M519.9,507.0 514.5,510.7M514.5,510.7 512.6,506.4M518.1,500.5 518.1,502.7M511.3,506.1 512.6,506.4M526.9,505.3 520.0,506.2M521.1,509.6 519.9,507.0M514.2,512.1 514.5,510.7M524.4,530.0 524.6,534.1M530.1,534.8 526.9,535.4M524.6,534.1 526.9,535.4M517.8,531.7 520.8,535.0M524.6,534.1 520.8,535.0M514.2,539.6 519.9,538.9M520.8,535.0 519.9,538.9M529.6,544.5 524.8,541.1M529.6,544.5 525.3,551.0M525.3,551.0 520.8,550.2M522.2,541.3 524.8,541.1M522.2,541.3 519.8,546.5M520.8,550.2 519.8,546.5M526.9,535.4 524.8,541.1M533.4,543.4 529.6,544.5M531.2,559.4 525.3,551.0M520.4,550.6 520.8,550.2M519.9,538.9 522.2,541.3M513.9,543.4 519.8,546.5M650.4,495.5 645.2,496.4M650.4,495.5 650.9,494.0M650.9,494.0 649.9,491.8M649.9,491.8 647.1,491.0M647.1,491.0 644.8,493.6M645.2,496.4 644.8,493.6M651.8,498.2 650.4,495.5M649.0,502.7 649.5,502.4M644.7,497.3 645.2,496.4M656.0,492.8 650.9,494.0M652.9,487.0 649.9,491.8M646.1,488.3 642.5,488.6M641.5,491.6 644.8,493.6M646.1,488.3 647.1,491.0M647.6,469.9 648.8,465.6M647.6,469.9 651.9,473.2M650.2,465.2 654.4,468.4M650.2,465.2 648.8,465.6M654.4,468.4 654.8,470.0M654.8,470.0 652.9,473.3M651.9,473.2 652.9,473.3M643.4,472.0 647.6,469.9M645.0,463.5 648.8,465.6M644.2,473.9 648.1,475.8M648.1,475.8 651.9,473.2M658.7,463.0 654.4,468.4M653.3,459.7 650.2,465.2M659.2,470.5 654.8,470.0M653.8,474.8 652.9,473.3M650.6,480.8 652.2,485.8M650.6,480.8 648.3,480.0M646.6,480.6 648.3,480.0M646.6,480.6 645.4,483.9M652.2,485.8 647.1,486.6M647.1,486.6 645.4,483.9M653.4,478.5 650.6,480.8M652.8,486.2 652.2,485.8M648.1,475.8 648.3,480.0M642.9,478.7 646.6,480.6M641.4,484.4 645.4,483.9M646.1,488.3 647.1,486.6M652.6,509.5 655.6,504.8M652.6,509.5 654.0,511.2M654.0,511.2 659.1,511.2M658.0,505.8 655.6,504.8M658.0,505.8 659.6,510.6M659.6,510.6 659.1,511.2M655.3,504.3 655.6,504.8M650.7,509.2 652.6,509.5M653.0,515.2 654.0,511.2M658.0,516.8 659.4,515.9M659.4,515.9 659.1,511.2M684.9,521.7 683.4,520.4M684.9,521.7 682.7,526.2M683.4,520.4 677.0,520.1M682.7,526.2 679.5,526.1M679.5,526.1 676.7,520.8M677.0,520.1 676.7,520.8M687.6,521.6 684.9,521.7M683.5,515.7 683.4,520.4M684.0,528.5 682.7,526.2M679.3,513.6 676.3,518.0M676.3,518.0 677.0,520.1M677.5,528.4 679.5,526.1M675.0,528.5 673.7,523.3M673.7,523.3 676.7,520.8M668.9,529.3 668.9,525.7M673.7,523.3 670.7,523.4M668.9,525.7 670.7,523.4M679.1,511.4 672.5,510.1M676.3,518.0 672.1,516.1M672.1,516.1 672.5,510.1M676.2,503.9 673.0,505.7M673.0,505.7 671.5,508.7M672.5,510.1 671.5,508.7M657.9,498.8 661.9,502.4M658.0,505.8 662.0,503.3M661.9,502.4 662.0,503.3M664.3,489.5 666.5,490.5M670.0,483.9 670.2,486.4M666.5,490.5 670.2,486.4M664.2,530.3 662.8,525.7M668.9,525.7 665.3,524.0M665.3,524.0 662.8,525.7M657.4,526.2 658.9,524.1M662.8,525.7 658.9,524.1M656.7,520.6 658.9,524.0M658.9,524.0 658.9,524.1M669.8,508.8 666.0,513.3M669.8,508.8 665.3,505.9M665.3,505.9 665.3,505.9M665.3,505.9 662.4,510.1M662.4,510.1 666.0,513.3M673.0,505.7 669.0,500.9M669.0,500.9 665.3,505.9M671.5,508.7 669.8,508.8M659.6,510.6 662.4,510.1M662.0,503.3 665.3,505.9M667.8,493.4 663.5,496.6M667.8,493.4 670.2,498.6M670.2,498.6 669.0,500.4M669.0,500.4 664.3,499.2M663.5,496.6 664.3,499.2M666.5,490.5 667.9,492.9M667.9,492.9 667.8,493.4M661.6,495.9 663.5,496.6M673.1,498.1 677.7,500.6M673.1,498.1 670.2,498.6M669.0,500.9 669.0,500.4M661.9,502.4 664.3,499.2M674.3,492.9 678.5,494.5M674.3,492.9 673.7,491.8M673.7,491.8 674.3,489.5M674.3,489.5 676.8,487.8M676.8,487.8 681.3,490.0M678.5,494.5 681.2,492.5M681.2,492.5 681.3,490.0M673.1,498.1 674.3,492.9M678.0,500.4 678.5,494.5M667.9,492.9 673.7,491.8M670.2,486.4 674.3,489.5M676.8,484.9 676.8,487.8M685.0,487.2 681.3,490.0M684.7,495.9 681.2,492.5M665.1,520.8 662.6,520.3M665.1,520.8 668.2,518.2M666.1,514.9 668.4,517.5M666.1,514.9 660.7,516.5M660.7,516.5 662.6,520.3M668.2,518.2 668.4,517.5M665.3,524.0 665.1,520.8M658.9,524.0 662.6,520.3M670.7,523.4 668.2,518.2M672.1,516.1 668.4,517.5M666.0,513.3 666.1,514.9M659.4,515.9 660.7,516.5" fill="none" stroke="#a6a6a6" stroke-width="0.75" stroke-linecap="round"/>
<path d="M234.4,69.4 411.6,69.4M234.4,101.0 411.6,101.0M234.4,132.4 411.6,132.4M234.4,163.4 411.6,163.4M233.6,194.4 412.0,194.4M233.6,228.0 530.0,228.0M233.6,259.0 530.0,259.0M233.6,289.0 530.0,289.0M233.6,319.4 412.0,319.4M233.0,349.6 412.0,349.6M285.6,37.6 285.6,163.4M316.6,37.6 316.6,163.4M348.4,37.6 348.4,163.4M380.0,37.6 380.0,163.4M264.0,163.4 264.0,194.4M294.4,163.4 294.4,194.4M325.4,163.4 325.4,194.4M356.6,163.4 356.6,194.4M387.6,163.4 387.6,194.4M259.0,194.4 259.0,289.0M290.0,194.4 290.0,289.0M321.0,194.4 321.0,289.0M351.0,194.4 351.0,289.0M381.6,194.4 381.6,289.0M412.0,176.0 412.0,289.0M282.4,289.0 282.4,319.4M313.0,289.0 313.0,319.4M343.0,289.0 343.0,319.4M374.0,289.0 374.0,319.4M403.0,289.0 403.0,319.4M283.0,319.4 283.0,349.6M313.0,319.4 313.0,349.6M342.4,319.4 342.4,349.6M372.0,319.4 372.0,349.6M402.4,319.4 402.4,349.6M248.6,349.6 248.6,379.0M277.0,349.6 277.0,379.0M307.4,349.6 307.4,379.0M337.6,349.6 337.6,379.0M363.0,349.6 363.0,379.0M398.0,349.6 398.0,379.0M207.0,379.0 412.0,379.0M277.0,379.0 277.0,418.0M307.4,379.0 307.4,418.0M337.6,379.0 337.6,418.0M371.4,379.0 371.4,418.0M404.0,379.0 404.0,418.0M277.0,418.0 412.0,418.0M217.6,355.8 217.6,379.0M356.0,418.0 356.0,472.0M404.0,418.0 404.0,472.0M356.0,443.6 404.0,443.6M308.7,472.0 412.0,472.0M442.0,190.0 442.0,289.0M472.4,205.0 472.4,289.0M503.4,205.0 503.4,289.0M530.0,205.0 530.0,289.0M176.0,355.8 172.5,416.0 122.5,447.5M122.5,447.5 190.0,464.0 210.0,447.5M202.5,439.0 275.3,500.0M190.0,464.0 190.0,540.0M176.0,355.8 182.0,356.0 190.0,367.0 200.0,375.0 207.0,380.0M277.0,418.0 270.0,414.0 262.0,405.0 250.0,402.0 236.0,399.0 221.0,412.5 202.5,439.0M175.0,417.0 187.5,412.0 212.5,409.0 220.5,414.0M55.0,355.8 55.0,377.0 50.0,385.0M283.0,440.0 283.0,450.7 275.3,450.7 275.3,472.0 262.0,472.0 262.0,489.0M277.0,418.0 283.0,430.0 283.0,440.0M307.0,418.0 306.0,430.0 312.0,440.0 311.0,460.0 308.7,472.0 308.7,505.3M370.0,472.0 370.0,541.0M370.0,516.8 404.7,516.8M371.0,552.0 404.7,552.0M404.7,472.0 404.7,582.0M405.3,516.0 405.3,582.0M445.3,516.0 445.3,612.0M372.0,552.7 405.3,552.7M434.7,500.0 434.7,516.0M481.0,490.0 481.0,674.0M481.0,704.0 481.0,738.0M400.0,516.0 509.0,516.0M405.0,582.0 509.0,582.0M481.0,622.0 530.0,622.0M509.0,582.0 509.0,622.0M481.0,674.0 566.0,674.0M443.0,671.0 481.0,674.0M473.0,668.0 473.0,704.0M473.0,668.0 503.0,668.0M472.0,704.0 530.0,704.0M503.0,668.0 503.0,704.0M530.0,674.0 530.0,726.0M479.0,726.0 566.0,716.0M514.0,634.0 514.0,674.0M524.0,634.0 524.0,672.0M481.0,640.0 514.0,640.0M452.0,656.0 481.0,660.0M400.0,350.0 464.0,350.0M429.0,350.0 429.0,363.0M458.7,349.3 458.7,390.0M405.0,384.0 423.0,384.0M400.0,366.9 419.8,365.3 422.9,380.6 430.5,386.7 441.0,393.5 450.0,392.0 458.7,390.0 465.0,392.0 482.0,392.8 494.5,386.7 500.6,395.8 501.3,408.0 497.0,416.0 501.0,429.0M405.0,384.0 405.0,442.0M434.5,388.0 434.5,442.0M400.0,418.0 434.0,418.0M400.0,442.0 442.0,442.0M465.0,392.0 465.0,429.0M465.0,429.0 501.0,429.0M435.0,426.0 465.0,426.0M442.0,426.0 442.0,458.0M404.0,458.0 453.0,458.0M472.0,429.0 472.0,456.0M453.0,456.0 500.0,456.0M453.0,458.0 453.0,486.0M493.0,456.0 493.0,500.0M426.0,472.0 426.0,500.0M400.0,472.0 426.0,472.0M430.0,486.0 454.0,486.0M434.7,289.0 434.7,349.6M464.8,289.0 464.8,349.6M495.2,289.0 495.2,319.0M412.0,319.0 497.5,319.0M484.6,318.9 489.9,331.8 499.0,333.3 497.5,338.7 517.3,362.3 500.6,374.5 488.4,373.0 476.2,350.1 464.8,349.6M489.9,331.8 482.0,341.0 476.2,350.1M497.5,338.7 508.0,331.0 520.0,325.0M500.6,374.5 512.0,392.0 501.3,408.0M488.4,373.0 482.0,392.8M430.0,472.0 430.0,490.0 481.0,490.0" fill="none" stroke="#a2a2a2" stroke-width="0.85" clip-path="url(#txclip)"/>
<path d="M575.0,650.0 568.0,662.0 563.0,672.0 560.0,685.0 555.0,697.0 558.0,708.0 561.0,723.0 565.0,742.0 570.0,752.0M700.0,546.0 688.0,555.0 668.0,569.0 648.0,581.0 628.0,591.0 617.0,599.0 604.0,607.0 594.0,615.0" fill="none" stroke="#a8a8a8" stroke-width="1.6" stroke-linejoin="round"/>
<path d="M234.4,37.6 233.4,355.8 40.0,355.8 28.0,358.0 23.0,366.0 30.0,375.0 42.0,380.0 50.0,385.0 57.5,392.5 65.0,400.0 75.0,410.0 85.0,420.0 97.5,434.0 110.0,440.0 122.5,447.5 127.5,460.0 130.0,466.7 138.0,482.7 140.7,498.7 148.7,514.7 164.7,525.3 178.0,536.0 191.3,541.3 199.3,546.7 212.7,556.0 220.7,559.5 230.0,558.7 232.7,552.0 236.7,545.3 243.3,542.7 244.7,533.3 248.7,522.7 254.0,510.7 263.3,506.7 271.3,505.3 275.3,500.0 284.7,503.5 295.3,504.0 308.7,505.3 327.3,506.7 335.3,517.3 346.0,525.3 356.7,534.7 364.7,541.3 371.3,554.7 375.3,565.3 383.3,581.3 391.3,592.0 394.0,605.3 404.7,616.0 410.0,621.0 418.0,632.0 426.0,642.0 434.0,656.0 440.0,668.0 446.0,680.0 452.0,696.0 458.0,708.0 464.0,728.0 474.0,732.0 480.0,738.0 490.0,738.0 500.0,740.0 504.0,748.0 520.0,752.0 540.0,752.0 550.0,758.0 556.0,768.0 564.0,768.0 572.0,760.0 580.0,750.0 578.0,744.0 572.0,732.0 566.0,708.0 564.0,686.0 566.0,668.0 572.0,650.0 580.0,636.0 592.0,622.0 596.0,618.0 606.0,610.0 620.0,602.0 630.0,594.0 650.0,584.0 670.0,572.0 690.0,558.0 702.0,548.0 720.0,530.0 738.0,522.0 760.0,512.0 772.0,510.0 775.0,500.0 780.0,490.0 784.0,478.0 781.0,468.0 778.7,458.0 783.2,445.8 786.3,433.6 790.0,421.4 788.6,412.3 783.2,398.6 777.1,383.3 772.6,372.7 766.5,360.5 759.3,356.0 759.3,248.0 753.3,245.3 742.7,246.0 734.7,242.7 722.7,238.0 713.3,233.3 706.7,228.7 698.7,222.0 689.3,219.3 685.3,224.7 673.3,224.7 668.0,220.7 660.0,223.3 650.0,226.0 630.0,230.0 610.0,224.0 600.0,221.0 592.0,226.0 586.0,220.0 572.0,228.0 560.0,224.0 548.0,217.0 540.0,222.0 530.0,216.0 520.0,205.0 506.0,206.0 494.0,209.0 480.0,204.0 470.0,203.0 460.0,202.0 454.0,190.0 448.0,184.0 442.0,190.0 432.0,188.0 422.0,183.0 411.6,176.0 411.6,37.6Z" fill="none" stroke="#9d9d9d" stroke-width="1.2" stroke-linejoin="round"/>
<use href="#d" x="263.0" y="40.6"/>
<use href="#d" x="234.6" y="51.0"/>
<use href="#d" x="234.0" y="62.6"/>
<use href="#d" x="259.6" y="63.6"/>
<use href="#d" x="253.0" y="82.0"/>
<use href="#d" x="322.0" y="47.6"/>
<use href="#d" x="350.0" y="53.0"/>
<use href="#d" x="355.0" y="50.0"/>
<use href="#d" x="382.0" y="40.6"/>
<use href="#d" x="322.0" y="68.0"/>
<use href="#d" x="320.0" y="80.0"/>
<use href="#d" x="297.0" y="101.0"/>
<use href="#d" x="322.0" y="95.0"/>
<use href="#d" x="297.0" y="121.0"/>
<use href="#d" x="325.0" y="118.0"/>
<use href="#d" x="315.0" y="127.0"/>
<use href="#d" x="328.0" y="138.0"/>
<use href="#d" x="345.0" y="108.0"/>
<use href="#d" x="389.0" y="81.0"/>
<use href="#d" x="404.0" y="74.0"/>
<use href="#d" x="398.0" y="105.0"/>
<use href="#d" x="402.0" y="102.0"/>
<use href="#d" x="405.0" y="102.0"/>
<use href="#d" x="404.0" y="115.0"/>
<use href="#d" x="396.0" y="129.0"/>
<use href="#d" x="307.0" y="178.0"/>
<use href="#d" x="327.0" y="176.0"/>
<use href="#d" x="308.0" y="188.0"/>
<use href="#d" x="235.0" y="189.0"/>
<use href="#d" x="251.0" y="199.6"/>
<use href="#d" x="290.0" y="245.0"/>
<use href="#d" x="253.0" y="250.6"/>
<use href="#d" x="378.0" y="268.6"/>
<use href="#d" x="424.0" y="257.0"/>
<use href="#d" x="396.0" y="295.0"/>
<use href="#d" x="355.0" y="303.0"/>
<use href="#d" x="358.0" y="306.0"/>
<use href="#d" x="296.0" y="324.0"/>
<use href="#d" x="337.0" y="323.0"/>
<use href="#d" x="415.0" y="324.0"/>
<use href="#d" x="420.0" y="339.0"/>
<use href="#d" x="495.0" y="211.6"/>
<use href="#d" x="489.6" y="220.0"/>
<use href="#d" x="503.0" y="247.0"/>
<use href="#d" x="577.0" y="240.6"/>
<use href="#d" x="524.0" y="287.0"/>
<use href="#d" x="535.0" y="304.0"/>
<use href="#d" x="546.0" y="302.0"/>
<use href="#d" x="461.0" y="323.0"/>
<use href="#d" x="486.0" y="319.6"/>
<use href="#d" x="487.6" y="322.0"/>
<use href="#d" x="553.0" y="313.0"/>
<use href="#d" x="554.0" y="320.0"/>
<use href="#d" x="550.0" y="324.0"/>
<use href="#d" x="554.0" y="329.0"/>
<use href="#d" x="607.0" y="316.0"/>
<use href="#d" x="753.0" y="273.0"/>
<use href="#d" x="729.0" y="293.6"/>
<use href="#d" x="659.0" y="293.6"/>
<use href="#d" x="691.0" y="309.0"/>
<use href="#d" x="696.0" y="321.6"/>
<use href="#d" x="677.0" y="327.6"/>
<use href="#d" x="673.0" y="337.6"/>
<use href="#d" x="668.0" y="349.6"/>
<use href="#d" x="757.0" y="323.0"/>
<use href="#d" x="737.0" y="338.0"/>
<use href="#d" x="745.0" y="342.0"/>
<use href="#d" x="741.0" y="345.0"/>
<use href="#d" x="748.0" y="346.0"/>
<use href="#d" x="599.0" y="352.0"/>
<use href="#d" x="609.0" y="359.0"/>
<use href="#d" x="638.0" y="342.0"/>
<use href="#d" x="650.0" y="268.0"/>
<use href="#d" x="417.0" y="390.6"/>
<use href="#d" x="542.0" y="393.0"/>
<use href="#d" x="554.0" y="407.0"/>
<use href="#d" x="546.0" y="451.6"/>
<use href="#d" x="579.0" y="488.0"/>
<use href="#d" x="566.0" y="497.0"/>
<use href="#d" x="750.0" y="369.6"/>
<use href="#d" x="652.0" y="386.6"/>
<use href="#d" x="629.0" y="393.0"/>
<use href="#d" x="676.0" y="415.0"/>
<use href="#d" x="680.0" y="426.0"/>
<use href="#d" x="636.0" y="419.0"/>
<use href="#d" x="619.0" y="422.0"/>
<use href="#d" x="638.0" y="431.0"/>
<use href="#d" x="640.0" y="441.0"/>
<use href="#d" x="644.0" y="456.0"/>
<use href="#d" x="638.0" y="465.0"/>
<use href="#d" x="640.0" y="466.0"/>
<use href="#d" x="672.0" y="460.6"/>
<use href="#d" x="737.0" y="440.0"/>
<use href="#d" x="760.0" y="417.0"/>
<use href="#d" x="741.0" y="467.0"/>
<use href="#d" x="748.0" y="465.0"/>
<use href="#d" x="726.0" y="493.0"/>
<use href="#d" x="737.0" y="502.0"/>
<use href="#d" x="750.0" y="497.0"/>
<use href="#d" x="746.0" y="485.0"/>
<use href="#d" x="633.0" y="511.0"/>
<use href="#d" x="666.0" y="476.0"/>
<use href="#d" x="591.0" y="529.0"/>
<use href="#d" x="635.0" y="552.6"/>
<use href="#d" x="606.0" y="558.6"/>
<use href="#d" x="615.0" y="558.6"/>
<use href="#d" x="637.0" y="565.0"/>
<use href="#d" x="620.0" y="578.6"/>
<use href="#d" x="598.0" y="589.6"/>
<use href="#d" x="604.0" y="596.6"/>
<use href="#d" x="615.0" y="596.0"/>
<use href="#d" x="510.0" y="504.0"/>
<use href="#d" x="533.6" y="500.0"/>
<use href="#d" x="532.0" y="503.0"/>
<use href="#d" x="566.0" y="499.0"/>
<use href="#d" x="463.0" y="535.0"/>
<use href="#d" x="580.0" y="521.0"/>
<use href="#d" x="576.0" y="529.0"/>
<use href="#d" x="591.0" y="529.0"/>
<use href="#d" x="542.0" y="538.0"/>
<use href="#d" x="540.0" y="551.0"/>
<use href="#d" x="563.0" y="550.0"/>
<use href="#d" x="584.0" y="549.0"/>
<use href="#d" x="529.0" y="560.6"/>
<use href="#d" x="606.0" y="559.0"/>
<use href="#d" x="572.0" y="578.0"/>
<use href="#d" x="598.0" y="590.0"/>
<use href="#d" x="604.0" y="597.0"/>
<use href="#d" x="513.0" y="583.0"/>
<use href="#d" x="507.0" y="595.0"/>
<use href="#d" x="496.0" y="598.0"/>
<use href="#d" x="479.0" y="590.0"/>
<use href="#d" x="434.0" y="602.0"/>
<use href="#d" x="453.0" y="606.0"/>
<use href="#d" x="495.0" y="623.0"/>
<use href="#d" x="469.0" y="661.0"/>
<use href="#d" x="504.0" y="711.0"/>
<use href="#d" x="294.0" y="444.0"/>
<use href="#d" x="296.0" y="324.0"/>
<use href="#d" x="259.0" y="356.0"/>
<use href="#d" x="306.0" y="365.0"/>
<use href="#d" x="319.0" y="369.0"/>
<use href="#d" x="357.0" y="369.0"/>
<use href="#d" x="371.0" y="352.0"/>
<use href="#d" x="301.0" y="399.0"/>
<use href="#d" x="319.0" y="404.0"/>
<use href="#d" x="344.0" y="402.0"/>
<use href="#d" x="366.0" y="402.0"/>
<use href="#d" x="233.0" y="410.0"/>
<use href="#d" x="213.0" y="391.0"/>
<use href="#d" x="576.6" y="241.0"/>
<use href="#d" x="545.7" y="301.7"/>
<use href="#d" x="553.1" y="312.6"/>
<use href="#d" x="553.7" y="319.4"/>
<use href="#d" x="549.7" y="324.0"/>
<use href="#d" x="553.7" y="328.6"/>
<use href="#d" x="606.9" y="315.4"/>
<use href="#d" x="658.9" y="293.7"/>
<use href="#d" x="650.3" y="266.9"/>
<use href="#d" x="643.7" y="456.1"/>
<use href="#d" x="665.4" y="476.7"/>
<use href="#d" x="686.0" y="479.0"/>
<use href="#d" x="740.9" y="466.4"/>
<use href="#d" x="747.7" y="464.7"/>
<use href="#d" x="49.0" y="384.0"/>
<use href="#d" x="195.0" y="398.0"/>
<use href="#d" x="194.0" y="424.0"/>
<use href="#s" x="298.0" y="29.0"/>
<use href="#s" x="356.5" y="37.7"/>
<use href="#s" x="320.0" y="46.0"/>
<use href="#s" x="333.5" y="50.7"/>
<use href="#s" x="255.0" y="60.0"/>
<use href="#s" x="284.0" y="61.0"/>
<use href="#s" x="296.0" y="63.4"/>
<use href="#s" x="286.6" y="75.0"/>
<use href="#s" x="365.0" y="87.0"/>
<use href="#s" x="321.5" y="89.1"/>
<use href="#s" x="346.9" y="96.7"/>
<use href="#s" x="355.0" y="105.0"/>
<use href="#s" x="387.5" y="104.7"/>
<use href="#s" x="296.0" y="116.0"/>
<use href="#s" x="367.0" y="119.0"/>
<use href="#s" x="296.0" y="124.0"/>
<use href="#s" x="390.5" y="146.7"/>
<use href="#s" x="262.5" y="148.3"/>
<use href="#s" x="244.1" y="161.1"/>
<use href="#s" x="268.5" y="167.1"/>
<use href="#s" x="234.0" y="175.0"/>
<use href="#s" x="390.5" y="175.7"/>
<use href="#s" x="250.0" y="180.0"/>
<use href="#s" x="279.0" y="181.0"/>
<use href="#s" x="417.5" y="185.7"/>
<use href="#s" x="302.0" y="193.0"/>
<use href="#s" x="443.5" y="195.7"/>
<use href="#s" x="319.5" y="196.7"/>
<use href="#s" x="507.0" y="203.0"/>
<use href="#s" x="466.5" y="204.7"/>
<use href="#s" x="265.0" y="212.0"/>
<use href="#s" x="490.5" y="213.7"/>
<use href="#s" x="295.0" y="219.0"/>
<use href="#s" x="599.0" y="221.0"/>
<use href="#s" x="602.0" y="222.0"/>
<use href="#s" x="241.0" y="226.0"/>
<use href="#s" x="663.5" y="229.7"/>
<use href="#s" x="599.9" y="233.0"/>
<use href="#s" x="534.4" y="235.6"/>
<use href="#s" x="264.0" y="236.0"/>
<use href="#s" x="292.0" y="236.0"/>
<use href="#s" x="445.0" y="236.0"/>
<use href="#s" x="640.7" y="237.9"/>
<use href="#s" x="296.0" y="239.0"/>
<use href="#s" x="527.0" y="240.0"/>
<use href="#s" x="352.0" y="243.0"/>
<use href="#s" x="612.1" y="243.6"/>
<use href="#s" x="728.0" y="245.0"/>
<use href="#s" x="257.0" y="246.0"/>
<use href="#s" x="306.0" y="246.0"/>
<use href="#s" x="748.5" y="245.7"/>
<use href="#s" x="591.6" y="248.1"/>
<use href="#s" x="593.0" y="253.0"/>
<use href="#s" x="604.1" y="255.0"/>
<use href="#s" x="529.0" y="257.0"/>
<use href="#s" x="587.0" y="257.3"/>
<use href="#s" x="578.8" y="257.6"/>
<use href="#s" x="543.6" y="260.7"/>
<use href="#s" x="510.5" y="260.7"/>
<use href="#s" x="567.6" y="263.0"/>
<use href="#s" x="270.0" y="264.0"/>
<use href="#s" x="321.0" y="264.0"/>
<use href="#s" x="530.5" y="263.7"/>
<use href="#s" x="598.4" y="264.1"/>
<use href="#s" x="696.1" y="264.7"/>
<use href="#s" x="638.4" y="266.4"/>
<use href="#s" x="583.0" y="267.0"/>
<use href="#s" x="660.1" y="266.7"/>
<use href="#s" x="628.1" y="268.7"/>
<use href="#s" x="665.0" y="271.0"/>
<use href="#s" x="486.5" y="270.7"/>
<use href="#s" x="578.8" y="273.6"/>
<use href="#s" x="620.1" y="274.4"/>
<use href="#s" x="591.0" y="275.0"/>
<use href="#s" x="557.3" y="275.6"/>
<use href="#s" x="606.4" y="276.7"/>
<use href="#s" x="696.1" y="277.7"/>
<use href="#s" x="238.5" y="278.7"/>
<use href="#s" x="677.0" y="280.0"/>
<use href="#s" x="537.9" y="280.1"/>
<use href="#s" x="525.0" y="281.0"/>
<use href="#s" x="575.0" y="281.0"/>
<use href="#s" x="415.5" y="280.7"/>
<use href="#s" x="598.2" y="281.0"/>
<use href="#s" x="252.0" y="282.0"/>
<use href="#s" x="261.0" y="283.0"/>
<use href="#s" x="550.4" y="287.0"/>
<use href="#s" x="586.2" y="287.8"/>
<use href="#s" x="563.0" y="289.0"/>
<use href="#s" x="512.0" y="291.0"/>
<use href="#s" x="603.4" y="291.3"/>
<use href="#s" x="619.4" y="292.4"/>
<use href="#s" x="558.2" y="293.6"/>
<use href="#s" x="465.0" y="294.0"/>
<use href="#s" x="443.0" y="295.0"/>
<use href="#s" x="569.9" y="295.0"/>
<use href="#s" x="588.1" y="296.1"/>
<use href="#s" x="247.0" y="297.0"/>
<use href="#s" x="605.3" y="297.3"/>
<use href="#s" x="579.0" y="299.6"/>
<use href="#s" x="551.9" y="299.3"/>
<use href="#s" x="665.0" y="300.0"/>
<use href="#s" x="585.0" y="303.0"/>
<use href="#s" x="570.2" y="305.0"/>
<use href="#s" x="497.0" y="309.0"/>
<use href="#s" x="656.0" y="309.0"/>
<use href="#s" x="731.0" y="309.0"/>
<use href="#s" x="592.0" y="309.0"/>
<use href="#s" x="561.0" y="309.0"/>
<use href="#s" x="703.0" y="311.0"/>
<use href="#s" x="574.0" y="313.0"/>
<use href="#s" x="380.5" y="313.7"/>
<use href="#s" x="710.5" y="313.7"/>
<use href="#s" x="417.0" y="316.0"/>
<use href="#s" x="585.9" y="319.0"/>
<use href="#s" x="679.5" y="318.7"/>
<use href="#s" x="629.3" y="320.1"/>
<use href="#s" x="533.3" y="320.1"/>
<use href="#s" x="701.0" y="321.0"/>
<use href="#s" x="598.4" y="321.3"/>
<use href="#s" x="552.7" y="322.4"/>
<use href="#s" x="255.5" y="323.7"/>
<use href="#s" x="591.0" y="325.0"/>
<use href="#s" x="677.0" y="327.0"/>
<use href="#s" x="317.5" y="328.2"/>
<use href="#s" x="507.5" y="328.7"/>
<use href="#s" x="705.0" y="333.0"/>
<use href="#s" x="644.0" y="333.0"/>
<use href="#s" x="586.0" y="334.0"/>
<use href="#s" x="568.0" y="335.0"/>
<use href="#s" x="624.0" y="336.0"/>
<use href="#s" x="275.0" y="338.0"/>
<use href="#s" x="607.0" y="340.0"/>
<use href="#s" x="276.0" y="341.0"/>
<use href="#s" x="614.0" y="344.0"/>
<use href="#s" x="569.0" y="346.0"/>
<use href="#s" x="749.0" y="349.0"/>
<use href="#s" x="585.0" y="349.0"/>
<use href="#s" x="29.0" y="349.5"/>
<use href="#s" x="678.0" y="350.0"/>
<use href="#s" x="285.5" y="349.7"/>
<use href="#s" x="19.5" y="351.0"/>
<use href="#s" x="273.5" y="350.7"/>
<use href="#s" x="539.0" y="352.0"/>
<use href="#s" x="264.0" y="354.0"/>
<use href="#s" x="223.5" y="355.7"/>
<use href="#s" x="15.0" y="357.0"/>
<use href="#s" x="37.2" y="358.4"/>
<use href="#s" x="572.0" y="359.0"/>
<use href="#s" x="686.5" y="358.7"/>
<use href="#s" x="23.8" y="360.0"/>
<use href="#s" x="28.2" y="360.0"/>
<use href="#s" x="658.0" y="362.0"/>
<use href="#s" x="403.0" y="363.0"/>
<use href="#s" x="462.1" y="365.1"/>
<use href="#s" x="513.1" y="365.1"/>
<use href="#s" x="23.0" y="367.0"/>
<use href="#s" x="37.0" y="368.0"/>
<use href="#s" x="620.0" y="371.0"/>
<use href="#s" x="571.0" y="372.0"/>
<use href="#s" x="714.0" y="374.0"/>
<use href="#s" x="567.0" y="375.0"/>
<use href="#s" x="605.5" y="377.2"/>
<use href="#s" x="746.5" y="377.7"/>
<use href="#s" x="665.0" y="379.0"/>
<use href="#s" x="563.0" y="381.0"/>
<use href="#s" x="377.0" y="385.0"/>
<use href="#s" x="199.0" y="387.0"/>
<use href="#s" x="666.0" y="388.0"/>
<use href="#s" x="266.1" y="387.7"/>
<use href="#s" x="709.1" y="391.7"/>
<use href="#s" x="584.1" y="392.3"/>
<use href="#s" x="562.0" y="396.0"/>
<use href="#s" x="595.0" y="403.0"/>
<use href="#s" x="706.0" y="403.0"/>
<use href="#s" x="523.0" y="407.0"/>
<use href="#s" x="537.0" y="408.0"/>
<use href="#s" x="550.5" y="408.1"/>
<use href="#s" x="559.0" y="409.0"/>
<use href="#s" x="508.9" y="408.7"/>
<use href="#s" x="121.0" y="411.7"/>
<use href="#s" x="292.1" y="419.7"/>
<use href="#s" x="752.9" y="420.7"/>
<use href="#s" x="235.5" y="421.7"/>
<use href="#s" x="599.0" y="423.0"/>
<use href="#s" x="368.1" y="423.7"/>
<use href="#s" x="553.0" y="425.0"/>
<use href="#s" x="662.0" y="433.0"/>
<use href="#s" x="698.5" y="433.7"/>
<use href="#s" x="611.0" y="435.0"/>
<use href="#s" x="332.0" y="435.0"/>
<use href="#s" x="577.0" y="438.0"/>
<use href="#s" x="616.0" y="439.0"/>
<use href="#s" x="366.5" y="443.5"/>
<use href="#s" x="553.0" y="444.0"/>
<use href="#s" x="539.0" y="451.0"/>
<use href="#s" x="521.0" y="457.0"/>
<use href="#s" x="543.0" y="459.0"/>
<use href="#s" x="667.5" y="459.7"/>
<use href="#s" x="556.0" y="461.0"/>
<use href="#s" x="745.0" y="462.0"/>
<use href="#s" x="469.1" y="463.7"/>
<use href="#s" x="534.9" y="463.7"/>
<use href="#s" x="666.5" y="465.7"/>
<use href="#s" x="739.0" y="468.0"/>
<use href="#s" x="613.0" y="470.0"/>
<use href="#s" x="661.0" y="471.0"/>
<use href="#s" x="766.0" y="472.0"/>
<use href="#s" x="728.0" y="474.0"/>
<use href="#s" x="747.5" y="474.7"/>
<use href="#s" x="559.0" y="476.0"/>
<use href="#s" x="631.0" y="476.0"/>
<use href="#s" x="685.0" y="477.0"/>
<use href="#s" x="709.0" y="478.0"/>
<use href="#s" x="761.0" y="479.0"/>
<use href="#s" x="699.0" y="479.0"/>
<use href="#s" x="675.0" y="479.0"/>
<use href="#s" x="453.5" y="480.7"/>
<use href="#s" x="529.1" y="482.7"/>
<use href="#s" x="754.5" y="483.7"/>
<use href="#s" x="661.1" y="483.7"/>
<use href="#s" x="691.0" y="488.0"/>
<use href="#s" x="585.5" y="487.7"/>
<use href="#s" x="539.0" y="489.0"/>
<use href="#s" x="653.0" y="489.0"/>
<use href="#s" x="757.0" y="491.0"/>
<use href="#s" x="671.5" y="490.7"/>
<use href="#s" x="663.5" y="493.7"/>
<use href="#s" x="649.5" y="495.7"/>
<use href="#s" x="686.5" y="495.7"/>
<use href="#s" x="689.6" y="496.3"/>
<use href="#s" x="645.0" y="498.6"/>
<use href="#s" x="697.0" y="499.0"/>
<use href="#s" x="679.0" y="499.0"/>
<use href="#s" x="511.0" y="500.0"/>
<use href="#s" x="758.0" y="501.0"/>
<use href="#s" x="491.0" y="501.0"/>
<use href="#s" x="531.0" y="502.0"/>
<use href="#s" x="671.5" y="502.7"/>
<use href="#s" x="540.5" y="503.7"/>
<use href="#s" x="694.1" y="505.4"/>
<use href="#s" x="655.3" y="505.4"/>
<use href="#s" x="497.0" y="507.0"/>
<use href="#s" x="673.6" y="507.7"/>
<use href="#s" x="513.0" y="509.0"/>
<use href="#s" x="665.6" y="510.0"/>
<use href="#s" x="502.0" y="512.0"/>
<use href="#s" x="485.0" y="513.0"/>
<use href="#s" x="686.5" y="512.7"/>
<use href="#s" x="647.3" y="513.4"/>
<use href="#s" x="596.0" y="514.0"/>
<use href="#s" x="521.0" y="514.0"/>
<use href="#s" x="690.0" y="515.0"/>
<use href="#s" x="659.0" y="517.0"/>
<use href="#s" x="551.0" y="517.0"/>
<use href="#s" x="479.0" y="519.0"/>
<use href="#s" x="667.0" y="523.0"/>
<use href="#s" x="489.0" y="523.0"/>
<use href="#s" x="678.1" y="523.7"/>
<use href="#s" x="698.7" y="523.7"/>
<use href="#s" x="484.0" y="524.0"/>
<use href="#s" x="687.3" y="524.9"/>
<use href="#s" x="495.0" y="527.0"/>
<use href="#s" x="541.0" y="531.0"/>
<use href="#s" x="570.1" y="530.7"/>
<use href="#s" x="703.3" y="532.9"/>
<use href="#s" x="494.0" y="535.0"/>
<use href="#s" x="415.0" y="535.0"/>
<use href="#s" x="561.0" y="544.0"/>
<use href="#s" x="653.0" y="546.0"/>
<use href="#s" x="668.5" y="546.7"/>
<use href="#s" x="547.0" y="551.0"/>
<use href="#s" x="637.0" y="552.0"/>
<use href="#s" x="672.0" y="553.0"/>
<use href="#s" x="540.0" y="555.0"/>
<use href="#s" x="456.5" y="556.3"/>
<use href="#s" x="528.1" y="561.7"/>
<use href="#s" x="578.5" y="561.7"/>
<use href="#s" x="375.0" y="568.7"/>
<use href="#s" x="531.0" y="575.0"/>
<use href="#s" x="600.5" y="574.7"/>
<use href="#s" x="447.0" y="587.0"/>
<use href="#s" x="509.0" y="587.0"/>
<use href="#s" x="534.0" y="589.0"/>
<use href="#s" x="513.0" y="594.0"/>
<use href="#s" x="559.0" y="600.0"/>
<use href="#s" x="529.0" y="609.0"/>
<use href="#s" x="575.0" y="612.0"/>
<use href="#s" x="439.0" y="613.0"/>
<use href="#s" x="545.0" y="615.0"/>
<use href="#s" x="553.0" y="619.0"/>
<use href="#s" x="565.0" y="624.0"/>
<use href="#s" x="537.0" y="630.0"/>
<use href="#s" x="551.0" y="631.0"/>
<use href="#s" x="515.0" y="632.0"/>
<use href="#s" x="529.0" y="645.0"/>
<use href="#s" x="433.5" y="644.7"/>
<use href="#s" x="432.0" y="653.0"/>
<use href="#s" x="510.0" y="667.0"/>
<use href="#s" x="445.0" y="688.0"/>
<use href="#s" x="532.0" y="716.0"/>
<use href="#s" x="473.1" y="721.7"/>
<use href="#s" x="521.0" y="724.0"/>
<use href="#s" x="506.0" y="724.0"/>
<use href="#s" x="509.5" y="727.7"/>
<use href="#s" x="497.0" y="729.0"/>
<use href="#s" x="538.1" y="732.3"/>
<use href="#s" x="520.5" y="735.3"/>
<use href="#s" x="503.0" y="736.0"/>
<use href="#s" x="511.0" y="737.0"/>
<use href="#s" x="527.0" y="737.0"/>
<use href="#s" x="539.0" y="739.0"/>
<use href="#s" x="564.0" y="741.0"/>
<use href="#s" x="554.0" y="752.0"/>
<use href="#s" x="546.0" y="753.0"/>
<use href="#h" x="358.5" y="41.1"/>
<use href="#h" x="335.5" y="54.1"/>
<use href="#h" x="323.5" y="92.5"/>
<use href="#h" x="348.9" y="100.1"/>
<use href="#h" x="389.5" y="108.1"/>
<use href="#h" x="392.5" y="150.1"/>
<use href="#h" x="264.5" y="151.7"/>
<use href="#h" x="246.1" y="164.5"/>
<use href="#h" x="270.5" y="170.5"/>
<use href="#h" x="392.5" y="179.1"/>
<use href="#h" x="419.5" y="189.1"/>
<use href="#h" x="445.5" y="199.1"/>
<use href="#h" x="321.5" y="200.1"/>
<use href="#h" x="468.5" y="208.1"/>
<use href="#h" x="492.5" y="217.1"/>
<use href="#h" x="665.5" y="233.1"/>
<use href="#h" x="601.9" y="236.4"/>
<use href="#h" x="750.5" y="249.1"/>
<use href="#h" x="580.8" y="261.0"/>
<use href="#h" x="512.5" y="264.1"/>
<use href="#h" x="532.5" y="267.1"/>
<use href="#h" x="698.1" y="268.1"/>
<use href="#h" x="662.1" y="270.1"/>
<use href="#h" x="488.5" y="274.1"/>
<use href="#h" x="580.8" y="277.0"/>
<use href="#h" x="698.1" y="281.1"/>
<use href="#h" x="240.5" y="282.1"/>
<use href="#h" x="417.5" y="284.1"/>
<use href="#h" x="600.2" y="284.4"/>
<use href="#h" x="588.2" y="291.2"/>
<use href="#h" x="605.4" y="294.7"/>
<use href="#h" x="621.4" y="295.8"/>
<use href="#h" x="560.2" y="297.0"/>
<use href="#h" x="553.9" y="302.7"/>
<use href="#h" x="572.2" y="308.4"/>
<use href="#h" x="382.5" y="317.1"/>
<use href="#h" x="712.5" y="317.1"/>
<use href="#h" x="681.5" y="322.1"/>
<use href="#h" x="257.5" y="327.1"/>
<use href="#h" x="319.5" y="331.6"/>
<use href="#h" x="509.5" y="332.1"/>
<use href="#h" x="298.1" y="344.1"/>
<use href="#h" x="287.5" y="353.1"/>
<use href="#h" x="275.5" y="354.1"/>
<use href="#h" x="225.5" y="359.1"/>
<use href="#h" x="438.9" y="361.1"/>
<use href="#h" x="39.2" y="361.8"/>
<use href="#h" x="688.5" y="362.1"/>
<use href="#h" x="25.8" y="363.4"/>
<use href="#h" x="30.2" y="363.4"/>
<use href="#h" x="464.1" y="368.5"/>
<use href="#h" x="515.1" y="368.5"/>
<use href="#h" x="607.5" y="380.6"/>
<use href="#h" x="748.5" y="381.1"/>
<use href="#h" x="268.1" y="391.1"/>
<use href="#h" x="711.1" y="395.1"/>
<use href="#h" x="586.1" y="395.7"/>
<use href="#h" x="552.5" y="411.5"/>
<use href="#h" x="510.9" y="412.1"/>
<use href="#h" x="123.0" y="415.1"/>
<use href="#h" x="643.1" y="420.1"/>
<use href="#h" x="294.1" y="423.1"/>
<use href="#h" x="754.9" y="424.1"/>
<use href="#h" x="237.5" y="425.1"/>
<use href="#h" x="370.1" y="427.1"/>
<use href="#h" x="700.5" y="437.1"/>
<use href="#h" x="368.5" y="446.9"/>
<use href="#h" x="669.5" y="463.1"/>
<use href="#h" x="471.1" y="467.1"/>
<use href="#h" x="536.9" y="467.1"/>
<use href="#h" x="668.5" y="469.1"/>
<use href="#h" x="749.5" y="478.1"/>
<use href="#h" x="455.5" y="484.1"/>
<use href="#h" x="531.1" y="486.1"/>
<use href="#h" x="756.5" y="487.1"/>
<use href="#h" x="663.1" y="487.1"/>
<use href="#h" x="587.5" y="491.1"/>
<use href="#h" x="673.5" y="494.1"/>
<use href="#h" x="665.5" y="497.1"/>
<use href="#h" x="651.5" y="499.1"/>
<use href="#h" x="688.5" y="499.1"/>
<use href="#h" x="673.5" y="506.1"/>
<use href="#h" x="542.5" y="507.1"/>
<use href="#h" x="688.5" y="516.1"/>
<use href="#h" x="572.1" y="534.1"/>
<use href="#h" x="670.5" y="550.1"/>
<use href="#h" x="458.5" y="559.7"/>
<use href="#h" x="530.1" y="565.1"/>
<use href="#h" x="580.5" y="565.1"/>
<use href="#h" x="377.0" y="572.1"/>
<use href="#h" x="602.5" y="578.1"/>
<use href="#h" x="435.5" y="648.1"/>
<use href="#h" x="475.1" y="725.1"/>
<use href="#h" x="511.5" y="731.1"/>
<use href="#h" x="540.1" y="735.7"/>
<use href="#h" x="522.5" y="738.7"/>

<g font-family="Liberation Sans, sans-serif" font-weight="bold" font-size="23" fill="#000">
<text x="451.2" y="91.6" textLength="471" lengthAdjust="spacing">1,471 schools and 134 hospitals in Texas</text>
<text x="442" y="119.3" textLength="492.5" lengthAdjust="spacing">are within one mile of a high-risk chemical</text>
<text x="445.5" y="147" textLength="477" lengthAdjust="spacing">facility, threatening 721,742 students and</text>
<text x="503" y="175.4" textLength="370" lengthAdjust="spacing">an unknown number of patients</text>
</g>

<g font-family="Liberation Sans, sans-serif" fill="#000">
<text x="850" y="450.8" font-size="19" font-weight="bold" textLength="74" lengthAdjust="spacing">Legend</text>
<g font-size="14.3" font-weight="bold">
<text x="851" y="483" textLength="174" lengthAdjust="spacing">% of Pop Below Poverty</text>
<text x="851" y="625" textLength="112.5" lengthAdjust="spacing">One Mile Buffer</text>
<text x="851" y="676" textLength="64.5" lengthAdjust="spacing">Facilities</text>
<text x="851" y="727.9" textLength="164.5" lengthAdjust="spacing">Hospitals within 1 Mile</text>
<text x="851" y="779.8" textLength="154" lengthAdjust="spacing">Schools within 1 Mile</text>
</g>
<rect x="851.8" y="493.8" width="35" height="20.4" fill="#fff" stroke="#9a9a9a"/>
<rect x="851.8" y="523.4" width="35" height="20.4" fill="#cab5d9" stroke="#9a9a9a"/>
<rect x="851.8" y="552.6" width="35" height="20.8" fill="#ab8cbb" stroke="#9a9a9a"/>
<rect x="851.8" y="581.6" width="35" height="20.8" fill="#7f4a9f" stroke="#9a9a9a"/>
<g font-size="18.5">
<text x="894" y="510.6" textLength="100" lengthAdjust="spacing">0% - 18.4%</text>
<text x="894.5" y="539.5" textLength="110" lengthAdjust="spacing">18.5% - 30%</text>
<text x="894" y="568.3" textLength="110.5" lengthAdjust="spacing">30.1% - 45%</text>
<text x="894" y="597.5" textLength="85.5" lengthAdjust="spacing">Over 45%</text>
</g>
<rect x="851.8" y="633.8" width="34.8" height="20.6" fill="#ffe1a8" stroke="#9a9a9a"/>
<use href="#d" x="868.8" y="696.2"/>
<use href="#h" x="863" y="741.6"/>
<use href="#s" x="860" y="790.4"/>
</g>
<g><rect x="30" y="743.2" width="21.7" height="21.4" rx="1.6" fill="#3f6f98" stroke="none" stroke-width="1.2" opacity="1"/><rect x="30" y="767" width="21.7" height="22.0" rx="1.6" fill="#66b35c" stroke="none" stroke-width="1.2" opacity="1"/><rect x="55.2" y="767" width="21.5" height="22.0" rx="1.6" fill="#3f6f98" stroke="none" stroke-width="1.2" opacity="1"/><rect x="25.2" y="792" width="21.7" height="21.8" rx="1.6" fill="#3f6f98" stroke="none" stroke-width="1.2" opacity="1"/><rect x="42.7" y="754.5" width="21.8" height="21.2" rx="1.6" fill="#3fa654" stroke="none" stroke-width="1.2" opacity="0.85"/><rect x="43.4" y="755.2" width="8.3" height="9.4" fill="#1d6e40"/><rect x="55.2" y="767" width="8.6" height="8" fill="#176a3c"/><rect x="43.4" y="767" width="8.3" height="8" fill="#22a045"/><rect x="55.2" y="755.2" width="8.6" height="9.4" fill="#5fae5a"/><rect x="42.7" y="754.5" width="21.8" height="21.2" rx="1.6" fill="none" stroke="#1d4e7c" stroke-width="1.6" opacity="1"/><rect x="17.4" y="729.3" width="21.2" height="21.1" rx="1.6" fill="none" stroke="#1d4e7c" stroke-width="1.3" opacity="1"/><rect x="42.7" y="729.3" width="21.8" height="21.1" rx="1.6" fill="none" stroke="#66b35c" stroke-width="1.5" opacity="1"/><rect x="55.2" y="743.2" width="21.5" height="21.1" rx="1.6" fill="none" stroke="#1d4e7c" stroke-width="0.9" opacity="1"/><rect x="42.7" y="779.5" width="21.8" height="21.5" rx="1.6" fill="none" stroke="#1d4e7c" stroke-width="1.6" opacity="1"/><rect x="55.2" y="792" width="21.5" height="21.8" rx="1.6" fill="none" stroke="#66b35c" stroke-width="0.9" opacity="1"/></g>
<g font-family="Liberation Sans, sans-serif">
<text x="92" y="747.8" font-size="24.5" fill="#60ad5e" textLength="126" lengthAdjust="spacingAndGlyphs">Center for</text>
<text x="91.2" y="779.8" fill="#3a6a90" textLength="169.5" lengthAdjust="spacingAndGlyphs"><tspan font-size="32.5">E</tspan><tspan font-size="25.2">FFECTIVE</tspan></text>
<text x="92" y="812.4" fill="#3a6a90" textLength="226.5" lengthAdjust="spacingAndGlyphs"><tspan font-size="32.5">G</tspan><tspan font-size="25.2">OVERNMENT</tspan></text>
</g>
</svg></body></html>
